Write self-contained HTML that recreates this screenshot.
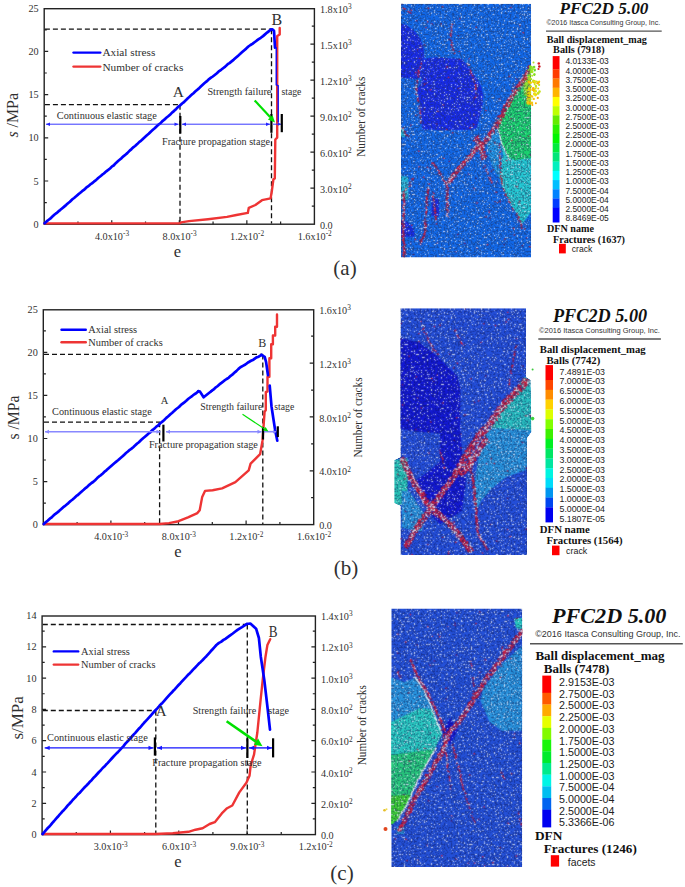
<!DOCTYPE html><html><head><meta charset="utf-8"><style>html,body{margin:0;padding:0;background:#fff;}svg{display:block;}</style></head><body>
<svg width="685" height="887" viewBox="0 0 685 887">
<defs><filter id="texA" x="0" y="0" width="1" height="1" color-interpolation-filters="sRGB">
<feTurbulence type="fractalNoise" baseFrequency="0.7" numOctaves="1" seed="5" result="n"/>
<feColorMatrix in="n" type="matrix" values="0 0 0 0 0.12  0 0 0 0 0.17  0 0 0 0 0.33  1 0 0 0 0" result="dn"/>
<feComponentTransfer in="dn" result="d"><feFuncA type="discrete" tableValues="0.62 0.62 0.62 0.62 0.62 0.62 0.62 0.62 0.4 0.15 0 0 0 0 0 0 0 0 0 0"/></feComponentTransfer>
<feColorMatrix in="n" type="matrix" values="0 0 0 0 0.86  0 0 0 0 0.89  0 0 0 0 0.96  1 0 0 0 0" result="wn"/>
<feComponentTransfer in="wn" result="w"><feFuncA type="discrete" tableValues="0 0 0 0 0 0 0 0 0 0 0 0 0 0.45 0.95 0.95 0.95 0.95 0.95 0.95"/></feComponentTransfer>
<feMerge result="m"><feMergeNode in="SourceGraphic"/><feMergeNode in="d"/><feMergeNode in="w"/></feMerge>
<feConvolveMatrix in="m" order="3" kernelMatrix="0.035 0.07 0.035 0.07 0.58 0.07 0.035 0.07 0.035" divisor="1" edgeMode="duplicate" preserveAlpha="true" result="mb"/>
<feComposite in="mb" in2="SourceGraphic" operator="in"/>
</filter><filter id="texB" x="0" y="0" width="1" height="1" color-interpolation-filters="sRGB">
<feTurbulence type="fractalNoise" baseFrequency="0.7" numOctaves="1" seed="8" result="n"/>
<feColorMatrix in="n" type="matrix" values="0 0 0 0 0.04  0 0 0 0 0.07  0 0 0 0 0.3  1 0 0 0 0" result="dn"/>
<feComponentTransfer in="dn" result="d"><feFuncA type="discrete" tableValues="0.55 0.55 0.55 0.55 0.55 0.55 0.55 0.55 0.32 0.12 0 0 0 0 0 0 0 0 0 0"/></feComponentTransfer>
<feColorMatrix in="n" type="matrix" values="0 0 0 0 0.86  0 0 0 0 0.89  0 0 0 0 0.96  1 0 0 0 0" result="wn"/>
<feComponentTransfer in="wn" result="w"><feFuncA type="discrete" tableValues="0 0 0 0 0 0 0 0 0 0 0 0 0 0.6 1.0 1.0 1.0 1.0 1.0 1.0"/></feComponentTransfer>
<feMerge result="m"><feMergeNode in="SourceGraphic"/><feMergeNode in="d"/><feMergeNode in="w"/></feMerge>
<feConvolveMatrix in="m" order="3" kernelMatrix="0.04 0.08 0.04 0.08 0.52 0.08 0.04 0.08 0.04" divisor="1" edgeMode="duplicate" preserveAlpha="true" result="mb"/>
<feComposite in="mb" in2="SourceGraphic" operator="in"/>
</filter></defs>
<rect width="685" height="887" fill="#fff"/>
<rect x="44.20" y="8.70" width="270.20" height="215.50" fill="none" stroke="#222" stroke-width="1.4"/>
<path d="M77.97 224.20v-2.6 M111.75 224.20v-4 M145.52 224.20v-2.6 M179.30 224.20v-4 M213.07 224.20v-2.6 M246.85 224.20v-4 M280.62 224.20v-2.6 M44.20 202.60h2.6 M44.20 181.00h4 M44.20 159.40h2.6 M44.20 137.80h4 M44.20 116.20h2.6 M44.20 94.60h4 M44.20 73.00h2.6 M44.20 51.40h4 M44.20 29.80h2.6 M314.40 206.20h-2.6 M314.40 188.20h-4 M314.40 170.20h-2.6 M314.40 152.20h-4 M314.40 134.20h-2.6 M314.40 116.20h-4 M314.40 98.20h-2.6 M314.40 80.20h-4 M314.40 62.20h-2.6 M314.40 44.20h-4 M314.40 26.20h-2.6" stroke="#222" stroke-width="1.2" fill="none"/>
<text x="38.6" y="227.7" font-family="'Liberation Serif', serif" font-size="10.2" text-anchor="end" font-weight="normal" font-style="normal" fill="#303030" >0</text>
<text x="38.6" y="184.5" font-family="'Liberation Serif', serif" font-size="10.2" text-anchor="end" font-weight="normal" font-style="normal" fill="#303030" >5</text>
<text x="38.6" y="141.3" font-family="'Liberation Serif', serif" font-size="10.2" text-anchor="end" font-weight="normal" font-style="normal" fill="#303030" >10</text>
<text x="38.6" y="98.1" font-family="'Liberation Serif', serif" font-size="10.2" text-anchor="end" font-weight="normal" font-style="normal" fill="#303030" >15</text>
<text x="38.6" y="54.9" font-family="'Liberation Serif', serif" font-size="10.2" text-anchor="end" font-weight="normal" font-style="normal" fill="#303030" >20</text>
<text x="38.6" y="11.7" font-family="'Liberation Serif', serif" font-size="10.2" text-anchor="end" font-weight="normal" font-style="normal" fill="#303030" >25</text>
<text x="319.9" y="228.8" font-family="'Liberation Serif', serif" font-size="10.2" text-anchor="start" font-weight="normal" font-style="normal" fill="#303030" >0.0</text>
<text x="319.9" y="192.8" font-family="'Liberation Serif', serif" font-size="10.2" text-anchor="start" fill="#303030">3.0x10<tspan font-size="7.3" dy="-3.7">2</tspan></text>
<text x="319.9" y="156.8" font-family="'Liberation Serif', serif" font-size="10.2" text-anchor="start" fill="#303030">6.0x10<tspan font-size="7.3" dy="-3.7">2</tspan></text>
<text x="319.9" y="120.8" font-family="'Liberation Serif', serif" font-size="10.2" text-anchor="start" fill="#303030">9.0x10<tspan font-size="7.3" dy="-3.7">2</tspan></text>
<text x="319.9" y="84.8" font-family="'Liberation Serif', serif" font-size="10.2" text-anchor="start" fill="#303030">1.2x10<tspan font-size="7.3" dy="-3.7">3</tspan></text>
<text x="319.9" y="48.8" font-family="'Liberation Serif', serif" font-size="10.2" text-anchor="start" fill="#303030">1.5x10<tspan font-size="7.3" dy="-3.7">3</tspan></text>
<text x="319.9" y="12.8" font-family="'Liberation Serif', serif" font-size="10.2" text-anchor="start" fill="#303030">1.8x10<tspan font-size="7.3" dy="-3.7">3</tspan></text>
<text x="112.0" y="239.9" font-family="'Liberation Serif', serif" font-size="10.2" text-anchor="middle" fill="#303030">4.0x10<tspan font-size="7.3" dy="-3.7">-3</tspan></text>
<text x="179.6" y="239.9" font-family="'Liberation Serif', serif" font-size="10.2" text-anchor="middle" fill="#303030">8.0x10<tspan font-size="7.3" dy="-3.7">-3</tspan></text>
<text x="247.1" y="239.9" font-family="'Liberation Serif', serif" font-size="10.2" text-anchor="middle" fill="#303030">1.2x10<tspan font-size="7.3" dy="-3.7">-2</tspan></text>
<text x="314.7" y="239.9" font-family="'Liberation Serif', serif" font-size="10.2" text-anchor="middle" fill="#303030">1.6x10<tspan font-size="7.3" dy="-3.7">-2</tspan></text>
<rect x="43.30" y="309.80" width="270.40" height="214.80" fill="none" stroke="#222" stroke-width="1.4"/>
<path d="M77.10 524.60v-2.6 M110.90 524.60v-4 M144.70 524.60v-2.6 M178.50 524.60v-4 M212.30 524.60v-2.6 M246.10 524.60v-4 M279.90 524.60v-2.6 M43.30 503.07h2.6 M43.30 481.54h4 M43.30 460.01h2.6 M43.30 438.48h4 M43.30 416.95h2.6 M43.30 395.42h4 M43.30 373.89h2.6 M43.30 352.36h4 M43.30 330.83h2.6 M313.70 497.69h-2.6 M313.70 470.78h-4 M313.70 443.86h-2.6 M313.70 416.95h-4 M313.70 390.04h-2.6 M313.70 363.12h-4 M313.70 336.21h-2.6" stroke="#222" stroke-width="1.2" fill="none"/>
<text x="37.8" y="528.1" font-family="'Liberation Serif', serif" font-size="10.2" text-anchor="end" font-weight="normal" font-style="normal" fill="#303030" >0</text>
<text x="37.8" y="485.0" font-family="'Liberation Serif', serif" font-size="10.2" text-anchor="end" font-weight="normal" font-style="normal" fill="#303030" >5</text>
<text x="37.8" y="442.0" font-family="'Liberation Serif', serif" font-size="10.2" text-anchor="end" font-weight="normal" font-style="normal" fill="#303030" >10</text>
<text x="37.8" y="398.9" font-family="'Liberation Serif', serif" font-size="10.2" text-anchor="end" font-weight="normal" font-style="normal" fill="#303030" >15</text>
<text x="37.8" y="355.9" font-family="'Liberation Serif', serif" font-size="10.2" text-anchor="end" font-weight="normal" font-style="normal" fill="#303030" >20</text>
<text x="37.8" y="312.8" font-family="'Liberation Serif', serif" font-size="10.2" text-anchor="end" font-weight="normal" font-style="normal" fill="#303030" >25</text>
<text x="319.2" y="529.2" font-family="'Liberation Serif', serif" font-size="10.2" text-anchor="start" font-weight="normal" font-style="normal" fill="#303030" >0.0</text>
<text x="319.2" y="475.4" font-family="'Liberation Serif', serif" font-size="10.2" text-anchor="start" fill="#303030">4.0x10<tspan font-size="7.3" dy="-3.7">2</tspan></text>
<text x="319.2" y="421.6" font-family="'Liberation Serif', serif" font-size="10.2" text-anchor="start" fill="#303030">8.0x10<tspan font-size="7.3" dy="-3.7">2</tspan></text>
<text x="319.2" y="367.7" font-family="'Liberation Serif', serif" font-size="10.2" text-anchor="start" fill="#303030">1.2x10<tspan font-size="7.3" dy="-3.7">3</tspan></text>
<text x="319.2" y="313.9" font-family="'Liberation Serif', serif" font-size="10.2" text-anchor="start" fill="#303030">1.6x10<tspan font-size="7.3" dy="-3.7">3</tspan></text>
<text x="111.2" y="540.3" font-family="'Liberation Serif', serif" font-size="10.2" text-anchor="middle" fill="#303030">4.0x10<tspan font-size="7.3" dy="-3.7">-3</tspan></text>
<text x="178.8" y="540.3" font-family="'Liberation Serif', serif" font-size="10.2" text-anchor="middle" fill="#303030">8.0x10<tspan font-size="7.3" dy="-3.7">-3</tspan></text>
<text x="246.4" y="540.3" font-family="'Liberation Serif', serif" font-size="10.2" text-anchor="middle" fill="#303030">1.2x10<tspan font-size="7.3" dy="-3.7">-2</tspan></text>
<text x="314.0" y="540.3" font-family="'Liberation Serif', serif" font-size="10.2" text-anchor="middle" fill="#303030">1.6x10<tspan font-size="7.3" dy="-3.7">-2</tspan></text>
<rect x="42.10" y="616.00" width="273.30" height="218.60" fill="none" stroke="#222" stroke-width="1.4"/>
<path d="M76.26 834.60v-2.6 M110.42 834.60v-4 M144.59 834.60v-2.6 M178.75 834.60v-4 M212.91 834.60v-2.6 M247.07 834.60v-4 M281.24 834.60v-2.6 M42.10 818.95h2.6 M42.10 803.30h4 M42.10 787.65h2.6 M42.10 772.00h4 M42.10 756.35h2.6 M42.10 740.70h4 M42.10 725.05h2.6 M42.10 709.40h4 M42.10 693.75h2.6 M42.10 678.10h4 M42.10 662.45h2.6 M42.10 646.80h4 M42.10 631.15h2.6 M315.40 818.95h-2.6 M315.40 803.30h-4 M315.40 787.65h-2.6 M315.40 772.00h-4 M315.40 756.35h-2.6 M315.40 740.70h-4 M315.40 725.05h-2.6 M315.40 709.40h-4 M315.40 693.75h-2.6 M315.40 678.10h-4 M315.40 662.45h-2.6 M315.40 646.80h-4 M315.40 631.15h-2.6" stroke="#222" stroke-width="1.2" fill="none"/>
<text x="36.5" y="838.1" font-family="'Liberation Serif', serif" font-size="10.2" text-anchor="end" font-weight="normal" font-style="normal" fill="#303030" >0</text>
<text x="36.5" y="806.8" font-family="'Liberation Serif', serif" font-size="10.2" text-anchor="end" font-weight="normal" font-style="normal" fill="#303030" >2</text>
<text x="36.5" y="775.5" font-family="'Liberation Serif', serif" font-size="10.2" text-anchor="end" font-weight="normal" font-style="normal" fill="#303030" >4</text>
<text x="36.5" y="744.2" font-family="'Liberation Serif', serif" font-size="10.2" text-anchor="end" font-weight="normal" font-style="normal" fill="#303030" >6</text>
<text x="36.5" y="712.9" font-family="'Liberation Serif', serif" font-size="10.2" text-anchor="end" font-weight="normal" font-style="normal" fill="#303030" >8</text>
<text x="36.5" y="681.6" font-family="'Liberation Serif', serif" font-size="10.2" text-anchor="end" font-weight="normal" font-style="normal" fill="#303030" >10</text>
<text x="36.5" y="650.3" font-family="'Liberation Serif', serif" font-size="10.2" text-anchor="end" font-weight="normal" font-style="normal" fill="#303030" >12</text>
<text x="36.5" y="619.0" font-family="'Liberation Serif', serif" font-size="10.2" text-anchor="end" font-weight="normal" font-style="normal" fill="#303030" >14</text>
<text x="320.9" y="839.2" font-family="'Liberation Serif', serif" font-size="10.2" text-anchor="start" font-weight="normal" font-style="normal" fill="#303030" >0.0</text>
<text x="320.9" y="807.9" font-family="'Liberation Serif', serif" font-size="10.2" text-anchor="start" fill="#303030">2.0x10<tspan font-size="7.3" dy="-3.7">2</tspan></text>
<text x="320.9" y="776.6" font-family="'Liberation Serif', serif" font-size="10.2" text-anchor="start" fill="#303030">4.0x10<tspan font-size="7.3" dy="-3.7">2</tspan></text>
<text x="320.9" y="745.3" font-family="'Liberation Serif', serif" font-size="10.2" text-anchor="start" fill="#303030">6.0x10<tspan font-size="7.3" dy="-3.7">2</tspan></text>
<text x="320.9" y="714.0" font-family="'Liberation Serif', serif" font-size="10.2" text-anchor="start" fill="#303030">8.0x10<tspan font-size="7.3" dy="-3.7">2</tspan></text>
<text x="320.9" y="682.7" font-family="'Liberation Serif', serif" font-size="10.2" text-anchor="start" fill="#303030">1.0x10<tspan font-size="7.3" dy="-3.7">3</tspan></text>
<text x="320.9" y="651.4" font-family="'Liberation Serif', serif" font-size="10.2" text-anchor="start" fill="#303030">1.2x10<tspan font-size="7.3" dy="-3.7">3</tspan></text>
<text x="320.9" y="620.1" font-family="'Liberation Serif', serif" font-size="10.2" text-anchor="start" fill="#303030">1.4x10<tspan font-size="7.3" dy="-3.7">3</tspan></text>
<text x="110.7" y="850.3" font-family="'Liberation Serif', serif" font-size="10.2" text-anchor="middle" fill="#303030">3.0x10<tspan font-size="7.3" dy="-3.7">-3</tspan></text>
<text x="179.0" y="850.3" font-family="'Liberation Serif', serif" font-size="10.2" text-anchor="middle" fill="#303030">6.0x10<tspan font-size="7.3" dy="-3.7">-3</tspan></text>
<text x="247.4" y="850.3" font-family="'Liberation Serif', serif" font-size="10.2" text-anchor="middle" fill="#303030">9.0x10<tspan font-size="7.3" dy="-3.7">-3</tspan></text>
<text x="315.7" y="850.3" font-family="'Liberation Serif', serif" font-size="10.2" text-anchor="middle" fill="#303030">1.2x10<tspan font-size="7.3" dy="-3.7">-2</tspan></text>
<line x1="44.9" y1="29.2" x2="271.5" y2="29.2" stroke="#111" stroke-width="1.3" stroke-dasharray="5 3"/>
<line x1="44.9" y1="104.7" x2="180.0" y2="104.7" stroke="#111" stroke-width="1.3" stroke-dasharray="5 3"/>
<line x1="180.0" y1="104.7" x2="180.0" y2="223.4" stroke="#111" stroke-width="1.3" stroke-dasharray="5 3"/>
<line x1="271.5" y1="29.2" x2="271.5" y2="223.4" stroke="#111" stroke-width="1.3" stroke-dasharray="5 3"/>
<polyline points="44.5,223.4 179.5,223.4 181.0,222.4 189.0,221.1 208.0,219.2 227.0,216.9 236.4,215.0 247.8,212.9 248.8,207.8 255.4,205.0 262.0,200.2 270.6,198.3 271.9,190.7 273.4,179.3 274.8,178.4 275.3,139.5 277.2,137.6 277.2,36.0 279.7,34.5 279.7,28.0" fill="none" stroke="#ee3434" stroke-width="2.4" stroke-linejoin="round" stroke-linecap="round" />
<polyline points="44.6,223.2 46.6,221.4 48.4,220.0 50.2,218.7 52.4,216.6 54.6,214.5 56.4,213.2 58.4,211.4 60.1,210.1 62.3,208.2 64.2,206.6 66.0,205.1 68.0,203.3 69.9,201.8 72.4,199.3 74.1,198.0 76.1,196.3 78.2,194.4 80.0,193.0 82.1,191.2 83.9,189.9 86.2,187.7 88.0,186.4 90.3,184.4 91.9,183.4 93.9,181.7 95.7,180.4 98.2,178.0 100.1,176.5 102.2,174.7 103.9,173.5 106.3,171.3 108.2,169.9 110.0,168.5 112.1,166.4 113.6,165.5 116.0,162.9 118.1,161.0 119.9,159.5 121.6,158.1 123.7,156.1 125.4,154.7 127.3,153.1 129.7,150.6 131.5,149.1 133.6,147.1 135.1,146.0 137.2,144.1 139.4,141.9 140.9,140.9 143.1,138.7 145.0,137.0 146.9,135.3 148.7,133.8 151.0,131.5 152.9,129.8 154.7,128.3 156.8,126.2 158.9,124.3 160.3,123.4 162.8,120.8 164.3,119.7 166.3,117.8 168.2,116.3 170.0,114.7 172.3,112.4 173.9,111.1 176.2,108.9 178.3,106.8 180.0,105.5 182.1,103.5 183.6,102.4 185.5,100.6 187.8,98.2 189.5,96.8 191.7,94.6 193.2,93.5 195.2,91.6 197.0,90.0 198.7,88.6 200.8,86.5 202.7,84.7 204.6,83.0 206.6,81.4 209.1,79.1 211.0,77.7 212.8,76.5 214.7,75.0 216.9,73.2 219.2,71.1 221.1,69.8 223.1,68.2 225.2,66.6 227.7,64.2 229.5,63.1 231.6,61.4 233.8,59.6 235.8,57.8 237.9,55.9 240.0,54.1 242.2,52.1 244.3,50.2 246.2,48.6 248.4,46.5 250.5,45.0 252.4,43.9 254.5,42.3 256.6,40.7 258.7,39.2 260.8,37.8 263.0,36.1 265.0,34.4 267.1,32.6 269.0,31.1 271.0,29.5" fill="none" stroke="#0000ff" stroke-width="2.7" stroke-linejoin="round" stroke-linecap="round" />
<polyline points="271.0,29.5 272.3,29.4 274.0,30.8 275.0,47.7" fill="none" stroke="#0000ff" stroke-width="2.7" stroke-linejoin="round" stroke-linecap="round" />
<polyline points="276.2,47.7 276.2,84.9 278.2,85.5 278.2,122.0" fill="none" stroke="#0000ff" stroke-width="1.3" stroke-linejoin="round" stroke-linecap="round" />
<line x1="46.0" y1="124.2" x2="178.5" y2="124.2" stroke="#2222ff" stroke-width="0.9"/>
<path d="M178.5 124.2l-4 -1.8v3.6z" fill="#2222ff"/>
<path d="M46.0 124.2l4 -1.8v3.6z" fill="#2222ff"/>
<line x1="182.0" y1="124.2" x2="270.0" y2="124.2" stroke="#2222ff" stroke-width="0.9"/>
<path d="M270.0 124.2l-4 -1.8v3.6z" fill="#2222ff"/>
<path d="M182.0 124.2l4 -1.8v3.6z" fill="#2222ff"/>
<line x1="273.0" y1="124.2" x2="281.0" y2="124.2" stroke="#2222ff" stroke-width="0.9"/>
<path d="M281.0 124.2l-3 -1.6v3.2z" fill="#2222ff"/>
<line x1="180.3" y1="116.0" x2="180.3" y2="133.6" stroke="#000" stroke-width="2.2"/>
<line x1="271.4" y1="114.0" x2="271.4" y2="132.8" stroke="#000" stroke-width="2.2"/>
<line x1="281.8" y1="114.0" x2="281.8" y2="132.2" stroke="#000" stroke-width="2.2"/>
<line x1="254.7" y1="100.4" x2="270.3" y2="117.3" stroke="#00e000" stroke-width="2.2"/>
<path d="M275.0 122.5L267.9 119.5L272.6 115.2z" fill="#00e000"/>
<text x="56.8" y="118.7" font-family="'Liberation Serif', serif" font-size="10.2" text-anchor="start" font-weight="normal" font-style="normal" fill="#303030" textLength="100" lengthAdjust="spacingAndGlyphs" >Continuous elastic stage</text>
<text x="162.0" y="144.6" font-family="'Liberation Serif', serif" font-size="10.2" text-anchor="start" font-weight="normal" font-style="normal" fill="#303030" textLength="108" lengthAdjust="spacingAndGlyphs" >Fracture propagation stage</text>
<text x="207.4" y="95.3" font-family="'Liberation Serif', serif" font-size="10.2" text-anchor="start" font-weight="normal" font-style="normal" fill="#303030" textLength="64" lengthAdjust="spacingAndGlyphs" >Strength failure</text>
<text x="281.4" y="95.3" font-family="'Liberation Serif', serif" font-size="10.2" text-anchor="start" font-weight="normal" font-style="normal" fill="#303030" textLength="20" lengthAdjust="spacingAndGlyphs" >stage</text>
<text x="172.8" y="97.3" font-family="'Liberation Serif', serif" font-size="15.5" text-anchor="start" font-weight="normal" font-style="normal" fill="#303030" >A</text>
<text x="271.6" y="24.9" font-family="'Liberation Serif', serif" font-size="16" text-anchor="start" font-weight="normal" font-style="normal" fill="#303030" >B</text>
<line x1="73.5" y1="52.6" x2="100.3" y2="52.6" stroke="#0000ff" stroke-width="2.4" stroke-linecap="round"/>
<line x1="73.5" y1="66.6" x2="100.3" y2="66.6" stroke="#ee3434" stroke-width="2.4" stroke-linecap="round"/>
<text x="102.4" y="55.9" font-family="'Liberation Serif', serif" font-size="11.3" text-anchor="start" font-weight="normal" font-style="normal" fill="#303030" >Axial stress</text>
<text x="102.4" y="70.7" font-family="'Liberation Serif', serif" font-size="11.3" text-anchor="start" font-weight="normal" font-style="normal" fill="#303030" >Number of cracks</text>
<text transform="translate(17.6,137.6) rotate(-90)" font-family="'Liberation Serif', serif" font-size="16" fill="#303030" textLength="44.6" lengthAdjust="spacingAndGlyphs"><tspan font-style="italic">s</tspan> /MPa</text>
<text transform="translate(364.5,116.7) rotate(-90)" font-family="'Liberation Serif', serif" font-size="11.8" text-anchor="middle" fill="#303030" textLength="80" lengthAdjust="spacingAndGlyphs">Number of cracks</text>
<text x="177.5" y="256.5" font-family="'Liberation Serif', serif" font-size="16.5" text-anchor="middle" font-weight="normal" font-style="normal" fill="#303030" >e</text>
<text x="345.0" y="275.0" font-family="'Liberation Serif', serif" font-size="21" text-anchor="middle" font-weight="normal" font-style="normal" fill="#303030" >(a)</text>
<line x1="44.0" y1="354.4" x2="262.8" y2="354.4" stroke="#111" stroke-width="1.3" stroke-dasharray="5 3"/>
<line x1="44.0" y1="422.2" x2="160.0" y2="422.2" stroke="#111" stroke-width="1.3" stroke-dasharray="5 3"/>
<line x1="159.6" y1="422.2" x2="159.6" y2="524.0" stroke="#111" stroke-width="1.3" stroke-dasharray="5 3"/>
<line x1="262.8" y1="354.4" x2="262.8" y2="524.0" stroke="#111" stroke-width="1.3" stroke-dasharray="5 3"/>
<polyline points="43.8,524.0 159.5,524.0 169.0,523.1 178.5,521.2 188.0,517.4 197.4,513.1 199.7,510.2 202.2,496.9 205.0,490.9 212.6,490.3 222.1,488.4 235.4,482.1 248.7,470.4 250.6,463.7 260.1,454.2 262.5,440.7 264.6,411.9 265.8,410.0 265.8,392.0 267.5,391.6 267.5,376.7 269.4,376.7 269.4,358.3 271.2,358.3 271.2,344.3 272.9,344.3 272.9,335.5 275.2,335.5 275.2,326.8 277.0,326.8 277.0,314.5" fill="none" stroke="#ee3434" stroke-width="2.4" stroke-linejoin="round" stroke-linecap="round" />
<polyline points="43.8,524.0 45.9,522.1 47.6,520.8 49.8,518.7 51.3,517.7 53.6,515.4 55.5,513.8 57.1,512.6 59.0,511.1 61.0,509.3 63.0,507.4 64.7,506.2 66.4,504.8 68.4,503.1 70.6,501.0 72.3,499.7 74.3,497.9 76.4,495.9 77.9,495.0 80.0,493.0 82.0,491.2 83.7,489.8 85.9,487.8 87.5,486.6 89.6,484.6 91.5,483.0 93.1,482.0 95.1,480.2 97.2,478.1 99.3,476.2 100.7,475.3 102.8,473.4 105.0,471.3 106.6,470.1 108.6,468.3 110.6,466.5 112.6,464.7 114.6,463.0 116.3,461.6 118.0,460.3 120.0,458.5 122.0,456.8 124.0,454.9 126.0,453.0 127.9,451.5 129.8,449.8 131.2,448.9 133.2,447.2 135.0,445.6 137.2,443.5 138.9,442.2 141.1,440.1 143.1,438.3 144.9,436.8 146.7,435.2 148.9,433.2 150.3,432.3 152.7,429.8 154.4,428.6 156.6,426.4 157.9,425.7 160.2,423.3 162.0,421.9 164.0,420.2 166.3,417.9 168.0,416.5 170.2,414.4 172.0,413.0 174.1,411.1 176.3,409.0 178.0,407.7 179.9,406.1 182.0,404.1 184.0,402.6 186.0,401.0 188.4,398.8 190.5,397.2 192.4,395.8 194.4,394.2 196.1,393.3 198.4,391.2" fill="none" stroke="#0000ff" stroke-width="2.7" stroke-linejoin="round" stroke-linecap="round" />
<polyline points="198.4,391.2 200.0,391.6 203.6,397.3 211.5,391.0" fill="none" stroke="#0000ff" stroke-width="2.7" stroke-linejoin="round" stroke-linecap="round" />
<polyline points="211.5,391.0 213.3,389.7 215.4,387.7 217.1,386.5 219.4,384.4 221.8,382.6 224.2,380.7 226.6,379.0 228.6,377.8 230.7,375.8 232.3,374.7 234.3,372.8 236.3,371.1 238.5,368.9 240.4,367.3 242.9,365.9 245.4,364.5 248.5,362.2 251.0,360.8 253.4,359.7 256.5,357.4 258.7,356.7 261.5,354.9" fill="none" stroke="#0000ff" stroke-width="2.7" stroke-linejoin="round" stroke-linecap="round" />
<polyline points="261.5,354.9 264.7,356.8 266.1,362.1 267.4,371.3 268.0,375.2" fill="none" stroke="#0000ff" stroke-width="2.7" stroke-linejoin="round" stroke-linecap="round" />
<polyline points="269.7,385.7 271.5,406.4 273.3,418.2 275.1,429.9 277.3,440.7" fill="none" stroke="#0000ff" stroke-width="2.7" stroke-linejoin="round" stroke-linecap="round" />
<line x1="45.0" y1="431.7" x2="160.5" y2="431.7" stroke="#8888ff" stroke-width="1.6"/>
<path d="M160.5 431.7l-4 -2v4z" fill="#8888ff"/>
<path d="M45.0 431.7l4 -2v4z" fill="#8888ff"/>
<line x1="166.0" y1="431.7" x2="261.5" y2="431.7" stroke="#8888ff" stroke-width="1.6"/>
<path d="M261.5 431.7l-4 -2v4z" fill="#8888ff"/>
<path d="M166.0 431.7l4 -2v4z" fill="#8888ff"/>
<line x1="264.0" y1="431.7" x2="276.0" y2="431.7" stroke="#8888ff" stroke-width="1.6"/>
<path d="M276.0 431.7l-3 -1.8v3.6z" fill="#8888ff"/>
<line x1="163.4" y1="424.7" x2="163.4" y2="441.5" stroke="#000" stroke-width="2.2"/>
<line x1="263.0" y1="427.0" x2="263.0" y2="439.5" stroke="#000" stroke-width="2.2"/>
<line x1="277.8" y1="426.3" x2="277.8" y2="437.1" stroke="#000" stroke-width="2.2"/>
<line x1="242.5" y1="414.2" x2="264.3" y2="428.7" stroke="#00e000" stroke-width="1.2"/>
<path d="M268.5 431.5L263.1 430.6L265.6 426.9z" fill="#00e000"/>
<text x="52.1" y="415.2" font-family="'Liberation Serif', serif" font-size="10.2" text-anchor="start" font-weight="normal" font-style="normal" fill="#303030" textLength="99.6" lengthAdjust="spacingAndGlyphs" >Continuous elastic stage</text>
<text x="148.9" y="447.6" font-family="'Liberation Serif', serif" font-size="10.2" text-anchor="start" font-weight="normal" font-style="normal" fill="#303030" textLength="109" lengthAdjust="spacingAndGlyphs" >Fracture propagation stage</text>
<text x="200.3" y="410.2" font-family="'Liberation Serif', serif" font-size="10.2" text-anchor="start" font-weight="normal" font-style="normal" fill="#303030" textLength="62" lengthAdjust="spacingAndGlyphs" >Strength failure</text>
<text x="274.3" y="410.2" font-family="'Liberation Serif', serif" font-size="10.2" text-anchor="start" font-weight="normal" font-style="normal" fill="#303030" textLength="20" lengthAdjust="spacingAndGlyphs" >stage</text>
<text x="160.8" y="404.3" font-family="'Liberation Serif', serif" font-size="10.5" text-anchor="start" font-weight="normal" font-style="normal" fill="#303030" >A</text>
<text x="258.3" y="346.9" font-family="'Liberation Serif', serif" font-size="12" text-anchor="start" font-weight="normal" font-style="normal" fill="#303030" >B</text>
<line x1="61.5" y1="329.8" x2="85.8" y2="329.8" stroke="#0000ff" stroke-width="2.4" stroke-linecap="round"/>
<line x1="61.5" y1="342.2" x2="85.8" y2="342.2" stroke="#ee3434" stroke-width="2.4" stroke-linecap="round"/>
<text x="88.3" y="333.3" font-family="'Liberation Serif', serif" font-size="10.4" text-anchor="start" font-weight="normal" font-style="normal" fill="#303030" >Axial stress</text>
<text x="88.3" y="345.7" font-family="'Liberation Serif', serif" font-size="10.4" text-anchor="start" font-weight="normal" font-style="normal" fill="#303030" >Number of cracks</text>
<text transform="translate(19.3,439.6) rotate(-90)" font-family="'Liberation Serif', serif" font-size="16" fill="#303030" textLength="44.1" lengthAdjust="spacingAndGlyphs">s /MPa</text>
<text transform="translate(362.2,417.5) rotate(-90)" font-family="'Liberation Serif', serif" font-size="11.8" text-anchor="middle" fill="#303030" textLength="80" lengthAdjust="spacingAndGlyphs">Number of cracks</text>
<text x="178.0" y="557.0" font-family="'Liberation Serif', serif" font-size="16.5" text-anchor="middle" font-weight="normal" font-style="normal" fill="#303030" >e</text>
<text x="346.0" y="575.0" font-family="'Liberation Serif', serif" font-size="21" text-anchor="middle" font-weight="normal" font-style="normal" fill="#303030" >(b)</text>
<line x1="42.8" y1="624.5" x2="247.3" y2="624.5" stroke="#111" stroke-width="1.3" stroke-dasharray="5 3"/>
<line x1="42.8" y1="710.5" x2="155.8" y2="710.5" stroke="#111" stroke-width="1.3" stroke-dasharray="5 3"/>
<line x1="155.8" y1="710.5" x2="155.8" y2="834.0" stroke="#111" stroke-width="1.3" stroke-dasharray="5 3"/>
<line x1="247.3" y1="624.5" x2="247.3" y2="834.0" stroke="#111" stroke-width="1.3" stroke-dasharray="5 3"/>
<polyline points="42.6,834.0 155.3,834.0 172.8,833.2 188.5,831.8 195.5,829.7 202.6,828.3 209.6,824.0 214.8,822.2 221.8,813.4 227.1,808.2 232.3,805.5 239.3,792.4 246.4,782.8 249.5,775.8 250.7,765.3 254.0,754.7 257.3,732.8 260.6,700.0 262.7,680.1 265.5,656.7 267.4,645.0 270.2,639.2" fill="none" stroke="#ee3434" stroke-width="2.4" stroke-linejoin="round" stroke-linecap="round" />
<polyline points="42.6,834.0 44.2,832.2 46.2,829.8 47.8,828.0 49.1,826.8 50.8,824.9 52.6,822.6 54.1,821.0 56.1,818.6 57.8,816.8 59.6,814.7 61.0,813.2 62.9,810.9 64.2,809.7 65.8,807.9 67.8,805.4 69.2,804.0 70.8,802.3 72.7,800.0 74.3,798.4 76.1,796.5 78.1,794.1 79.5,793.0 81.4,790.9 83.4,788.6 84.9,787.0 86.5,785.5 88.4,783.5 90.2,781.4 91.8,779.9 93.9,777.4 95.4,776.0 97.2,774.0 99.0,772.0 100.6,770.5 102.7,768.0 104.1,766.8 105.9,764.8 107.6,763.1 109.4,761.1 111.3,759.0 113.1,757.0 115.1,754.9 116.6,753.3 118.1,751.9 120.0,749.9 121.8,747.9 123.3,746.3 125.4,743.7 127.1,741.8 128.3,740.7 130.2,738.5 132.0,736.5 133.8,734.4 135.3,732.9 137.2,730.6 138.9,728.6 140.2,727.5 142.3,724.9 144.1,722.8 145.7,721.1 147.3,719.4 148.9,717.6 150.6,715.8 152.0,714.2 153.9,712.0 155.7,710.0 157.3,708.4 159.3,706.0 161.0,704.1 162.4,702.9 164.2,700.9 166.1,698.7 168.1,696.4 169.9,694.4 171.5,692.8 173.5,690.5 174.7,689.4 176.7,687.1 178.6,685.0 180.4,683.2 182.2,681.2 184.1,679.1 186.0,677.1 187.8,675.1 189.3,673.7 191.1,671.9 193.1,669.6 195.0,667.7 197.0,665.6 199.2,663.3 200.8,661.9 202.7,660.0 204.7,657.9 206.4,656.2 208.5,653.8 210.7,651.3 212.4,649.5 214.3,647.4 216.4,645.0 219.0,642.9 221.0,641.9 223.5,639.9 225.7,638.7 228.1,636.9 230.5,635.1 232.8,633.5 235.0,631.8 237.5,629.9 239.9,628.3 242.0,627.1 244.3,625.7 246.8,624.0" fill="none" stroke="#0000ff" stroke-width="2.7" stroke-linejoin="round" stroke-linecap="round" />
<polyline points="246.8,624.0 250.3,623.5 256.1,628.7 258.9,638.0 260.8,656.7 264.3,680.1 267.8,710.0 270.0,729.6" fill="none" stroke="#0000ff" stroke-width="2.7" stroke-linejoin="round" stroke-linecap="round" />
<line x1="44.7" y1="747.9" x2="153.5" y2="747.9" stroke="#1515ff" stroke-width="1.4"/>
<path d="M153.5 747.9l-5 -2.2v4.4z" fill="#1515ff"/>
<path d="M44.7 747.9l5 -2.2v4.4z" fill="#1515ff"/>
<line x1="157.0" y1="747.9" x2="246.0" y2="747.9" stroke="#1515ff" stroke-width="1.4"/>
<path d="M246.0 747.9l-5 -2.2v4.4z" fill="#1515ff"/>
<path d="M157.0 747.9l5 -2.2v4.4z" fill="#1515ff"/>
<line x1="249.0" y1="747.9" x2="272.0" y2="747.9" stroke="#1515ff" stroke-width="1.4"/>
<path d="M272.0 747.9l-5 -2.2v4.4z" fill="#1515ff"/>
<path d="M249.0 747.9l5 -2.2v4.4z" fill="#1515ff"/>
<line x1="154.9" y1="737.4" x2="154.9" y2="755.6" stroke="#000" stroke-width="2.2"/>
<line x1="247.4" y1="738.3" x2="247.4" y2="758.0" stroke="#000" stroke-width="2.2"/>
<line x1="273.1" y1="738.3" x2="273.1" y2="757.4" stroke="#000" stroke-width="2.2"/>
<line x1="226.6" y1="721.2" x2="255.9" y2="741.6" stroke="#00e000" stroke-width="2.6"/>
<path d="M262.5 746.2L253.8 744.7L258.1 738.5z" fill="#00e000"/>
<text x="47.0" y="741.3" font-family="'Liberation Serif', serif" font-size="10.2" text-anchor="start" font-weight="normal" font-style="normal" fill="#303030" textLength="100.9" lengthAdjust="spacingAndGlyphs" >Continuous elastic stage</text>
<text x="152.2" y="765.7" font-family="'Liberation Serif', serif" font-size="10.2" text-anchor="start" font-weight="normal" font-style="normal" fill="#303030" textLength="109.5" lengthAdjust="spacingAndGlyphs" >Fracture propagation stage</text>
<text x="192.7" y="714.2" font-family="'Liberation Serif', serif" font-size="10.2" text-anchor="start" font-weight="normal" font-style="normal" fill="#303030" textLength="63.5" lengthAdjust="spacingAndGlyphs" >Strength failure</text>
<text x="268.2" y="714.2" font-family="'Liberation Serif', serif" font-size="10.2" text-anchor="start" font-weight="normal" font-style="normal" fill="#303030" textLength="20.8" lengthAdjust="spacingAndGlyphs" >stage</text>
<text x="155.8" y="715.9" font-family="'Liberation Serif', serif" font-size="15" text-anchor="start" font-weight="normal" font-style="normal" fill="#303030" >A</text>
<text x="268.8" y="636.6" font-family="'Liberation Serif', serif" font-size="17" text-anchor="start" font-weight="normal" font-style="normal" fill="#303030" textLength="8.8" lengthAdjust="spacingAndGlyphs" >B</text>
<line x1="53.8" y1="651.4" x2="78.2" y2="651.4" stroke="#0000ff" stroke-width="2.4" stroke-linecap="round"/>
<line x1="53.8" y1="664.6" x2="78.2" y2="664.6" stroke="#ee3434" stroke-width="2.4" stroke-linecap="round"/>
<text x="81.1" y="655.0" font-family="'Liberation Serif', serif" font-size="10.4" text-anchor="start" font-weight="normal" font-style="normal" fill="#303030" >Axial stress</text>
<text x="81.1" y="668.2" font-family="'Liberation Serif', serif" font-size="10.4" text-anchor="start" font-weight="normal" font-style="normal" fill="#303030" >Number of cracks</text>
<text transform="translate(23.3,739.6) rotate(-90)" font-family="'Liberation Serif', serif" font-size="17" fill="#303030" textLength="43.4" lengthAdjust="spacingAndGlyphs">s/MPa</text>
<text transform="translate(366,725.2) rotate(-90)" font-family="'Liberation Serif', serif" font-size="11.8" text-anchor="middle" fill="#303030" textLength="80" lengthAdjust="spacingAndGlyphs">Number of cracks</text>
<text x="178.0" y="867.0" font-family="'Liberation Serif', serif" font-size="16.5" text-anchor="middle" font-weight="normal" font-style="normal" fill="#303030" >e</text>
<text x="342.0" y="880.0" font-family="'Liberation Serif', serif" font-size="21" text-anchor="middle" font-weight="normal" font-style="normal" fill="#303030" >(c)</text>
<clipPath id="clipa"><path d="M401 3.7H531.2V257.6H401Z"/></clipPath>
<g filter="url(#texA)"><g clip-path="url(#clipa)">
<path d="M401 3.7H531.2V257.6H401Z" fill="rgb(16,106,238)"/>
<polygon points="401.0,23.5 406.8,24.9 414.1,30.8 420.0,38.1 423.7,48.4 424.4,58.7 422.9,66.0 421.5,78.0 415.0,79.0 401.0,77.7" fill="rgb(22,42,238)"/>
<polygon points="424.4,58.7 434.7,57.2 446.4,57.9 456.7,58.7 462.5,59.5 470.9,70.4 476.7,77.7 481.1,86.5 483.3,95.3 482.6,105.6 479.7,117.3 476.7,128.0 470.0,130.0 440.0,130.0 422.2,129.5 421.5,117.3 420.0,102.6 417.1,89.4 421.5,82.1 422.9,66.0" fill="rgb(22,42,238)"/>
<polygon points="497.7,128.0 531.2,128.0 531.2,212.0 522.0,224.0 517.0,214.2 509.6,202.3 502.2,187.5 499.2,177.0 500.0,165.0 503.0,155.0 500.0,140.0" fill="rgb(35,205,215)"/>
<polygon points="486.0,140.0 497.0,128.0 501.0,145.0 502.0,165.0 499.0,177.0 495.0,172.0 490.0,160.0" fill="rgb(30,150,235)"/>
<polygon points="530.2,66.0 531.2,66.0 531.2,158.0 515.0,160.0 508.0,157.0 502.2,144.4 497.7,128.0 498.7,120.2 506.0,107.0 513.4,93.8 523.7,79.2" fill="rgb(25,215,110)"/>
<polygon points="523.0,79.0 531.2,68.0 531.2,92.0 524.0,96.0" fill="rgb(150,230,45)"/>
<polygon points="527.0,90.0 531.2,88.0 531.2,104.0 526.0,104.0" fill="rgb(245,215,0)"/>
<polygon points="400.0,175.7 408.4,177.0 408.4,199.5 400.0,199.5" fill="rgb(35,185,220)"/>
<polygon points="400.0,128.0 404.0,128.0 405.0,137.0 400.0,137.0" fill="rgb(35,185,220)"/>
<polygon points="431.5,198.0 439.0,199.0 439.0,216.0 431.5,215.9" fill="rgb(22,42,238)"/>
<polygon points="401.0,220.3 408.0,222.0 414.4,230.0 414.4,236.7 401.0,236.7" fill="rgb(22,42,238)"/>
<polyline points="497.6,128.0 498.5,130.0 498.8,132.1 499.6,134.1 500.1,136.2 500.4,138.3 500.7,140.4 501.3,142.4 502.2,144.4 503.1,146.4 504.2,148.2 504.9,150.3 505.7,152.3 506.6,154.3 508.2,155.9 508.4,158.2 509.6,160.0" fill="none" stroke="#fff" stroke-width="1.2" stroke-linejoin="round" stroke-linecap="round"/>
<polyline points="526.5,69.8 526.3,72.0 525.5,74.0 524.8,76.1 523.8,78.0 522.6,79.7 521.4,82.0 519.5,83.9 518.0,86.0" fill="none" stroke="#fff" stroke-width="1.3" stroke-linejoin="round" stroke-linecap="round"/>
<path d="M530.8 66.1h.5M528.9 65.5h.5M531.7 68.1h.5M528.0 67.2h.5M528.8 67.5h.5M528.8 68.6h.5M529.2 68.9h.5M529.8 70.6h.5M527.2 70.8h.5M527.9 71.6h.5M527.6 71.9h.5M526.0 70.7h.5M525.9 72.5h.5M528.7 73.1h.5M525.5 72.7h.5M527.6 75.9h.5M524.2 74.9h.5M523.7 75.3h.5M526.2 79.3h.5M522.2 78.2h.5M522.7 78.4h.5M524.7 81.3h.5M520.9 79.8h.5M520.9 82.4h.5M521.1 82.2h.5M522.3 84.5h.5M521.6 84.3h.5M521.5 86.1h.5M519.5 84.3h.5M520.3 88.5h.5M518.0 86.1h.5M517.8 86.6h.5M516.4 86.9h.5M515.6 86.9h.5M515.3 87.9h.5M516.6 90.3h.5M515.3 89.5h.5M516.4 90.4h.5M514.8 91.5h.5M513.8 90.9h.5M515.6 93.6h.5M513.7 92.9h.5M513.7 94.4h.5M512.2 93.5h.5M513.2 95.7h.5M510.7 95.6h.5M513.1 96.7h.5M508.9 98.0h.5M511.6 100.7h.5M510.9 99.8h.5M509.3 100.4h.5M509.2 100.1h.5M507.6 99.5h.5M508.5 100.6h.5M509.9 102.7h.5M509.6 103.7h.5M507.8 103.9h.5M505.3 106.0h.5M504.0 105.9h.5M505.9 109.5h.5M505.9 109.5h.5M503.4 109.1h.5M503.2 109.7h.5M502.8 110.0h.5M505.3 111.5h.5M503.7 111.4h.5M501.5 111.3h.5M502.4 112.8h.5M503.2 112.6h.5M503.3 113.0h.5M503.6 115.3h.5M502.4 114.5h.5M498.1 116.7h.5M501.3 119.8h.5M500.5 118.9h.5M498.0 123.3h.5M498.4 124.1h.5M498.4 126.2h.5M496.3 128.0h.5M495.1 128.2h.5M492.4 127.3h.5M493.4 130.3h.5M491.3 130.4h.5M490.5 133.1h.5M489.4 131.9h.5M490.2 132.9h.5M491.7 134.6h.5M489.6 134.3h.5M489.5 135.3h.5M490.4 137.0h.5M489.4 138.8h.5M487.3 138.5h.5M486.0 137.8h.5M487.8 139.6h.5M486.4 140.1h.5M484.9 138.6h.5M485.0 138.9h.5M486.8 141.2h.5M486.5 142.4h.5M485.3 141.3h.5M483.6 145.7h.5M483.4 144.8h.5M482.8 143.9h.5M481.1 142.7h.5M480.2 144.0h.5M479.8 146.0h.5M480.2 146.4h.5M477.6 147.8h.5M477.0 146.5h.5M477.2 147.5h.5M475.7 146.5h.5M475.3 148.2h.5M476.0 148.3h.5M473.8 148.7h.5M474.1 148.4h.5M473.0 149.2h.5M473.4 152.0h.5M472.8 152.0h.5M470.6 151.4h.5M472.6 153.0h.5M472.4 155.7h.5M470.4 155.3h.5M470.2 155.9h.5M471.2 157.1h.5M470.5 159.0h.5M466.6 156.1h.5M467.3 160.4h.5M466.7 161.1h.5M465.5 161.4h.5M464.1 160.9h.5M464.9 161.2h.5M463.5 161.7h.5M462.1 163.3h.5M465.1 165.4h.5M463.0 164.7h.5M463.3 165.4h.5M461.5 164.0h.5M460.6 163.7h.5M462.5 166.9h.5M460.8 165.4h.5M458.4 166.6h.5M458.6 168.8h.5M457.8 168.5h.5M456.7 168.5h.5M457.4 169.7h.5M456.3 171.1h.5M458.0 172.2h.5M455.4 172.9h.5M454.0 173.0h.5M454.6 173.4h.5M453.2 172.5h.5M453.1 172.9h.5M454.9 174.1h.5M451.4 174.3h.5M453.5 178.8h.5M451.0 178.1h.5M450.9 179.7h.5M449.1 179.3h.5M451.9 182.0h.5M451.5 181.9h.5M447.9 180.6h.5M447.7 180.7h.5M447.6 181.8h.5M449.9 184.3h.5M446.9 182.4h.5M447.2 183.1h.5M447.2 185.7h.5M447.0 186.8h.5M446.1 188.0h.5M447.9 189.5h.5M446.2 190.4h.5M446.9 192.7h.5M447.4 192.4h.5M446.5 193.4h.5M447.1 193.8h.5M447.4 195.5h.5M446.4 196.2h.5M446.9 196.9h.5M447.3 201.4h.5M447.7 202.4h.5M445.8 206.1h.5M447.0 207.3h.5M447.6 207.3h.5M446.9 209.9h.5M446.7 210.9h.5M448.3 212.2h.5M447.3 212.4h.5M446.4 215.7h.5M476.4 136.7h.5M477.5 136.0h.5M477.7 138.5h.5M475.5 138.8h.5M475.0 139.3h.5M475.7 140.7h.5M478.8 138.7h.5M476.1 140.4h.5M476.7 141.1h.5M477.0 140.2h.5M475.7 142.7h.5M476.0 142.0h.5M479.1 142.3h.5M479.8 142.9h.5M477.7 144.6h.5M479.7 143.5h.5M480.3 143.5h.5M478.7 144.7h.5M480.9 145.0h.5M481.9 145.7h.5M479.1 146.9h.5M482.7 146.6h.5M480.8 147.8h.5M483.2 147.3h.5M479.7 150.1h.5M482.8 148.7h.5M482.7 149.8h.5M480.0 151.2h.5M481.6 151.2h.5M484.5 151.6h.5M480.3 152.2h.5M481.8 155.0h.5M485.1 154.4h.5M483.0 155.1h.5M485.0 155.1h.5M481.2 156.4h.5M482.1 157.2h.5M486.3 156.5h.5M482.3 158.2h.5M482.7 159.1h.5M484.8 158.9h.5M433.0 162.6h.5M434.5 165.2h.5M434.6 166.0h.5M436.0 167.8h.5M436.4 167.9h.5M437.4 170.3h.5M439.2 172.6h.5M439.8 173.1h.5M440.5 175.4h.5M442.6 179.1h.5M444.5 181.8h.5M446.3 183.1h.5M428.0 188.2h.5M428.1 191.3h.5M427.8 192.5h.5M427.9 193.5h.5M426.5 196.7h.5M426.6 200.9h.5M427.4 202.6h.5M426.7 202.3h.5M425.9 216.4h.5M424.5 218.1h.5M425.0 219.5h.5M426.0 221.5h.5M425.5 223.3h.5M425.5 226.0h.5M424.4 226.4h.5M424.4 228.4h.5M424.2 229.3h.5M425.0 230.2h.5M424.3 234.4h.5M424.0 234.6h.5M424.3 236.0h.5M422.7 236.7h.5M422.7 237.4h.5M423.0 238.4h.5M420.6 240.9h.5M420.9 241.5h.5M420.5 243.0h.5M432.5 192.1h.5M434.1 202.1h.5M434.5 204.5h.5M435.1 210.9h.5M435.2 212.5h.5M434.8 213.8h.5M435.8 218.6h.5M436.1 219.9h.5M404.7 195.1h.5M402.8 200.3h.5M403.4 200.6h.5M404.0 200.8h.5M404.3 205.4h.5M403.6 206.3h.5M403.9 208.9h.5M404.2 210.9h.5M403.0 213.7h.5M403.0 215.9h.5M403.0 216.7h.5M404.0 218.7h.5M402.9 219.2h.5M402.2 220.5h.5M402.7 221.1h.5M402.6 221.0h.5M403.5 223.2h.5M403.3 224.4h.5M402.8 225.1h.5M402.3 226.1h.5M403.3 226.6h.5M402.8 233.3h.5M403.7 234.3h.5M403.3 233.8h.5M402.9 235.4h.5M404.0 234.9h.5M402.8 235.6h.5M402.5 236.9h.5M403.1 237.4h.5M403.8 238.4h.5M403.0 240.3h.5M403.5 241.1h.5M403.8 242.1h.5M404.0 242.8h.5M403.0 243.0h.5M403.8 244.0h.5M403.6 244.0h.5M403.6 247.8h.5M404.4 248.8h.5M404.6 250.7h.5M403.2 255.6h.5M404.2 256.7h.5M412.2 180.0h.5M409.5 182.7h.5M402.6 127.6h.5M405.3 131.7h.5M406.6 135.4h.5M499.4 143.7h.5M499.5 147.7h.5M499.9 161.6h.5M501.0 168.4h.5M503.0 188.5h.5M505.9 195.7h.5M516.8 215.0h.5M518.1 220.0h.5M520.2 221.9h.5M521.6 226.1h.5M487.7 172.6h.5M488.6 177.4h.5M421.2 61.7h.5M419.2 72.1h.5M417.7 75.6h.5M417.1 81.9h.5M417.2 82.8h.5M417.0 84.8h.5M415.8 85.0h.5M415.6 89.1h.5M417.3 97.6h.5M418.5 102.1h.5M419.3 106.0h.5M420.3 117.9h.5M420.9 121.2h.5M420.4 123.2h.5M467.1 63.4h.5M472.9 78.7h.5M473.9 80.5h.5M474.0 82.2h.5M475.6 93.9h.5M474.0 98.7h.5M449.4 39.4h.5M451.0 40.5h.5M410.7 13.2h.5M424.4 44.7h.4M496.7 181.7h.4M436.5 123.9h.4M513.7 86.2h.4M431.9 23.8h.4M426.5 83.1h.4M430.3 168.5h.4M474.1 115.1h.4M458.4 88.4h.4M530.6 155.2h.4M410.5 243.1h.4M420.5 46.3h.4M522.1 245.8h.4M424.2 109.0h.4M448.2 198.2h.4M475.9 178.5h.4M500.1 201.9h.4M468.9 58.7h.4M504.0 244.5h.4M447.6 206.4h.4M464.7 243.5h.4M477.4 95.9h.4M526.6 237.7h.4M468.1 174.1h.4M526.1 70.8h.4M413.2 254.5h.4M516.4 79.3h.4M455.9 251.8h.4M458.1 35.6h.4M490.5 132.7h.4M488.9 211.0h.4M476.8 248.4h.4M425.1 79.2h.4M449.1 161.4h.4M483.2 167.8h.4M446.4 67.3h.4M459.2 59.4h.4M489.7 217.9h.4M457.4 234.5h.4M490.6 151.1h.4M416.1 20.7h.4" stroke="rgb(120,20,95)" stroke-width="1.4" stroke-linecap="round" fill="none"/>
<path d="M530.4 66.4h.5M529.8 66.5h.5M530.9 67.4h.5M528.2 66.8h.5M528.9 69.7h.5M528.9 69.5h.5M528.7 70.1h.5M527.3 70.0h.5M528.4 70.9h.5M527.6 71.1h.5M528.2 71.1h.5M526.9 72.9h.5M525.5 73.3h.5M526.2 73.3h.5M527.0 75.0h.5M525.8 74.3h.5M525.5 74.5h.5M527.4 75.7h.5M525.5 75.9h.5M526.3 77.6h.5M523.3 75.7h.5M524.4 76.2h.5M523.9 77.4h.5M525.4 77.6h.5M525.6 79.3h.5M524.4 78.6h.5M523.0 78.6h.5M523.1 79.3h.5M522.6 79.4h.5M523.0 80.7h.5M523.2 81.0h.5M521.7 81.4h.5M522.9 82.3h.5M523.1 82.6h.5M521.5 80.7h.5M520.2 81.9h.5M519.5 82.1h.5M519.3 81.9h.5M520.6 84.2h.5M518.8 83.0h.5M521.3 86.0h.5M519.6 84.5h.5M518.2 84.7h.5M518.8 85.4h.5M519.4 85.7h.5M517.0 84.9h.5M518.5 85.9h.5M518.7 86.4h.5M517.7 84.8h.5M517.8 86.2h.5M516.4 86.5h.5M517.2 87.5h.5M518.8 90.0h.5M516.7 90.6h.5M515.3 91.0h.5M514.1 89.5h.5M515.5 92.2h.5M516.3 93.6h.5M514.4 92.0h.5M514.4 92.8h.5M512.4 91.6h.5M513.6 94.1h.5M512.3 94.6h.5M513.7 95.3h.5M514.4 95.3h.5M511.9 94.9h.5M510.8 95.7h.5M510.2 96.3h.5M511.2 96.7h.5M510.4 96.2h.5M510.3 97.1h.5M510.7 97.7h.5M512.7 98.7h.5M508.8 98.2h.5M511.8 99.4h.5M508.7 98.9h.5M507.7 99.5h.5M511.1 102.3h.5M509.8 102.6h.5M506.8 101.0h.5M508.3 102.0h.5M509.6 104.0h.5M509.6 103.7h.5M507.1 103.4h.5M506.4 102.9h.5M507.6 103.5h.5M506.5 103.6h.5M509.1 105.6h.5M507.0 104.6h.5M505.8 104.6h.5M509.2 106.2h.5M506.9 105.7h.5M507.0 105.5h.5M508.4 106.8h.5M504.5 105.6h.5M507.0 106.3h.5M503.9 105.8h.5M504.0 106.5h.5M507.0 108.8h.5M503.5 106.9h.5M503.9 108.4h.5M505.5 110.5h.5M504.3 109.4h.5M504.9 109.7h.5M502.7 109.3h.5M503.9 111.0h.5M504.9 111.5h.5M501.7 111.5h.5M501.3 111.4h.5M502.1 113.2h.5M504.0 114.6h.5M504.4 114.7h.5M501.6 113.1h.5M501.6 114.3h.5M501.4 114.9h.5M503.3 116.3h.5M501.7 115.6h.5M502.3 116.9h.5M499.8 115.5h.5M503.3 117.5h.5M501.4 117.0h.5M500.2 116.7h.5M499.0 115.6h.5M498.0 116.5h.5M499.5 117.7h.5M500.9 119.5h.5M500.9 120.3h.5M500.8 120.1h.5M500.8 120.5h.5M498.4 120.6h.5M499.9 120.9h.5M500.0 121.7h.5M496.4 119.9h.5M500.0 123.1h.5M499.0 122.9h.5M497.5 121.6h.5M496.8 122.5h.5M497.1 123.2h.5M499.0 123.5h.5M495.1 122.5h.5M495.9 122.9h.5M495.8 123.5h.5M495.3 124.4h.5M494.9 124.0h.5M497.9 125.2h.5M494.0 124.8h.5M497.5 127.5h.5M495.2 125.9h.5M496.0 126.4h.5M494.5 126.6h.5M493.9 126.4h.5M496.6 127.6h.5M493.2 128.0h.5M492.9 128.8h.5M492.4 128.1h.5M493.3 128.8h.5M493.7 130.8h.5M491.7 128.9h.5M492.6 130.7h.5M494.0 131.6h.5M494.0 132.3h.5M490.9 131.0h.5M490.3 130.4h.5M493.6 133.4h.5M490.8 131.7h.5M490.2 133.0h.5M489.3 132.7h.5M490.1 133.5h.5M488.5 133.0h.5M490.0 135.3h.5M487.9 134.3h.5M489.0 134.9h.5M488.7 136.2h.5M489.1 136.4h.5M490.3 138.0h.5M485.7 137.0h.5M488.6 139.2h.5M488.6 139.9h.5M488.3 140.5h.5M484.4 138.4h.5M485.1 140.4h.5M486.1 140.8h.5M484.3 140.6h.5M484.1 141.1h.5M485.5 143.2h.5M485.2 143.0h.5M486.2 143.1h.5M484.6 143.5h.5M484.4 142.8h.5M484.4 142.8h.5M482.3 142.3h.5M484.0 143.7h.5M483.0 143.8h.5M481.9 144.2h.5M480.5 143.0h.5M481.2 143.3h.5M480.4 144.7h.5M481.6 146.6h.5M481.2 146.4h.5M480.8 147.5h.5M478.2 144.8h.5M477.9 144.8h.5M477.1 145.1h.5M479.0 148.3h.5M479.2 149.7h.5M476.1 147.2h.5M477.4 148.6h.5M477.8 149.0h.5M475.8 147.9h.5M474.7 148.5h.5M475.8 149.4h.5M477.0 151.3h.5M475.4 150.8h.5M474.2 150.6h.5M474.3 151.9h.5M471.1 149.8h.5M473.3 150.8h.5M474.7 153.1h.5M473.3 152.9h.5M473.0 154.5h.5M471.7 152.7h.5M472.3 153.4h.5M472.6 155.1h.5M471.4 154.4h.5M470.6 153.6h.5M472.1 156.3h.5M470.3 154.5h.5M470.0 155.5h.5M469.6 155.3h.5M471.0 157.5h.5M471.3 157.3h.5M467.8 155.7h.5M471.1 158.1h.5M468.5 156.3h.5M468.5 157.9h.5M468.4 158.8h.5M467.5 158.7h.5M466.0 158.5h.5M467.6 158.9h.5M468.1 160.9h.5M467.6 160.9h.5M466.0 160.6h.5M465.4 159.6h.5M465.3 160.4h.5M465.0 161.9h.5M464.3 161.0h.5M463.6 161.9h.5M464.8 162.8h.5M463.2 161.8h.5M462.6 161.6h.5M464.8 164.3h.5M463.0 162.8h.5M464.3 163.8h.5M464.2 164.5h.5M463.7 165.9h.5M461.6 164.6h.5M461.6 167.4h.5M462.5 167.9h.5M459.4 165.8h.5M460.6 167.8h.5M460.1 166.7h.5M458.7 166.9h.5M459.1 167.4h.5M459.5 167.6h.5M457.5 167.2h.5M460.1 169.3h.5M458.8 169.5h.5M457.4 168.4h.5M458.9 170.6h.5M459.2 171.2h.5M455.4 169.6h.5M457.0 172.3h.5M455.2 171.2h.5M457.4 173.0h.5M457.3 172.8h.5M456.4 172.7h.5M456.7 174.0h.5M456.5 173.4h.5M454.9 173.5h.5M453.2 173.7h.5M452.9 173.5h.5M455.7 176.5h.5M454.9 176.5h.5M452.9 174.8h.5M451.2 175.2h.5M453.6 177.3h.5M451.3 176.2h.5M453.1 177.9h.5M451.4 177.5h.5M452.1 178.0h.5M452.2 179.7h.5M451.8 179.1h.5M452.5 179.9h.5M448.9 178.4h.5M451.0 180.8h.5M449.1 179.0h.5M449.1 178.7h.5M449.6 181.7h.5M449.5 182.4h.5M448.4 182.0h.5M446.5 185.0h.5M446.8 185.7h.5M447.3 187.4h.5M447.3 187.4h.5M448.3 188.1h.5M447.1 190.3h.5M447.3 190.7h.5M446.0 190.9h.5M447.5 191.7h.5M447.8 194.4h.5M446.9 194.3h.5M447.1 195.3h.5M446.1 196.9h.5M447.5 198.4h.5M446.6 198.8h.5M446.4 198.9h.5M446.5 199.8h.5M446.3 200.0h.5M446.3 201.1h.5M447.5 201.7h.5M446.7 203.5h.5M447.4 203.6h.5M447.0 204.3h.5M447.2 204.8h.5M447.0 205.2h.5M448.0 205.6h.5M446.0 208.1h.5M446.7 209.4h.5M448.1 210.1h.5M446.6 214.7h.5M447.9 216.6h.5M478.2 135.9h.5M475.0 137.8h.5M477.1 137.8h.5M477.4 137.0h.5M477.2 137.2h.5M478.1 136.7h.5M474.6 139.7h.5M475.3 139.7h.5M478.2 138.7h.5M476.0 141.1h.5M479.1 140.7h.5M478.5 140.7h.5M476.3 142.1h.5M477.6 142.9h.5M480.3 141.2h.5M480.4 142.0h.5M480.1 142.3h.5M479.0 143.1h.5M478.4 143.4h.5M479.5 143.5h.5M477.0 144.5h.5M481.1 144.4h.5M480.8 143.9h.5M478.2 145.8h.5M481.1 145.2h.5M478.3 146.5h.5M482.4 144.9h.5M478.8 146.7h.5M479.6 147.0h.5M480.2 146.5h.5M480.9 147.3h.5M482.0 146.7h.5M482.8 147.7h.5M483.8 147.1h.5M481.1 148.7h.5M481.3 149.4h.5M481.8 148.9h.5M483.4 148.5h.5M480.4 150.0h.5M482.5 149.6h.5M481.8 150.7h.5M483.9 151.6h.5M484.7 151.8h.5M481.9 151.5h.5M480.2 153.5h.5M482.4 152.6h.5M480.6 153.2h.5M480.5 152.8h.5M484.2 153.0h.5M481.7 154.7h.5M483.7 154.7h.5M482.2 154.8h.5M482.5 155.8h.5M482.0 156.0h.5M480.8 156.9h.5M485.5 156.1h.5M484.4 157.1h.5M483.5 157.4h.5M485.1 157.0h.5M483.1 158.4h.5M481.7 158.6h.5M485.6 157.8h.5M483.1 159.0h.5M481.8 159.6h.5M431.6 163.1h.5M432.3 163.3h.5M433.3 164.1h.5M434.2 164.1h.5M434.6 165.9h.5M436.3 167.0h.5M437.2 170.1h.5M438.8 170.7h.5M439.1 172.2h.5M438.9 173.8h.5M440.8 174.0h.5M442.1 177.0h.5M442.8 179.9h.5M444.5 181.1h.5M444.0 181.0h.5M445.2 182.9h.5M445.7 183.8h.5M428.2 187.7h.5M427.7 189.8h.5M428.4 189.6h.5M427.7 191.3h.5M426.8 192.0h.5M427.8 193.1h.5M427.8 195.1h.5M426.1 197.1h.5M427.0 198.0h.5M426.1 198.4h.5M426.5 199.4h.5M427.0 199.4h.5M425.6 201.8h.5M426.3 203.7h.5M426.5 204.5h.5M427.4 205.4h.5M425.9 207.0h.5M426.1 208.8h.5M426.7 210.8h.5M426.1 212.0h.5M425.6 212.0h.5M425.9 212.8h.5M426.0 214.3h.5M424.9 219.8h.5M424.4 222.3h.5M424.3 223.0h.5M425.9 224.6h.5M426.1 226.2h.5M425.1 226.9h.5M425.3 227.8h.5M425.5 230.2h.5M424.8 231.3h.5M424.6 232.1h.5M424.8 232.9h.5M423.7 234.0h.5M424.2 234.9h.5M423.5 237.0h.5M422.6 238.2h.5M422.1 239.1h.5M421.5 240.0h.5M421.1 239.1h.5M420.0 240.5h.5M421.6 241.8h.5M420.8 242.5h.5M420.2 244.6h.5M433.7 193.4h.5M432.5 196.1h.5M432.7 197.2h.5M433.2 198.9h.5M433.8 200.3h.5M434.2 204.0h.5M433.6 205.7h.5M434.8 207.8h.5M434.3 208.8h.5M435.1 209.5h.5M434.3 210.4h.5M435.2 212.7h.5M434.6 216.1h.5M436.2 216.4h.5M435.3 217.7h.5M435.7 219.2h.5M436.2 223.9h.5M403.2 191.9h.5M403.8 192.3h.5M403.2 193.9h.5M403.6 194.0h.5M403.6 194.5h.5M403.5 196.0h.5M402.9 195.4h.5M404.1 196.7h.5M402.7 197.1h.5M403.6 198.5h.5M403.8 198.2h.5M403.4 199.4h.5M404.0 199.6h.5M404.0 201.7h.5M403.4 202.1h.5M404.6 203.3h.5M404.3 204.2h.5M403.2 204.6h.5M402.9 206.1h.5M402.7 207.3h.5M403.0 207.9h.5M403.3 208.3h.5M404.0 210.0h.5M403.8 212.2h.5M404.1 213.4h.5M403.4 214.4h.5M402.9 215.1h.5M402.8 215.6h.5M403.6 216.4h.5M403.5 217.3h.5M403.9 218.9h.5M402.6 220.8h.5M401.8 223.2h.5M401.9 224.0h.5M404.0 225.3h.5M404.1 226.1h.5M403.3 226.8h.5M403.3 227.5h.5M402.6 228.3h.5M403.3 228.4h.5M402.7 229.9h.5M403.0 230.5h.5M402.9 231.4h.5M403.2 231.6h.5M403.5 232.1h.5M402.3 233.1h.5M403.5 235.8h.5M402.1 236.8h.5M402.4 237.5h.5M403.9 238.2h.5M402.8 239.9h.5M404.0 239.1h.5M402.4 240.3h.5M403.2 241.0h.5M403.9 242.2h.5M404.6 244.5h.5M403.6 245.9h.5M404.0 246.3h.5M403.1 246.4h.5M403.1 247.6h.5M404.7 249.7h.5M403.4 249.3h.5M403.6 250.6h.5M404.3 251.2h.5M404.9 252.4h.5M403.1 252.5h.5M403.4 253.5h.5M404.0 252.9h.5M404.0 253.8h.5M404.8 254.2h.5M402.8 255.2h.5M403.8 256.6h.5M412.8 178.5h.5M411.6 179.1h.5M410.1 184.7h.5M408.9 186.4h.5M405.9 188.8h.5M404.8 190.4h.5M403.1 128.6h.5M404.1 131.3h.5M404.8 133.1h.5M404.9 133.9h.5M406.4 135.0h.5M408.3 136.2h.5M499.1 145.6h.5M500.3 151.1h.5M499.5 152.4h.5M499.7 155.8h.5M499.4 157.7h.5M500.2 158.9h.5M500.2 159.1h.5M500.5 162.9h.5M500.7 163.8h.5M500.1 165.1h.5M499.2 165.7h.5M499.8 167.7h.5M500.3 172.3h.5M500.4 175.6h.5M500.3 177.8h.5M501.4 178.1h.5M501.6 179.5h.5M501.5 181.1h.5M501.6 181.9h.5M501.8 183.7h.5M503.5 189.8h.5M503.9 190.7h.5M505.5 193.9h.5M505.0 195.2h.5M507.4 197.6h.5M508.7 199.6h.5M508.7 201.8h.5M510.0 202.5h.5M512.3 208.4h.5M513.1 209.9h.5M516.6 213.5h.5M518.3 216.5h.5M518.8 217.5h.5M517.7 218.9h.5M519.8 221.0h.5M520.7 223.8h.5M521.5 224.6h.5M520.8 225.9h.5M521.5 228.3h.5M484.9 165.9h.5M486.0 169.7h.5M486.2 171.6h.5M487.7 173.9h.5M490.1 177.9h.5M489.7 179.0h.5M490.5 180.3h.5M491.2 181.5h.5M491.7 182.3h.5M491.4 183.0h.5M421.1 63.8h.5M420.2 66.6h.5M420.1 67.9h.5M418.2 70.2h.5M418.2 71.4h.5M418.9 72.9h.5M417.6 74.0h.5M418.2 77.0h.5M417.0 80.8h.5M415.8 87.2h.5M416.5 88.4h.5M416.0 89.9h.5M416.8 90.9h.5M416.1 94.4h.5M417.8 98.3h.5M417.3 99.5h.5M418.1 100.6h.5M417.8 101.0h.5M418.8 108.1h.5M419.9 110.1h.5M420.0 112.1h.5M419.5 113.1h.5M420.4 114.1h.5M420.1 116.9h.5M420.5 121.9h.5M468.3 64.5h.5M469.0 65.4h.5M470.2 70.0h.5M470.6 71.6h.5M471.0 72.6h.5M470.8 73.5h.5M472.1 75.3h.5M472.4 75.9h.5M475.4 84.8h.5M475.3 85.9h.5M475.6 87.4h.5M475.7 88.2h.5M475.4 89.5h.5M475.1 97.3h.5M452.3 24.5h.5M451.2 26.4h.5M451.1 28.0h.5M451.4 30.2h.5M451.2 32.9h.5M450.2 34.0h.5M450.2 34.5h.5M450.8 35.6h.5M450.5 36.6h.5M451.6 42.4h.5M451.0 44.4h.5M451.6 45.3h.5M452.1 47.2h.5M452.8 49.2h.5M453.2 50.0h.5M454.5 53.2h.5M403.2 8.3h.5M403.7 8.5h.5M404.8 9.3h.5M407.9 11.6h.5M409.7 12.5h.5M442.3 6.6h.4M441.0 23.7h.4M429.0 184.0h.4M528.4 136.4h.4M417.3 49.6h.4M519.8 25.6h.4M443.7 158.4h.4M437.6 111.4h.4M510.7 7.5h.4M516.6 186.8h.4M427.2 167.3h.4M411.6 225.2h.4M415.3 239.5h.4M509.3 76.5h.4M423.5 177.2h.4M419.4 58.4h.4M434.8 212.4h.4M523.0 32.8h.4M473.4 140.8h.4M497.4 202.6h.4M495.9 192.3h.4M476.9 203.0h.4M514.2 235.0h.4M504.4 239.1h.4M442.9 104.9h.4M411.2 10.3h.4M476.0 27.2h.4M512.1 90.4h.4M489.0 212.5h.4M418.7 166.7h.4M499.4 98.9h.4M459.7 18.9h.4M474.1 188.6h.4M491.1 171.1h.4M410.7 125.1h.4M524.6 229.0h.4M510.6 118.6h.4M447.2 66.8h.4M452.4 132.8h.4M511.5 140.5h.4M425.7 27.6h.4M459.2 51.4h.4M424.7 224.3h.4M469.9 127.7h.4M418.6 151.3h.4M494.9 201.6h.4M427.4 21.9h.4M473.6 124.5h.4M447.8 206.4h.4M446.5 129.5h.4M487.2 244.8h.4M493.0 169.6h.4M529.7 246.8h.4M430.3 89.7h.4M448.3 77.4h.4M485.7 110.4h.4M415.6 115.2h.4M437.2 243.2h.4M428.2 8.2h.4M415.7 72.6h.4M519.2 201.9h.4M424.5 84.3h.4M401.8 3.7h.4M485.9 217.0h.4M494.5 142.8h.4M513.4 228.3h.4M529.3 84.1h.4M506.5 160.6h.4M499.8 201.1h.4" stroke="rgb(210,30,60)" stroke-width="1.4" stroke-linecap="round" fill="none"/>
<path d="M526.5 74.3h.5M527.3 76.8h.5M522.6 77.5h.5M521.1 79.1h.5M521.3 81.9h.5M521.3 86.7h.5M516.9 91.7h.5M514.9 90.3h.5M513.6 91.5h.5M512.7 93.6h.5M512.3 93.8h.5M511.3 94.8h.5M512.3 97.2h.5M508.7 98.3h.5M508.6 103.4h.5M507.4 107.6h.5M507.4 108.9h.5M504.4 112.9h.5M498.1 119.7h.5M500.0 121.8h.5M494.4 124.7h.5M492.8 128.0h.5M493.0 133.5h.5M488.0 136.8h.5M487.3 136.1h.5M486.8 137.0h.5M489.3 139.0h.5M483.7 139.2h.5M485.9 142.9h.5M480.4 143.6h.5M478.4 144.9h.5M477.8 144.9h.5M477.4 145.8h.5M474.8 147.0h.5M472.9 149.4h.5M475.0 151.5h.5M472.0 152.3h.5M471.6 153.0h.5M471.8 154.8h.5M470.8 157.1h.5M468.8 157.2h.5M467.2 158.0h.5M467.9 161.8h.5M465.4 160.5h.5M463.3 164.1h.5M460.7 164.9h.5M460.7 167.0h.5M459.0 170.6h.5M456.2 169.8h.5M455.3 170.0h.5M453.7 174.8h.5M452.2 177.2h.5M450.0 176.5h.5M450.0 178.9h.5M449.4 180.4h.5M449.9 182.9h.5M446.7 181.6h.5M448.1 183.1h.5M446.5 184.4h.5M446.4 191.6h.5M447.9 196.4h.5M447.0 201.1h.5M447.9 202.7h.5M446.7 208.6h.5M448.4 211.4h.5M446.7 213.9h.5M446.4 215.8h.5M447.2 216.5h.5M477.3 142.6h.5M482.9 145.9h.5M479.8 148.0h.5M479.5 149.4h.5M481.1 151.6h.5M480.4 151.0h.5M481.8 153.9h.5M481.4 153.9h.5M482.6 156.9h.5M484.0 158.4h.5M483.7 158.8h.5M442.6 178.4h.5M442.4 178.8h.5M427.8 187.5h.5M426.5 209.7h.5M426.1 216.2h.5M425.3 220.1h.5M424.4 227.6h.5M433.3 195.4h.5M433.1 201.6h.5M404.2 192.6h.5M402.6 197.6h.5M404.1 203.9h.5M403.6 206.5h.5M403.4 211.7h.5M402.9 212.3h.5M402.7 217.7h.5M402.6 219.8h.5M404.2 222.3h.5M403.7 229.2h.5M410.5 182.4h.5M405.6 189.9h.5M403.0 130.1h.5M499.4 160.0h.5M501.8 173.7h.5M502.6 185.0h.5M510.8 205.2h.5M520.5 223.1h.5M487.5 171.9h.5M415.8 86.4h.5M416.0 92.2h.5M417.3 95.2h.5M420.3 120.8h.5M467.4 63.5h.5M472.8 79.7h.5M475.4 92.2h.5M451.3 23.6h.5M451.5 27.3h.5M451.1 31.6h.5" stroke="rgb(235,235,245)" stroke-width="1.4" stroke-linecap="round" fill="none"/>
</g></g>
<circle cx="534.7" cy="84.1" r="1.1" fill="rgb(200,225,30)"/>
<circle cx="529.7" cy="100.2" r="1.1" fill="rgb(160,220,40)"/>
<circle cx="530.2" cy="90.6" r="1.1" fill="rgb(200,225,30)"/>
<circle cx="534.8" cy="69.6" r="1.2" fill="rgb(150,230,40)"/>
<circle cx="533.3" cy="81.8" r="1.2" fill="rgb(250,180,0)"/>
<circle cx="528.6" cy="99.3" r="1.0" fill="rgb(250,170,0)"/>
<circle cx="528.3" cy="75.7" r="1.1" fill="rgb(90,210,60)"/>
<circle cx="530.3" cy="89.6" r="1.2" fill="rgb(250,180,0)"/>
<circle cx="535.9" cy="86.0" r="1.2" fill="rgb(200,225,30)"/>
<circle cx="534.5" cy="82.3" r="1.3" fill="rgb(240,210,0)"/>
<circle cx="530.6" cy="78.6" r="0.9" fill="rgb(190,235,30)"/>
<circle cx="529.3" cy="88.5" r="1.3" fill="rgb(240,210,0)"/>
<circle cx="539.2" cy="81.5" r="1.0" fill="rgb(240,210,0)"/>
<circle cx="528.4" cy="103.1" r="1.4" fill="rgb(240,200,20)"/>
<circle cx="528.9" cy="81.9" r="1.3" fill="rgb(250,180,0)"/>
<circle cx="528.9" cy="76.8" r="0.9" fill="rgb(190,235,30)"/>
<circle cx="538.9" cy="82.4" r="1.0" fill="rgb(250,180,0)"/>
<circle cx="528.5" cy="70.0" r="1.0" fill="rgb(90,210,60)"/>
<circle cx="533.3" cy="88.4" r="1.4" fill="rgb(250,180,0)"/>
<circle cx="532.3" cy="96.8" r="1.0" fill="rgb(240,200,20)"/>
<circle cx="530.5" cy="82.8" r="1.3" fill="rgb(230,230,20)"/>
<circle cx="532.4" cy="105.0" r="1.0" fill="rgb(250,170,0)"/>
<circle cx="538.0" cy="81.8" r="0.9" fill="rgb(240,210,0)"/>
<circle cx="532.1" cy="71.9" r="1.3" fill="rgb(150,230,40)"/>
<circle cx="531.3" cy="79.2" r="0.9" fill="rgb(150,230,40)"/>
<circle cx="534.4" cy="74.3" r="1.2" fill="rgb(150,230,40)"/>
<circle cx="533.3" cy="80.9" r="1.3" fill="rgb(200,225,30)"/>
<circle cx="531.5" cy="71.4" r="1.1" fill="rgb(120,220,40)"/>
<circle cx="534.3" cy="75.1" r="1.0" fill="rgb(120,220,40)"/>
<circle cx="534.4" cy="91.2" r="1.3" fill="rgb(200,225,30)"/>
<circle cx="532.9" cy="90.1" r="1.0" fill="rgb(240,210,0)"/>
<circle cx="531.1" cy="86.5" r="1.0" fill="rgb(200,225,30)"/>
<circle cx="533.7" cy="98.9" r="1.2" fill="rgb(240,200,20)"/>
<circle cx="535.9" cy="103.2" r="1.0" fill="rgb(250,170,0)"/>
<circle cx="538.2" cy="88.4" r="1.0" fill="rgb(240,210,0)"/>
<circle cx="529.7" cy="102.7" r="0.9" fill="rgb(250,170,0)"/>
<circle cx="530.9" cy="82.5" r="1.0" fill="rgb(240,210,0)"/>
<circle cx="534.6" cy="80.8" r="0.9" fill="rgb(250,180,0)"/>
<circle cx="532.1" cy="71.5" r="1.2" fill="rgb(190,235,30)"/>
<circle cx="534.5" cy="93.6" r="1.2" fill="rgb(250,180,0)"/>
<circle cx="531.9" cy="102.9" r="1.3" fill="rgb(240,200,20)"/>
<circle cx="528.2" cy="104.5" r="0.9" fill="rgb(160,220,40)"/>
<circle cx="530.5" cy="68.7" r="1.4" fill="rgb(120,220,40)"/>
<circle cx="532.5" cy="69.0" r="1.4" fill="rgb(150,230,40)"/>
<circle cx="535.5" cy="95.5" r="1.1" fill="rgb(230,230,20)"/>
<circle cx="538.1" cy="93.4" r="1.4" fill="rgb(200,225,30)"/>
<circle cx="531.7" cy="67.2" r="1.2" fill="rgb(150,230,40)"/>
<circle cx="534.8" cy="81.3" r="0.9" fill="rgb(240,210,0)"/>
<circle cx="539.5" cy="91.6" r="1.3" fill="rgb(200,225,30)"/>
<circle cx="536.6" cy="81.5" r="1.1" fill="rgb(200,225,30)"/>
<circle cx="528.8" cy="99.5" r="0.9" fill="rgb(160,220,40)"/>
<circle cx="533.7" cy="90.1" r="1.4" fill="rgb(250,180,0)"/>
<circle cx="534.8" cy="70.5" r="1.0" fill="rgb(90,210,60)"/>
<circle cx="530.2" cy="66.5" r="1.2" fill="rgb(120,220,40)"/>
<circle cx="531.6" cy="96.2" r="1.1" fill="rgb(240,200,20)"/>
<circle cx="532.2" cy="75.7" r="1.0" fill="rgb(190,235,30)"/>
<circle cx="537.6" cy="83.2" r="1.3" fill="rgb(250,180,0)"/>
<circle cx="534.8" cy="81.4" r="1.0" fill="rgb(230,230,20)"/>
<circle cx="531.2" cy="71.4" r="1.3" fill="rgb(150,230,40)"/>
<circle cx="530.2" cy="104.0" r="1.0" fill="rgb(250,170,0)"/>
<circle cx="539.1" cy="84.9" r="1.1" fill="rgb(200,225,30)"/>
<circle cx="536.1" cy="86.8" r="1.1" fill="rgb(200,225,30)"/>
<circle cx="530.7" cy="99.1" r="0.9" fill="rgb(160,220,40)"/>
<circle cx="534.3" cy="94.3" r="1.2" fill="rgb(230,230,20)"/>
<circle cx="535.6" cy="88.6" r="1.1" fill="rgb(200,225,30)"/>
<circle cx="534.1" cy="67.0" r="1.3" fill="rgb(120,220,40)"/>
<circle cx="537.8" cy="97.9" r="1.1" fill="rgb(250,170,0)"/>
<circle cx="535.6" cy="91.2" r="1.4" fill="rgb(230,230,20)"/>
<circle cx="530.2" cy="93.4" r="1.0" fill="rgb(200,225,30)"/>
<circle cx="536.2" cy="94.6" r="1.0" fill="rgb(240,210,0)"/>
<circle cx="538.8" cy="63.5" r="1.3" fill="rgb(220,30,30)"/>
<circle cx="539.3" cy="66.5" r="1.3" fill="rgb(200,20,30)"/>
<circle cx="538.5" cy="69" r="1.1" fill="rgb(230,40,30)"/>
<circle cx="533.5" cy="62.5" r="1.0" fill="rgb(180,220,40)"/>
<clipPath id="clipb"><path d="M400.3 308.2H526.2V377L530.6 380L531.5 432L527 438V555H400.3V506L394.4 503V460L400.3 457Z"/></clipPath>
<g filter="url(#texB)"><g clip-path="url(#clipb)">
<path d="M400.3 308.2H526.2V377L530.6 380L531.5 432L527 438V555H400.3V506L394.4 503V460L400.3 457Z" fill="rgb(36,80,222)"/>
<polygon points="400.3,338.0 419.3,342.5 436.9,355.7 457.4,376.2 460.3,387.9 460.3,428.9 442.7,433.3 419.3,431.8 400.3,428.9" fill="rgb(18,24,215)"/>
<polygon points="440.0,432.0 460.3,429.0 462.0,450.0 462.0,464.0 466.2,478.0 462.0,511.0 440.0,524.0 428.0,512.0 416.4,480.0 428.0,472.0 440.0,462.0" fill="rgb(18,24,215)"/>
<polygon points="524.5,376.8 531.0,380.0 531.0,432.0 489.3,429.0 501.0,407.6" fill="rgb(40,195,195)"/>
<polygon points="489.3,428.0 531.0,430.0 526.2,470.0 506.3,476.9 491.7,488.7 481.4,500.4 475.5,512.1 474.0,485.7 478.0,460.0 484.3,434.4" fill="rgb(40,150,225)"/>
<polygon points="394.4,460.0 407.6,458.0 407.6,505.0 394.4,505.0" fill="rgb(40,200,185)"/>
<polygon points="401.7,490.4 410.0,492.0 425.2,515.0 422.0,531.5 401.7,528.0" fill="rgb(40,150,225)"/>
<polyline points="491.2,422.1 489.4,423.5 488.0,425.3 486.8,427.2 485.2,428.7 484.0,430.6 482.5,432.3 481.5,434.4 480.0,436.0 479.2,437.9 478.6,439.9 478.0,441.9 478.1,444.0 477.3,445.9 477.2,448.1 476.7,450.1 476.0,452.0" fill="none" stroke="#fff" stroke-width="1.0" stroke-linejoin="round" stroke-linecap="round"/>
<polyline points="409.8,478.1 410.8,479.8 412.3,481.3 413.1,483.2 414.0,485.0 414.7,486.9 415.9,488.6 416.6,490.5 418.3,491.9 418.9,493.9 419.7,495.7 420.8,497.5 421.7,499.3 422.5,501.2 423.1,503.2 424.0,505.0" fill="none" stroke="#fff" stroke-width="0.9" stroke-linejoin="round" stroke-linecap="round"/>
<path d="M527.8 379.3h.5M525.7 379.9h.5M526.7 380.2h.5M527.5 382.6h.5M525.5 381.6h.5M525.9 381.9h.5M525.5 385.3h.5M522.2 384.4h.5M525.3 386.2h.5M521.9 383.4h.5M524.1 387.0h.5M523.5 386.0h.5M521.0 385.6h.5M523.4 388.9h.5M520.8 386.5h.5M522.5 388.5h.5M519.3 384.2h.5M519.8 387.0h.5M521.2 388.5h.5M518.8 385.7h.5M518.6 385.5h.5M520.2 388.6h.5M518.7 387.0h.5M519.9 388.1h.5M517.5 385.8h.5M521.2 390.0h.5M517.5 387.0h.5M518.9 388.7h.5M518.4 389.3h.5M516.6 387.7h.5M517.1 388.9h.5M515.0 388.3h.5M515.9 389.9h.5M515.1 389.5h.5M518.3 393.2h.5M518.0 393.7h.5M516.2 392.8h.5M517.9 394.0h.5M514.8 392.0h.5M512.9 391.2h.5M514.7 393.0h.5M514.9 393.7h.5M516.0 395.9h.5M514.2 395.2h.5M514.8 396.6h.5M512.9 394.3h.5M513.6 394.6h.5M514.7 396.6h.5M512.0 395.8h.5M512.1 395.9h.5M511.3 395.2h.5M511.4 397.9h.5M508.3 395.3h.5M511.6 399.0h.5M509.3 397.2h.5M508.5 396.6h.5M512.0 400.9h.5M511.2 401.0h.5M506.8 396.2h.5M508.8 397.8h.5M505.7 399.8h.5M507.2 402.2h.5M508.8 403.3h.5M503.2 400.0h.5M503.1 400.9h.5M506.8 404.2h.5M505.3 403.9h.5M504.8 403.3h.5M504.2 402.4h.5M502.9 402.7h.5M502.1 403.6h.5M502.1 403.3h.5M504.3 407.1h.5M501.6 404.4h.5M502.7 405.0h.5M503.9 408.0h.5M502.3 406.5h.5M500.3 405.5h.5M497.7 406.8h.5M497.6 406.8h.5M499.7 407.7h.5M497.6 407.2h.5M501.9 410.6h.5M497.8 409.2h.5M496.6 408.3h.5M498.4 410.7h.5M496.4 410.3h.5M499.8 412.4h.5M496.6 410.1h.5M499.3 411.9h.5M495.0 410.7h.5M498.3 413.3h.5M498.0 413.8h.5M498.2 414.4h.5M495.4 414.0h.5M494.7 412.9h.5M494.8 414.7h.5M495.3 415.8h.5M497.4 417.1h.5M495.4 417.2h.5M494.1 415.9h.5M496.0 417.3h.5M493.9 418.0h.5M494.0 418.6h.5M496.9 419.9h.5M493.5 419.1h.5M493.6 420.4h.5M493.7 420.4h.5M490.1 417.8h.5M489.3 418.9h.5M493.5 421.4h.5M492.8 422.1h.5M493.8 422.6h.5M494.3 423.1h.5M493.6 423.4h.5M489.5 422.1h.5M492.6 424.0h.5M488.3 422.4h.5M489.1 423.9h.5M488.8 424.0h.5M487.5 422.4h.5M490.1 424.6h.5M489.1 425.2h.5M487.1 422.8h.5M487.9 424.6h.5M487.0 424.1h.5M489.9 427.3h.5M489.9 428.9h.5M486.2 425.7h.5M486.0 425.7h.5M486.1 427.6h.5M485.3 426.9h.5M485.6 426.9h.5M484.6 427.2h.5M487.5 429.9h.5M486.3 430.8h.5M483.6 429.9h.5M484.2 430.9h.5M485.9 433.0h.5M484.6 432.8h.5M481.5 429.7h.5M479.8 429.9h.5M481.5 431.0h.5M484.2 434.3h.5M480.2 431.3h.5M482.4 435.5h.5M478.5 432.5h.5M479.3 435.2h.5M476.7 435.3h.5M479.1 436.9h.5M480.9 437.9h.5M477.5 436.8h.5M479.4 437.6h.5M477.3 438.2h.5M476.3 437.4h.5M475.0 437.4h.5M479.3 440.6h.5M475.7 439.0h.5M477.8 440.1h.5M475.6 438.6h.5M473.7 438.1h.5M475.8 439.9h.5M475.6 440.2h.5M474.0 438.9h.5M473.2 438.6h.5M473.4 441.2h.5M475.6 442.5h.5M474.2 442.8h.5M475.8 443.6h.5M474.1 443.0h.5M472.3 441.8h.5M474.0 443.8h.5M475.5 445.0h.5M473.7 442.9h.5M474.5 444.0h.5M471.4 442.9h.5M474.7 444.9h.5M472.3 444.9h.5M474.5 447.3h.5M472.5 445.7h.5M474.4 447.2h.5M473.4 446.2h.5M469.9 446.8h.5M473.2 448.5h.5M468.8 446.5h.5M473.1 451.1h.5M467.8 447.1h.5M472.9 450.9h.5M467.4 448.4h.5M468.0 449.1h.5M470.2 451.6h.5M466.9 450.3h.5M468.8 452.3h.5M469.7 453.8h.5M469.6 455.8h.5M467.0 453.5h.5M468.4 455.3h.5M467.6 456.8h.5M463.3 454.8h.5M467.4 457.3h.5M463.4 456.5h.5M462.0 456.7h.5M464.1 458.1h.5M467.9 459.8h.5M463.0 458.1h.5M463.1 458.3h.5M462.8 460.4h.5M463.8 462.4h.5M462.6 462.1h.5M459.8 460.0h.5M461.2 462.2h.5M464.6 464.9h.5M465.0 465.0h.5M460.0 463.2h.5M461.3 467.1h.5M460.7 466.8h.5M457.1 465.9h.5M459.3 466.9h.5M461.3 467.9h.5M460.5 468.6h.5M459.3 467.4h.5M461.1 470.4h.5M457.2 467.5h.5M457.8 468.9h.5M459.0 469.8h.5M459.6 471.1h.5M456.2 469.0h.5M459.2 473.9h.5M458.6 474.1h.5M453.8 472.0h.5M456.3 473.8h.5M454.9 472.6h.5M455.3 474.2h.5M456.6 476.5h.5M452.4 473.7h.5M456.7 476.2h.5M454.9 475.0h.5M455.2 477.0h.5M453.1 476.0h.5M452.6 475.7h.5M452.3 475.6h.5M451.7 476.8h.5M453.3 478.5h.5M454.8 479.6h.5M452.9 479.3h.5M452.5 481.6h.5M452.2 482.4h.5M450.7 484.0h.5M447.8 482.6h.5M447.5 484.8h.5M448.0 485.9h.5M447.0 489.1h.5M446.0 489.7h.5M442.2 487.7h.5M443.8 488.5h.5M442.4 488.8h.5M444.5 492.0h.5M445.2 492.1h.5M442.0 490.0h.5M441.4 490.3h.5M442.9 492.5h.5M443.2 493.0h.5M442.2 492.7h.5M441.0 493.6h.5M438.4 492.5h.5M441.4 496.1h.5M438.5 494.6h.5M441.2 498.2h.5M437.1 494.8h.5M436.2 497.1h.5M437.6 498.1h.5M436.3 498.0h.5M436.6 498.9h.5M437.1 499.9h.5M438.0 501.3h.5M436.2 501.8h.5M436.1 502.4h.5M433.0 501.5h.5M435.7 504.1h.5M432.9 503.2h.5M434.1 504.3h.5M433.7 504.9h.5M433.9 506.6h.5M429.2 506.4h.5M432.8 508.9h.5M432.4 509.8h.5M428.2 507.7h.5M428.0 509.1h.5M428.8 509.5h.5M427.7 511.0h.5M426.8 509.9h.5M429.5 512.9h.5M428.4 512.6h.5M427.4 512.3h.5M428.6 513.1h.5M425.8 511.2h.5M425.9 512.5h.5M426.9 514.3h.5M427.2 515.1h.5M425.8 515.2h.5M424.8 515.3h.5M424.1 515.2h.5M426.1 517.6h.5M424.0 516.1h.5M423.0 516.5h.5M425.2 517.7h.5M425.0 518.5h.5M424.4 521.3h.5M422.7 519.6h.5M420.5 521.4h.5M420.9 523.2h.5M419.3 522.7h.5M418.9 522.3h.5M421.6 525.5h.5M418.7 524.4h.5M416.4 524.1h.5M417.4 526.2h.5M415.6 525.9h.5M416.1 527.6h.5M415.4 526.9h.5M416.6 528.8h.5M413.8 526.9h.5M417.6 529.8h.5M416.8 531.1h.5M415.4 531.0h.5M414.8 531.1h.5M413.4 531.2h.5M415.7 532.3h.5M412.7 531.8h.5M414.3 534.5h.5M412.2 533.7h.5M410.2 533.7h.5M411.4 534.7h.5M410.2 533.9h.5M411.4 535.3h.5M412.4 536.7h.5M410.5 537.7h.5M410.7 538.1h.5M408.5 538.1h.5M410.8 540.5h.5M409.3 539.8h.5M406.9 539.7h.5M410.7 541.0h.5M411.0 542.9h.5M408.1 542.9h.5M405.9 542.4h.5M405.4 543.0h.5M407.4 544.1h.5M408.0 545.2h.5M404.6 543.5h.5M409.1 546.3h.5M405.0 547.3h.5M406.6 547.8h.5M405.0 547.4h.5M400.2 458.8h.5M403.5 457.4h.5M402.0 459.1h.5M401.7 459.3h.5M402.2 459.1h.5M405.1 459.8h.5M401.1 462.3h.5M405.5 461.7h.5M405.0 462.1h.5M406.0 462.2h.5M404.4 464.3h.5M404.5 464.4h.5M405.8 464.6h.5M405.9 465.2h.5M407.0 464.9h.5M405.5 465.9h.5M404.0 467.5h.5M406.5 467.4h.5M403.9 469.1h.5M404.5 469.0h.5M405.3 468.9h.5M408.2 468.2h.5M405.8 469.5h.5M406.7 470.6h.5M405.4 470.5h.5M409.2 470.1h.5M408.9 470.6h.5M409.0 471.3h.5M406.8 472.7h.5M409.0 473.6h.5M407.8 475.6h.5M410.5 475.5h.5M410.4 476.3h.5M412.1 476.3h.5M412.9 477.6h.5M412.1 480.3h.5M411.2 482.9h.5M412.4 482.3h.5M415.6 481.1h.5M415.7 481.2h.5M414.1 485.6h.5M416.9 482.9h.5M413.1 486.6h.5M414.0 486.2h.5M415.2 486.5h.5M416.2 485.3h.5M415.1 486.6h.5M415.3 487.0h.5M414.9 488.5h.5M417.2 488.9h.5M419.3 487.2h.5M418.9 488.7h.5M420.5 488.4h.5M420.4 488.8h.5M420.1 489.6h.5M417.8 492.2h.5M419.8 492.1h.5M418.1 493.1h.5M421.5 493.0h.5M423.6 493.0h.5M421.6 496.4h.5M425.2 495.7h.5M425.5 494.9h.5M425.0 495.0h.5M420.6 497.9h.5M422.4 498.1h.5M423.8 498.2h.5M422.6 498.7h.5M424.8 500.0h.5M423.8 500.5h.5M424.4 502.6h.5M428.4 500.0h.5M426.0 503.9h.5M427.1 503.2h.5M425.0 505.3h.5M430.1 504.7h.5M427.5 507.6h.5M430.4 507.7h.5M429.4 510.7h.5M431.3 509.3h.5M431.0 510.2h.5M432.0 510.3h.5M434.1 508.2h.5M432.8 512.5h.5M433.7 512.4h.5M433.1 514.4h.5M437.1 510.6h.5M436.5 511.4h.5M435.9 513.9h.5M437.9 511.2h.5M438.0 512.5h.5M436.3 516.0h.5M437.9 514.2h.5M438.0 516.1h.5M437.6 516.4h.5M437.8 517.2h.5M439.4 516.5h.5M441.4 515.2h.5M440.2 518.5h.5M440.7 518.0h.5M443.4 515.7h.5M441.2 518.7h.5M442.7 519.1h.5M443.5 519.3h.5M443.1 520.7h.5M445.4 519.6h.5M446.0 519.6h.5M444.9 522.0h.5M446.3 521.7h.5M446.8 519.9h.5M445.9 521.9h.5M446.0 522.8h.5M448.6 520.4h.5M448.5 521.3h.5M448.5 522.0h.5M448.4 523.3h.5M447.2 524.6h.5M449.9 522.6h.5M451.2 522.8h.5M450.1 524.0h.5M450.2 525.3h.5M451.3 525.8h.5M451.0 525.9h.5M450.1 526.3h.5M449.6 528.3h.5M450.3 528.3h.5M452.7 526.2h.5M451.0 528.8h.5M453.2 527.1h.5M452.0 528.8h.5M451.5 529.6h.5M454.3 527.3h.5M454.8 528.5h.5M454.0 528.9h.5M453.3 530.2h.5M457.1 528.9h.5M457.0 530.2h.5M455.4 531.4h.5M453.6 532.8h.5M458.3 531.0h.5M458.1 531.7h.5M458.8 533.8h.5M457.5 535.5h.5M457.9 534.8h.5M458.9 533.9h.5M458.6 535.9h.5M456.5 537.5h.5M457.7 536.3h.5M458.8 536.6h.5M459.0 537.6h.5M460.4 537.9h.5M461.9 536.6h.5M463.7 538.6h.5M460.3 541.2h.5M461.9 540.7h.5M463.9 539.1h.5M461.6 542.1h.5M465.5 542.5h.5M465.8 544.9h.5M466.1 546.6h.5M465.6 546.4h.5M465.5 547.2h.5M466.2 548.9h.5M468.4 546.7h.5M466.6 549.1h.5M467.6 549.7h.5M471.7 547.6h.5M467.3 550.6h.5M469.4 550.7h.5M470.5 551.1h.5M469.0 551.8h.5M470.4 552.4h.5M472.1 550.6h.5M472.5 550.3h.5M469.5 455.4h.5M471.2 458.4h.5M470.6 460.3h.5M469.8 465.5h.5M471.4 466.2h.5M471.1 468.5h.5M471.5 468.2h.5M470.5 468.8h.5M470.6 468.8h.5M470.7 470.2h.5M470.7 471.7h.5M470.8 473.0h.5M471.0 472.8h.5M471.7 473.3h.5M472.6 474.8h.5M471.2 476.0h.5M472.1 475.8h.5M471.2 477.0h.5M471.4 477.9h.5M473.5 478.9h.5M473.5 480.9h.5M474.0 484.3h.5M473.6 485.4h.5M473.4 485.7h.5M472.7 486.6h.5M474.5 490.1h.5M473.8 491.5h.5M474.9 492.7h.5M475.4 493.7h.5M474.5 495.1h.5M474.4 495.3h.5M474.0 496.4h.5M474.6 497.4h.5M474.9 499.4h.5M475.8 504.2h.5M476.0 507.2h.5M475.9 508.2h.5M475.9 508.4h.5M475.5 509.2h.5M475.6 509.9h.5M476.8 511.7h.5M476.7 511.9h.5M475.7 513.3h.5M476.3 514.8h.5M476.7 514.2h.5M476.7 516.9h.5M476.2 521.0h.5M475.8 523.4h.5M477.1 523.5h.5M477.5 525.1h.5M476.5 525.3h.5M478.2 526.3h.5M477.9 528.7h.5M477.7 529.8h.5M477.5 530.1h.5M478.5 534.6h.5M478.9 534.5h.5M479.7 535.3h.5M480.0 538.5h.5M480.9 541.2h.5M482.7 542.9h.5M483.7 544.4h.5M483.7 545.1h.5M484.9 545.1h.5M485.9 546.9h.5M487.9 549.3h.5M486.8 549.7h.5M484.8 437.1h.5M486.9 438.8h.5M485.2 437.2h.5M485.2 438.7h.5M486.0 439.4h.5M483.9 438.8h.5M482.9 439.7h.5M483.6 440.8h.5M483.3 441.0h.5M484.6 441.6h.5M481.9 442.7h.5M481.4 442.4h.5M484.5 444.7h.5M484.0 444.8h.5M481.0 443.8h.5M483.0 445.0h.5M480.2 443.7h.5M483.3 445.3h.5M480.6 443.9h.5M480.1 444.7h.5M479.9 444.1h.5M483.6 446.8h.5M482.5 447.3h.5M480.4 445.6h.5M479.1 445.6h.5M480.9 447.2h.5M482.4 448.6h.5M481.3 448.6h.5M481.0 448.9h.5M479.4 448.1h.5M479.4 450.4h.5M480.9 451.6h.5M476.8 449.8h.5M479.7 451.9h.5M477.8 452.0h.5M476.5 452.2h.5M476.0 452.8h.5M477.5 453.6h.5M474.3 455.1h.5M476.1 456.4h.5M475.2 456.4h.5M475.7 459.1h.5M473.4 457.7h.5M474.3 460.3h.5M473.2 459.6h.5M473.9 461.5h.5M473.7 461.4h.5M470.7 460.0h.5M473.1 463.1h.5M471.9 461.6h.5M472.0 462.9h.5M469.8 461.3h.5M468.7 461.6h.5M470.2 464.2h.5M471.7 465.1h.5M469.3 463.5h.5M469.5 466.9h.5M469.8 467.7h.5M468.7 467.7h.5M466.5 465.8h.5M466.0 466.9h.5M466.2 468.0h.5M467.4 469.2h.5M465.5 467.4h.5M464.5 469.0h.5M466.2 472.2h.5M465.0 471.0h.5M466.1 471.6h.5M465.8 471.8h.5M463.8 470.9h.5M462.4 469.8h.5M464.0 470.4h.5M463.5 470.7h.5M463.0 471.0h.5M461.6 470.7h.5M462.8 474.2h.5M461.7 472.5h.5M463.2 473.8h.5M463.9 474.3h.5M462.3 474.3h.5M461.6 473.9h.5M460.0 472.8h.5M461.3 476.1h.5M460.1 475.0h.5M515.0 351.4h.5M512.9 361.8h.5M512.0 367.5h.5M510.8 369.9h.5M510.6 370.4h.5M432.3 345.7h.5M432.7 346.7h.5M435.7 351.4h.5M436.9 353.7h.5M458.2 337.5h.5M459.6 338.4h.5M460.6 341.3h.5M439.6 450.2h.5M440.8 454.3h.5M441.1 456.6h.5M442.6 458.4h.5M442.4 461.2h.5M442.9 462.7h.5M468.4 482.7h.4M415.8 429.5h.4M454.1 440.5h.4M449.2 354.3h.4M530.0 492.2h.4M522.9 366.0h.4M428.5 431.7h.4M474.5 402.4h.4M400.5 339.1h.4M526.0 529.3h.4M474.5 494.4h.4M407.6 420.2h.4M399.2 398.6h.4M507.4 498.3h.4M527.7 318.1h.4M411.3 514.8h.4M516.5 338.8h.4M401.1 323.4h.4M526.2 468.3h.4M465.1 309.1h.4M522.3 442.5h.4M449.4 487.5h.4M402.3 384.8h.4M528.1 479.3h.4M417.3 397.9h.4M530.2 415.7h.4M395.7 382.2h.4M486.2 463.5h.4M413.6 522.1h.4M405.4 511.4h.4M511.5 429.3h.4M463.5 345.2h.4M461.0 434.3h.4M522.7 378.7h.4M485.6 375.8h.4M518.7 381.6h.4M433.7 381.6h.4" stroke="rgb(120,20,95)" stroke-width="1.4" stroke-linecap="round" fill="none"/>
<path d="M528.7 380.8h.5M526.9 379.6h.5M525.0 378.7h.5M527.3 380.6h.5M524.9 378.7h.5M524.7 379.2h.5M526.1 380.9h.5M526.5 382.5h.5M524.7 382.2h.5M522.7 380.3h.5M523.0 380.1h.5M525.3 382.8h.5M526.7 384.0h.5M524.4 381.8h.5M526.4 385.2h.5M524.4 382.9h.5M522.3 381.6h.5M525.2 384.1h.5M524.8 383.9h.5M523.7 382.3h.5M522.2 382.3h.5M521.3 382.0h.5M522.0 382.5h.5M521.6 381.9h.5M521.8 383.6h.5M525.1 386.6h.5M523.8 384.9h.5M523.9 386.5h.5M523.8 387.9h.5M524.2 388.2h.5M524.3 388.6h.5M519.5 385.4h.5M520.3 386.5h.5M518.3 385.3h.5M521.6 391.1h.5M520.9 390.2h.5M519.9 389.1h.5M519.6 390.3h.5M518.1 388.3h.5M520.9 391.5h.5M515.9 387.7h.5M517.0 388.9h.5M517.3 389.5h.5M517.8 391.2h.5M515.0 388.9h.5M514.9 389.6h.5M513.8 389.1h.5M517.3 391.9h.5M514.4 390.9h.5M518.2 394.2h.5M517.8 393.7h.5M516.8 394.1h.5M514.8 391.5h.5M513.5 391.6h.5M513.9 391.4h.5M514.8 392.1h.5M515.5 394.5h.5M513.6 392.4h.5M514.7 394.5h.5M512.7 393.3h.5M513.4 394.3h.5M510.6 393.5h.5M511.9 394.3h.5M512.0 394.8h.5M511.7 396.0h.5M513.7 397.6h.5M513.6 397.5h.5M510.9 396.5h.5M512.0 396.9h.5M510.8 396.6h.5M512.6 397.6h.5M512.1 397.2h.5M510.7 397.1h.5M509.3 396.4h.5M508.7 395.5h.5M509.7 396.3h.5M512.4 400.6h.5M510.4 398.3h.5M507.9 397.3h.5M509.8 400.5h.5M506.7 396.7h.5M508.1 398.6h.5M507.7 398.6h.5M506.6 398.6h.5M507.9 399.6h.5M509.5 401.6h.5M508.0 399.5h.5M509.2 401.1h.5M507.0 399.7h.5M504.9 398.6h.5M507.6 400.8h.5M509.5 402.9h.5M509.2 402.0h.5M508.5 403.4h.5M508.5 402.9h.5M507.5 401.9h.5M503.9 400.0h.5M506.5 402.7h.5M506.7 404.0h.5M503.0 400.9h.5M505.3 402.6h.5M505.3 404.1h.5M503.9 403.1h.5M505.0 403.0h.5M502.9 403.4h.5M506.0 406.2h.5M504.5 404.5h.5M502.1 402.0h.5M506.5 406.8h.5M502.3 403.4h.5M505.7 408.0h.5M503.5 405.7h.5M501.8 404.2h.5M502.0 405.3h.5M502.9 406.3h.5M503.0 408.1h.5M503.8 408.9h.5M500.2 407.5h.5M501.5 407.4h.5M502.1 407.9h.5M499.6 406.7h.5M503.1 408.8h.5M498.7 407.2h.5M502.9 410.5h.5M500.4 409.4h.5M498.7 409.2h.5M498.3 409.1h.5M501.7 411.2h.5M497.8 410.2h.5M500.9 411.8h.5M498.9 410.8h.5M498.8 410.4h.5M496.6 410.1h.5M498.9 412.9h.5M499.8 413.3h.5M496.0 411.3h.5M498.5 413.6h.5M499.1 414.0h.5M494.9 411.3h.5M497.3 413.1h.5M497.7 412.9h.5M498.0 414.6h.5M496.2 413.3h.5M494.2 413.0h.5M499.1 416.3h.5M496.8 414.6h.5M496.4 415.5h.5M494.8 415.5h.5M493.6 414.9h.5M495.9 417.4h.5M492.7 415.4h.5M493.1 416.8h.5M496.9 419.2h.5M491.9 416.1h.5M496.2 419.2h.5M496.9 420.2h.5M496.1 419.4h.5M490.8 416.1h.5M491.2 417.4h.5M492.9 418.9h.5M491.9 418.1h.5M494.4 420.2h.5M494.1 421.0h.5M490.7 420.1h.5M492.2 420.8h.5M491.3 421.3h.5M490.6 420.6h.5M491.9 422.6h.5M488.9 420.5h.5M490.4 421.8h.5M489.1 420.3h.5M492.3 422.7h.5M491.8 423.2h.5M489.9 422.2h.5M488.9 422.9h.5M491.3 424.2h.5M492.1 425.9h.5M489.3 424.7h.5M488.9 424.6h.5M487.6 423.4h.5M489.7 425.2h.5M487.3 426.0h.5M487.0 425.9h.5M487.4 425.8h.5M490.2 428.9h.5M485.1 424.8h.5M487.8 427.3h.5M486.1 425.8h.5M486.9 428.2h.5M485.9 427.8h.5M485.6 427.5h.5M484.4 427.4h.5M484.5 428.5h.5M487.6 431.5h.5M483.4 427.1h.5M486.4 430.4h.5M482.7 427.2h.5M485.4 430.5h.5M481.3 427.8h.5M481.9 427.8h.5M486.1 432.1h.5M485.4 432.8h.5M483.1 431.8h.5M480.3 429.2h.5M480.3 429.2h.5M482.6 431.3h.5M483.2 432.0h.5M483.7 433.7h.5M484.2 434.1h.5M482.7 433.1h.5M481.7 432.5h.5M483.3 435.1h.5M480.6 432.2h.5M481.1 433.8h.5M482.4 435.5h.5M482.3 434.4h.5M480.6 433.5h.5M478.9 431.7h.5M482.5 435.8h.5M478.9 433.0h.5M481.1 435.0h.5M477.9 434.3h.5M481.2 435.7h.5M477.9 433.9h.5M475.7 433.6h.5M476.3 433.5h.5M479.3 435.7h.5M479.9 436.1h.5M476.2 435.4h.5M475.8 435.4h.5M481.0 438.9h.5M475.9 436.3h.5M476.0 437.3h.5M477.9 438.4h.5M476.0 437.9h.5M478.6 440.0h.5M478.3 439.9h.5M475.7 439.4h.5M474.6 439.6h.5M475.1 439.8h.5M477.4 442.8h.5M478.2 442.6h.5M474.1 440.1h.5M473.9 439.8h.5M475.1 440.4h.5M475.5 442.7h.5M473.2 440.8h.5M475.1 443.4h.5M473.5 442.6h.5M471.6 441.7h.5M474.6 444.9h.5M471.2 444.1h.5M471.8 444.2h.5M470.5 443.5h.5M473.0 444.8h.5M473.2 446.5h.5M471.0 445.5h.5M471.9 446.3h.5M472.4 447.1h.5M470.2 446.0h.5M474.1 448.4h.5M469.2 444.9h.5M472.1 448.3h.5M469.4 446.0h.5M473.9 448.8h.5M469.8 446.6h.5M473.3 449.9h.5M471.9 448.7h.5M473.8 450.2h.5M469.6 447.8h.5M469.9 449.0h.5M473.4 450.8h.5M469.5 448.3h.5M470.0 450.3h.5M467.1 448.1h.5M468.3 449.5h.5M467.6 449.4h.5M469.0 450.6h.5M471.1 453.1h.5M471.8 453.3h.5M467.9 451.3h.5M470.7 452.9h.5M470.5 453.6h.5M465.7 450.5h.5M466.3 451.3h.5M466.8 452.7h.5M469.1 454.3h.5M465.0 451.3h.5M466.7 453.7h.5M469.9 455.7h.5M465.8 454.4h.5M465.4 453.9h.5M468.5 455.7h.5M464.9 454.7h.5M464.0 454.5h.5M466.8 456.3h.5M467.3 456.4h.5M466.7 456.2h.5M467.0 457.4h.5M464.9 455.8h.5M466.2 457.6h.5M464.1 455.9h.5M465.7 457.7h.5M465.2 456.8h.5M466.9 458.5h.5M468.3 460.1h.5M462.1 456.5h.5M462.3 456.2h.5M463.6 458.4h.5M462.2 457.1h.5M462.6 459.3h.5M462.8 459.5h.5M463.7 459.2h.5M463.7 459.0h.5M466.7 461.1h.5M465.7 461.9h.5M460.6 458.9h.5M464.7 462.8h.5M461.2 460.3h.5M463.3 461.3h.5M465.5 463.7h.5M460.3 461.2h.5M459.9 460.6h.5M459.7 460.7h.5M460.0 461.5h.5M461.8 462.5h.5M460.5 462.7h.5M461.8 464.1h.5M463.6 466.4h.5M460.5 464.1h.5M458.7 463.6h.5M463.0 467.3h.5M459.4 464.3h.5M459.8 465.2h.5M459.3 464.5h.5M462.8 466.6h.5M459.9 466.3h.5M461.6 466.6h.5M457.3 464.3h.5M457.5 465.9h.5M457.2 465.4h.5M460.3 468.1h.5M459.5 469.4h.5M458.8 469.1h.5M457.6 467.9h.5M458.5 469.9h.5M457.3 469.2h.5M457.1 469.0h.5M458.7 470.9h.5M459.0 470.9h.5M456.8 469.0h.5M459.3 472.1h.5M455.3 470.2h.5M456.4 470.9h.5M454.7 469.4h.5M458.2 471.3h.5M454.3 470.1h.5M453.8 470.2h.5M457.6 472.3h.5M456.1 471.3h.5M458.6 472.6h.5M459.0 472.8h.5M455.5 472.1h.5M457.4 473.5h.5M455.3 471.8h.5M453.6 472.0h.5M457.3 473.9h.5M453.6 472.7h.5M456.7 475.0h.5M454.5 473.6h.5M455.4 474.3h.5M456.0 477.2h.5M453.2 474.5h.5M455.6 476.6h.5M454.5 476.6h.5M453.1 475.8h.5M454.2 477.7h.5M451.3 477.3h.5M453.9 480.3h.5M450.0 477.4h.5M453.8 480.3h.5M449.5 478.3h.5M451.0 479.3h.5M453.2 481.3h.5M451.9 480.7h.5M451.8 481.9h.5M448.2 479.9h.5M451.7 483.3h.5M451.6 483.4h.5M449.9 482.4h.5M452.1 482.8h.5M447.6 481.3h.5M448.1 482.0h.5M450.7 483.5h.5M447.8 482.9h.5M447.3 482.5h.5M449.6 484.4h.5M449.1 485.0h.5M450.0 485.4h.5M446.5 483.5h.5M449.8 485.7h.5M448.3 485.3h.5M446.5 483.8h.5M447.8 485.6h.5M446.6 485.1h.5M445.5 484.8h.5M445.8 484.6h.5M448.3 487.3h.5M445.3 485.1h.5M446.2 486.6h.5M445.5 486.8h.5M445.6 486.8h.5M446.3 486.8h.5M445.4 486.2h.5M446.5 488.4h.5M445.9 487.6h.5M443.2 486.4h.5M446.5 489.7h.5M445.0 488.6h.5M446.3 489.4h.5M446.2 488.9h.5M444.6 489.5h.5M443.0 488.0h.5M444.8 489.0h.5M443.3 489.6h.5M441.4 488.3h.5M443.3 491.0h.5M443.8 490.8h.5M441.2 490.5h.5M443.7 492.3h.5M443.5 492.2h.5M442.4 492.2h.5M444.2 493.8h.5M443.2 493.7h.5M440.6 492.4h.5M441.7 493.0h.5M441.5 492.7h.5M440.8 493.6h.5M440.0 492.6h.5M442.9 494.8h.5M439.0 493.0h.5M439.6 495.1h.5M442.2 496.7h.5M441.4 496.0h.5M437.1 494.7h.5M439.5 495.9h.5M437.6 495.7h.5M437.3 495.2h.5M438.4 496.3h.5M439.2 497.9h.5M440.3 498.4h.5M438.0 496.9h.5M436.8 496.1h.5M437.5 497.9h.5M437.2 497.7h.5M436.2 497.0h.5M438.9 499.2h.5M437.0 498.7h.5M436.8 499.2h.5M436.3 498.9h.5M438.4 501.7h.5M434.5 499.5h.5M437.8 502.0h.5M434.1 500.0h.5M436.8 501.6h.5M436.7 502.7h.5M434.7 502.2h.5M435.3 502.6h.5M432.4 501.0h.5M433.1 502.0h.5M431.9 501.6h.5M434.0 503.1h.5M434.1 502.9h.5M433.7 504.1h.5M431.8 502.4h.5M435.8 505.0h.5M431.2 502.8h.5M431.8 503.2h.5M431.0 504.4h.5M433.1 505.5h.5M434.3 506.5h.5M432.5 506.5h.5M432.1 506.4h.5M429.9 505.5h.5M432.4 507.6h.5M430.7 506.4h.5M429.4 505.4h.5M429.4 506.4h.5M429.0 506.4h.5M429.0 506.9h.5M432.1 509.6h.5M431.0 508.1h.5M432.4 510.3h.5M431.0 509.8h.5M431.0 510.6h.5M428.9 509.0h.5M429.2 510.2h.5M429.3 510.3h.5M430.0 510.9h.5M430.8 512.9h.5M429.9 512.2h.5M429.9 513.1h.5M428.7 512.9h.5M429.1 514.3h.5M426.2 513.0h.5M426.2 512.9h.5M426.7 513.0h.5M428.6 516.1h.5M424.6 512.6h.5M425.2 514.3h.5M424.7 514.5h.5M422.8 514.5h.5M423.4 515.2h.5M423.5 516.4h.5M426.6 518.8h.5M422.0 515.9h.5M423.4 517.5h.5M422.7 517.4h.5M422.9 517.8h.5M423.7 519.4h.5M425.3 520.1h.5M421.8 519.4h.5M422.2 518.7h.5M424.3 521.3h.5M420.1 519.3h.5M420.3 519.0h.5M420.3 519.3h.5M420.8 519.7h.5M420.6 519.7h.5M422.8 522.1h.5M418.5 520.3h.5M422.5 523.0h.5M419.0 520.6h.5M420.0 521.3h.5M420.0 521.8h.5M420.3 522.7h.5M419.4 522.1h.5M419.1 522.8h.5M418.4 522.1h.5M420.5 524.7h.5M417.6 522.2h.5M420.2 525.9h.5M418.1 523.7h.5M417.4 524.1h.5M420.3 525.9h.5M416.8 524.0h.5M418.8 526.0h.5M418.4 525.8h.5M415.4 524.8h.5M418.2 526.8h.5M419.3 527.8h.5M417.2 526.6h.5M415.2 525.9h.5M416.7 526.7h.5M417.9 528.8h.5M415.1 527.0h.5M416.3 529.1h.5M415.5 528.7h.5M415.8 529.6h.5M416.5 529.8h.5M416.5 531.1h.5M417.1 532.2h.5M413.8 530.1h.5M413.7 531.2h.5M411.5 530.4h.5M416.1 532.3h.5M413.3 532.7h.5M413.6 532.3h.5M414.4 533.8h.5M412.1 532.3h.5M412.6 532.6h.5M413.8 533.9h.5M413.0 534.5h.5M413.4 535.0h.5M414.5 534.9h.5M411.0 534.0h.5M411.3 534.1h.5M413.8 536.9h.5M413.0 536.7h.5M411.1 536.6h.5M410.1 536.0h.5M410.2 536.3h.5M410.2 535.9h.5M409.1 536.2h.5M409.8 536.8h.5M412.2 538.1h.5M412.1 538.8h.5M412.9 539.1h.5M408.8 538.9h.5M409.0 538.4h.5M412.0 540.0h.5M411.4 540.4h.5M411.1 540.4h.5M410.8 541.8h.5M410.6 541.9h.5M409.6 541.3h.5M408.4 541.4h.5M408.8 542.0h.5M407.4 540.8h.5M407.6 541.1h.5M405.8 541.2h.5M408.7 542.7h.5M410.2 543.6h.5M409.1 542.6h.5M409.2 544.1h.5M407.8 543.1h.5M408.5 543.7h.5M406.7 543.9h.5M405.5 543.0h.5M404.7 543.5h.5M405.4 543.8h.5M408.2 546.4h.5M404.9 544.8h.5M408.2 546.3h.5M406.0 544.9h.5M404.2 545.3h.5M405.5 546.2h.5M405.9 546.4h.5M407.2 548.4h.5M402.7 457.9h.5M401.2 458.3h.5M403.9 458.6h.5M402.5 459.8h.5M401.4 460.5h.5M400.4 461.4h.5M401.7 460.9h.5M403.5 461.6h.5M405.0 461.0h.5M403.6 461.4h.5M402.0 463.4h.5M404.9 462.0h.5M402.6 463.6h.5M405.5 462.1h.5M406.6 462.2h.5M406.0 463.7h.5M402.7 464.6h.5M405.9 464.1h.5M405.1 464.3h.5M406.3 463.7h.5M403.1 465.4h.5M406.7 465.1h.5M402.7 467.1h.5M404.3 467.1h.5M407.5 466.0h.5M407.5 465.6h.5M405.1 467.6h.5M405.0 467.9h.5M406.6 467.9h.5M405.0 468.5h.5M408.9 468.7h.5M405.0 470.8h.5M406.5 471.1h.5M409.5 470.0h.5M408.0 471.7h.5M408.5 471.9h.5M407.0 473.4h.5M409.7 472.0h.5M408.2 472.2h.5M407.1 473.9h.5M410.3 472.4h.5M410.9 472.3h.5M407.1 473.8h.5M410.1 473.3h.5M409.7 473.6h.5M411.5 473.5h.5M408.1 475.1h.5M409.3 474.0h.5M411.9 474.2h.5M408.0 475.5h.5M407.2 476.1h.5M408.3 476.3h.5M409.4 476.5h.5M409.9 477.1h.5M412.0 476.0h.5M410.7 476.9h.5M411.3 476.8h.5M409.1 477.9h.5M408.4 478.7h.5M409.0 479.2h.5M410.1 478.8h.5M411.7 478.5h.5M409.1 479.2h.5M413.7 478.4h.5M410.8 480.9h.5M412.9 479.0h.5M413.7 478.7h.5M413.2 480.3h.5M413.0 480.9h.5M413.3 479.6h.5M413.7 481.4h.5M411.6 482.5h.5M414.5 480.5h.5M414.9 481.6h.5M415.4 481.2h.5M414.3 482.6h.5M413.3 483.8h.5M412.1 484.7h.5M415.8 482.1h.5M412.6 484.9h.5M414.2 483.9h.5M416.3 482.7h.5M412.5 486.3h.5M412.6 485.6h.5M416.0 484.8h.5M417.2 484.2h.5M416.0 486.3h.5M416.0 486.8h.5M417.5 487.2h.5M416.9 487.7h.5M417.6 488.4h.5M415.8 489.4h.5M417.8 489.4h.5M417.7 489.3h.5M417.0 489.7h.5M416.9 490.0h.5M416.7 491.3h.5M418.8 490.0h.5M417.6 490.3h.5M418.5 490.9h.5M420.6 490.7h.5M417.9 491.8h.5M420.4 490.5h.5M419.7 492.6h.5M419.3 492.7h.5M418.6 493.0h.5M419.0 493.7h.5M419.5 493.2h.5M419.6 493.1h.5M421.5 492.7h.5M423.4 492.3h.5M421.0 493.3h.5M421.5 493.6h.5M422.2 493.5h.5M422.5 493.6h.5M421.6 494.6h.5M419.8 495.5h.5M421.4 495.8h.5M424.2 493.4h.5M422.9 494.5h.5M421.6 496.2h.5M424.7 495.0h.5M423.1 495.7h.5M421.1 498.0h.5M422.8 497.9h.5M422.3 498.2h.5M423.5 497.6h.5M423.0 497.8h.5M422.0 499.1h.5M425.2 497.6h.5M422.3 499.6h.5M426.2 498.5h.5M424.9 498.5h.5M424.5 500.1h.5M423.7 501.0h.5M423.4 501.2h.5M423.8 502.1h.5M424.6 501.0h.5M423.9 501.8h.5M425.6 501.2h.5M427.1 500.5h.5M427.2 501.1h.5M427.5 500.4h.5M426.9 501.5h.5M428.3 501.1h.5M425.6 502.5h.5M427.2 501.9h.5M424.9 503.4h.5M427.2 502.8h.5M427.0 503.2h.5M426.3 504.8h.5M426.6 504.6h.5M429.5 503.6h.5M428.0 504.9h.5M430.2 503.6h.5M430.1 503.3h.5M430.4 504.2h.5M427.5 505.9h.5M430.4 505.9h.5M427.2 507.0h.5M428.1 506.9h.5M430.5 507.0h.5M428.8 509.4h.5M429.8 508.7h.5M429.0 510.7h.5M429.4 510.4h.5M430.6 509.2h.5M432.0 506.8h.5M431.6 508.4h.5M432.3 507.4h.5M433.7 507.5h.5M433.3 508.8h.5M431.9 510.2h.5M433.5 510.1h.5M432.4 510.2h.5M432.7 510.6h.5M434.8 508.6h.5M433.7 510.5h.5M433.9 510.7h.5M435.2 509.4h.5M435.4 510.6h.5M435.5 510.6h.5M433.0 512.8h.5M436.0 509.3h.5M435.2 512.1h.5M433.4 514.2h.5M435.4 512.0h.5M435.4 513.1h.5M437.0 511.4h.5M435.7 514.0h.5M435.5 513.9h.5M437.7 511.2h.5M435.2 515.6h.5M437.0 513.4h.5M437.6 512.6h.5M438.2 514.3h.5M439.1 512.0h.5M439.0 512.3h.5M439.7 513.1h.5M440.1 512.9h.5M438.4 516.3h.5M441.1 513.4h.5M439.1 515.4h.5M438.9 517.3h.5M440.8 514.6h.5M440.9 515.4h.5M440.7 516.9h.5M442.5 514.9h.5M440.9 518.3h.5M440.5 519.3h.5M442.7 516.7h.5M441.2 520.0h.5M443.4 517.6h.5M444.9 516.9h.5M443.2 519.6h.5M445.5 518.1h.5M443.6 519.6h.5M444.4 518.9h.5M446.1 518.8h.5M443.7 521.2h.5M444.6 522.1h.5M446.4 521.1h.5M446.1 522.8h.5M448.0 520.9h.5M448.0 521.9h.5M448.0 522.2h.5M446.9 523.6h.5M449.0 522.0h.5M448.4 523.1h.5M447.9 524.2h.5M449.0 523.6h.5M451.5 523.2h.5M448.2 525.8h.5M450.6 523.5h.5M448.4 526.4h.5M450.9 524.3h.5M452.2 523.6h.5M452.4 524.5h.5M449.3 527.3h.5M452.0 526.1h.5M451.0 526.9h.5M450.9 527.6h.5M452.5 527.7h.5M454.6 525.9h.5M454.5 527.5h.5M453.5 529.4h.5M453.6 530.6h.5M456.6 529.4h.5M453.6 531.4h.5M455.3 531.3h.5M456.6 530.9h.5M457.5 530.2h.5M458.4 531.3h.5M457.2 532.4h.5M458.8 532.6h.5M458.7 532.1h.5M457.2 533.1h.5M456.3 534.1h.5M455.8 535.1h.5M457.5 534.3h.5M459.7 532.5h.5M460.6 533.3h.5M458.0 536.3h.5M460.4 535.4h.5M462.3 535.5h.5M460.8 536.2h.5M462.5 536.9h.5M462.9 537.1h.5M460.3 538.8h.5M461.6 537.9h.5M463.3 538.2h.5M459.9 540.1h.5M461.3 539.5h.5M463.6 538.3h.5M461.0 540.7h.5M462.4 541.5h.5M463.3 540.3h.5M463.9 539.5h.5M462.8 542.1h.5M464.0 541.0h.5M464.5 540.6h.5M465.1 540.9h.5M462.8 542.9h.5M463.7 542.3h.5M464.5 541.2h.5M464.6 542.5h.5M462.7 544.4h.5M464.4 542.4h.5M465.4 543.5h.5M464.3 543.6h.5M466.7 542.7h.5M467.2 541.7h.5M464.9 544.4h.5M466.0 544.0h.5M466.8 542.8h.5M463.8 545.4h.5M466.8 542.6h.5M465.0 546.0h.5M467.5 543.5h.5M467.0 544.0h.5M465.7 545.3h.5M465.8 546.0h.5M466.9 546.5h.5M466.0 548.8h.5M467.0 547.7h.5M469.9 545.8h.5M467.7 548.0h.5M468.7 548.1h.5M467.7 548.4h.5M470.1 547.2h.5M467.4 550.6h.5M468.6 549.7h.5M470.9 548.0h.5M471.3 548.5h.5M468.0 551.8h.5M468.4 551.4h.5M471.9 548.6h.5M470.6 550.9h.5M470.7 550.8h.5M473.0 550.2h.5M468.7 452.2h.5M469.5 451.8h.5M470.3 453.0h.5M469.6 454.1h.5M469.5 454.1h.5M469.5 455.0h.5M469.5 454.5h.5M470.1 455.5h.5M469.7 457.3h.5M470.7 459.6h.5M471.4 458.8h.5M470.5 460.3h.5M470.9 460.8h.5M469.4 461.8h.5M470.1 461.6h.5M469.9 462.5h.5M471.3 463.8h.5M470.0 464.0h.5M470.8 464.9h.5M471.8 465.4h.5M471.3 467.5h.5M470.4 470.2h.5M470.3 470.8h.5M470.1 471.7h.5M471.4 473.4h.5M472.5 474.3h.5M472.0 476.7h.5M472.4 477.2h.5M472.6 478.4h.5M472.8 478.9h.5M472.1 480.4h.5M472.2 480.2h.5M472.9 480.7h.5M472.7 481.8h.5M473.9 481.4h.5M473.2 482.9h.5M472.4 483.9h.5M474.0 486.4h.5M473.0 487.1h.5M473.7 487.0h.5M472.8 487.9h.5M474.8 487.8h.5M474.7 488.9h.5M474.6 490.3h.5M473.7 491.0h.5M474.9 491.4h.5M473.2 493.0h.5M474.9 493.4h.5M474.2 494.4h.5M474.4 494.5h.5M473.9 496.7h.5M474.0 497.0h.5M473.7 498.6h.5M474.7 498.5h.5M475.6 498.9h.5M475.4 499.8h.5M473.8 500.0h.5M474.5 502.4h.5M475.8 503.4h.5M474.4 503.8h.5M476.1 504.3h.5M475.3 505.2h.5M476.6 507.5h.5M475.3 508.8h.5M476.6 510.0h.5M476.3 510.7h.5M476.4 512.3h.5M476.1 513.3h.5M475.4 515.4h.5M475.6 516.1h.5M475.3 516.7h.5M476.4 517.4h.5M476.9 518.4h.5M475.9 518.2h.5M475.5 519.2h.5M477.4 519.3h.5M477.2 519.8h.5M477.0 519.8h.5M476.5 520.6h.5M475.7 521.5h.5M476.8 521.7h.5M476.8 522.9h.5M477.1 524.2h.5M477.5 524.7h.5M476.7 527.1h.5M476.7 527.0h.5M478.1 527.8h.5M477.1 531.2h.5M477.0 530.8h.5M477.8 532.1h.5M478.0 532.5h.5M477.4 533.0h.5M478.4 535.6h.5M479.1 537.4h.5M480.5 538.2h.5M480.4 539.4h.5M481.0 539.8h.5M482.9 541.6h.5M483.2 541.6h.5M483.8 542.7h.5M483.6 544.4h.5M485.3 544.5h.5M484.8 546.4h.5M485.1 546.1h.5M486.3 548.0h.5M486.3 548.8h.5M484.7 437.0h.5M487.2 439.8h.5M485.8 439.8h.5M484.7 439.6h.5M484.5 440.3h.5M483.2 439.8h.5M486.6 441.5h.5M481.7 441.0h.5M482.5 441.4h.5M485.7 443.5h.5M482.1 441.4h.5M483.3 443.3h.5M484.0 443.7h.5M481.3 442.6h.5M482.4 443.8h.5M484.7 445.2h.5M480.0 444.5h.5M482.0 446.6h.5M481.8 446.0h.5M481.9 447.8h.5M480.2 447.1h.5M478.4 446.5h.5M479.9 448.7h.5M478.0 447.5h.5M480.1 450.4h.5M478.4 449.3h.5M478.2 449.7h.5M479.2 450.1h.5M476.2 450.3h.5M478.9 453.0h.5M475.5 451.7h.5M479.5 453.9h.5M478.6 454.9h.5M477.9 455.6h.5M477.6 454.8h.5M478.1 455.8h.5M475.7 453.4h.5M477.9 455.3h.5M474.4 453.6h.5M477.3 455.4h.5M473.8 454.3h.5M475.0 455.3h.5M473.0 456.4h.5M472.7 456.0h.5M475.5 457.6h.5M474.4 458.3h.5M473.4 457.8h.5M474.2 459.5h.5M475.5 460.3h.5M471.0 458.7h.5M471.9 459.7h.5M472.1 459.6h.5M471.7 460.8h.5M472.9 462.8h.5M471.5 461.4h.5M469.9 460.7h.5M470.3 462.1h.5M470.5 462.9h.5M469.9 463.1h.5M471.9 464.0h.5M468.6 463.0h.5M468.1 463.8h.5M467.7 463.7h.5M469.4 464.6h.5M468.5 463.8h.5M467.9 465.4h.5M468.2 464.7h.5M468.9 466.2h.5M467.0 465.0h.5M469.2 467.5h.5M468.9 467.6h.5M468.7 468.6h.5M467.5 468.2h.5M466.1 466.5h.5M468.3 469.7h.5M465.6 467.1h.5M465.8 468.8h.5M467.8 470.4h.5M467.4 470.4h.5M464.7 468.0h.5M465.7 469.9h.5M466.1 470.0h.5M466.5 470.9h.5M464.0 469.7h.5M465.0 471.9h.5M465.2 473.1h.5M463.1 471.1h.5M464.7 473.5h.5M461.5 471.5h.5M461.1 473.4h.5M461.4 474.5h.5M462.0 474.9h.5M459.7 474.2h.5M459.8 474.3h.5M516.1 346.1h.5M515.7 347.0h.5M514.8 348.1h.5M514.1 351.9h.5M514.5 353.7h.5M514.3 354.2h.5M513.9 354.7h.5M514.4 355.9h.5M513.0 358.6h.5M513.1 360.2h.5M512.8 365.1h.5M511.8 365.8h.5M511.5 366.7h.5M510.4 371.7h.5M511.1 373.4h.5M509.5 379.6h.5M509.2 381.3h.5M509.3 383.3h.5M509.1 384.8h.5M420.7 321.5h.5M423.6 328.1h.5M422.7 329.2h.5M424.0 332.4h.5M426.0 334.0h.5M427.2 337.1h.5M427.9 338.6h.5M427.8 340.2h.5M428.7 341.9h.5M430.4 343.6h.5M431.0 345.8h.5M432.7 348.9h.5M434.0 350.2h.5M435.3 350.6h.5M437.9 354.3h.5M455.4 330.1h.5M454.6 331.0h.5M457.2 335.2h.5M457.7 336.1h.5M460.9 342.4h.5M461.2 343.2h.5M461.8 343.8h.5M440.1 452.8h.5M441.1 455.6h.5M441.9 457.6h.5M442.6 459.3h.5M444.2 467.3h.5M444.1 468.2h.5M437.1 375.3h.4M420.7 527.0h.4M428.8 453.1h.4M525.4 415.9h.4M397.6 474.1h.4M496.5 541.2h.4M510.1 536.6h.4M457.2 363.3h.4M460.6 447.8h.4M430.7 422.0h.4M442.8 403.0h.4M400.9 538.7h.4M411.9 554.6h.4M494.1 463.5h.4M431.6 378.5h.4M470.9 378.7h.4M483.8 323.8h.4M482.3 552.9h.4M436.6 509.7h.4M419.0 341.6h.4M476.0 529.0h.4M440.0 325.2h.4M416.2 376.9h.4M456.5 417.8h.4M507.2 470.9h.4M409.0 356.1h.4M508.4 319.4h.4M453.9 522.0h.4M405.0 478.9h.4M418.7 333.6h.4M507.5 312.4h.4M507.5 529.6h.4M491.1 458.8h.4M432.3 351.6h.4M480.7 342.4h.4M427.5 544.5h.4M455.6 542.2h.4M478.5 400.9h.4M434.2 326.6h.4M448.7 551.7h.4M402.4 405.0h.4M530.2 322.8h.4M448.4 553.7h.4M490.6 524.4h.4M421.1 407.7h.4M495.3 325.5h.4M505.9 321.9h.4M464.8 415.0h.4M453.6 367.9h.4M463.3 463.2h.4M489.0 442.2h.4M442.4 537.4h.4M477.9 439.2h.4" stroke="rgb(210,30,60)" stroke-width="1.4" stroke-linecap="round" fill="none"/>
<path d="M528.1 380.7h.5M529.8 382.0h.5M527.6 382.7h.5M524.1 379.8h.5M522.6 385.1h.5M523.8 387.3h.5M516.1 387.7h.5M516.6 388.9h.5M517.5 390.7h.5M515.8 390.4h.5M511.5 392.2h.5M514.1 396.8h.5M511.9 394.2h.5M514.8 397.2h.5M510.6 401.6h.5M508.6 404.0h.5M505.3 401.1h.5M504.9 406.5h.5M499.9 404.7h.5M501.6 408.2h.5M499.5 407.9h.5M497.8 408.1h.5M497.8 408.3h.5M499.1 410.9h.5M500.0 413.7h.5M499.3 412.9h.5M494.5 411.7h.5M497.0 417.3h.5M494.6 417.7h.5M492.8 416.2h.5M491.7 417.9h.5M494.8 420.5h.5M494.5 421.7h.5M490.1 419.6h.5M488.2 421.2h.5M488.9 423.1h.5M488.2 425.8h.5M490.9 427.7h.5M484.8 424.6h.5M488.6 429.7h.5M485.7 426.9h.5M485.2 428.2h.5M486.7 429.9h.5M480.8 432.0h.5M478.7 430.1h.5M480.3 433.2h.5M478.1 435.1h.5M479.8 437.6h.5M480.7 439.9h.5M475.6 439.6h.5M473.9 443.3h.5M473.9 444.7h.5M472.6 451.6h.5M468.9 450.1h.5M468.5 452.5h.5M467.3 453.0h.5M466.0 454.1h.5M464.0 464.2h.5M464.0 465.6h.5M461.4 465.0h.5M459.4 463.5h.5M460.2 464.7h.5M459.8 466.6h.5M459.3 467.5h.5M457.3 469.1h.5M456.5 469.3h.5M454.9 468.9h.5M456.4 472.9h.5M455.3 475.4h.5M454.4 479.4h.5M453.8 479.3h.5M449.0 478.9h.5M449.3 483.1h.5M446.6 483.1h.5M447.6 485.1h.5M448.3 487.4h.5M445.6 487.9h.5M444.2 490.6h.5M443.2 489.4h.5M441.7 493.7h.5M439.1 492.9h.5M440.3 498.1h.5M436.5 497.8h.5M438.5 500.6h.5M436.9 500.9h.5M438.2 502.1h.5M430.7 504.0h.5M434.3 507.3h.5M433.0 506.8h.5M431.0 509.7h.5M430.8 510.7h.5M427.1 509.4h.5M425.9 514.0h.5M426.2 515.5h.5M415.5 524.6h.5M417.8 527.4h.5M417.4 530.2h.5M415.1 530.4h.5M414.5 529.7h.5M413.8 530.6h.5M412.6 531.8h.5M412.0 534.1h.5M412.6 536.0h.5M411.4 535.5h.5M408.5 542.7h.5M400.7 459.0h.5M402.4 459.4h.5M404.7 458.8h.5M402.6 459.9h.5M404.9 464.0h.5M404.9 466.7h.5M407.8 466.6h.5M406.8 467.2h.5M408.0 468.6h.5M406.7 469.0h.5M407.2 472.2h.5M406.7 472.5h.5M407.5 475.4h.5M412.2 474.9h.5M412.9 476.6h.5M413.2 478.4h.5M410.7 480.0h.5M415.7 482.2h.5M416.6 484.5h.5M417.4 485.5h.5M417.9 485.8h.5M415.0 489.4h.5M419.1 487.3h.5M420.3 489.5h.5M421.5 492.3h.5M420.3 492.5h.5M423.0 499.6h.5M423.9 499.4h.5M427.4 503.9h.5M429.1 503.0h.5M427.2 507.2h.5M430.5 506.8h.5M430.0 506.8h.5M430.9 506.0h.5M431.3 509.3h.5M430.8 510.9h.5M433.2 510.2h.5M434.6 513.8h.5M441.3 516.1h.5M441.9 518.4h.5M442.6 519.0h.5M444.0 519.4h.5M445.7 518.3h.5M445.2 522.5h.5M446.4 522.4h.5M451.0 521.8h.5M450.8 528.0h.5M454.6 527.3h.5M455.2 528.5h.5M452.0 530.6h.5M453.8 531.3h.5M452.5 532.6h.5M456.1 532.3h.5M455.9 531.9h.5M456.5 534.1h.5M456.4 536.9h.5M458.7 535.7h.5M460.9 535.1h.5M458.1 538.6h.5M458.7 539.0h.5M469.4 544.7h.5M471.4 546.7h.5M471.1 550.6h.5M469.5 552.5h.5M471.0 456.8h.5M469.3 457.6h.5M470.0 458.7h.5M470.9 461.3h.5M470.6 464.5h.5M471.0 467.2h.5M474.1 489.3h.5M473.8 490.9h.5M473.9 502.0h.5M476.2 502.3h.5M474.3 505.4h.5M475.4 510.8h.5M475.6 515.6h.5M477.0 526.5h.5M478.6 528.0h.5M477.1 533.9h.5M477.3 534.8h.5M480.2 536.2h.5M480.2 537.3h.5M481.2 538.8h.5M485.2 544.9h.5M485.2 440.2h.5M485.6 442.0h.5M482.7 442.7h.5M480.0 447.9h.5M480.5 448.5h.5M478.0 448.9h.5M481.3 450.5h.5M479.0 449.2h.5M479.5 453.3h.5M474.1 453.3h.5M475.9 454.8h.5M476.1 456.3h.5M473.0 456.1h.5M472.6 459.8h.5M470.3 459.4h.5M472.8 463.7h.5M470.3 465.6h.5M467.4 466.1h.5M468.4 468.4h.5M465.3 470.0h.5M462.9 476.0h.5M422.0 325.2h.5M423.2 325.6h.5M431.4 344.7h.5M456.3 332.0h.5M443.8 463.6h.5" stroke="rgb(235,235,245)" stroke-width="1.4" stroke-linecap="round" fill="none"/>
</g></g>
<circle cx="532.6" cy="369.5" r="1.0" fill="rgb(60,200,60)"/>
<circle cx="532.6" cy="418.6" r="1.8" fill="rgb(60,210,60)"/>
<clipPath id="clipc"><path d="M391.3 608.5H522.4V867.1H391.3Z"/></clipPath>
<g filter="url(#texB)"><g clip-path="url(#clipc)">
<path d="M391.3 608.5H522.4V867.1H391.3Z" fill="rgb(36,82,220)"/>
<polygon points="391.3,677.6 404.3,682.1 416.5,677.6 425.6,691.3 433.2,709.5 442.4,733.9 425.6,740.0 391.3,761.2" fill="rgb(40,150,225)"/>
<polygon points="391.3,722.0 420.0,708.0 433.2,709.5 442.4,733.9 434.8,749.1 391.3,761.2" fill="rgb(40,205,195)"/>
<polygon points="391.3,755.0 434.8,749.1 425.7,765.4 416.5,782.5 407.4,805.0 398.3,819.0 391.3,825.1" fill="rgb(40,205,125)"/>
<polygon points="391.3,796.0 410.4,794.7 403.0,810.0 398.3,819.0 391.3,825.1" fill="rgb(60,210,50)"/>
<polygon points="522.4,645.6 501.7,663.9 483.4,688.2 480.4,700.4 489.5,721.7 501.7,730.8 522.4,730.8" fill="rgb(40,150,225)"/>
<polygon points="514.0,618.0 522.4,618.0 522.4,630.0 516.0,628.0" fill="rgb(40,205,195)"/>
<polygon points="396.7,826.3 404.3,826.3 404.3,833.9 396.7,833.9" fill="rgb(40,150,225)"/>
<polygon points="450.0,718.0 458.0,730.0 450.0,745.0 442.0,731.0" fill="rgb(18,24,215)"/>
<polyline points="436.0,748.0 434.8,749.8 434.0,751.9 432.9,753.8 431.1,755.3 430.7,757.6 429.0,759.2 428.4,761.3 427.4,763.3 425.9,764.9 425.4,767.1 423.9,768.7 423.0,770.7 421.7,772.4 421.3,774.6 420.2,776.5 419.3,778.4 417.6,779.9 416.8,781.9 416.5,784.1 415.7,786.0 414.2,787.6 413.8,789.7 412.5,791.5 411.8,793.4 411.3,795.5 410.6,797.4 409.1,799.1 408.6,801.1 407.6,803.0 406.8,804.9 405.8,806.8 404.5,808.6 403.6,810.6 402.1,812.3 401.0,814.1 399.9,816.0 399.3,818.2 398.0,820.0" fill="none" stroke="#fff" stroke-width="1.5" stroke-linejoin="round" stroke-linecap="round"/>
<polyline points="414.8,677.1 416.1,678.7 417.6,680.1 418.3,682.0 419.6,683.6 420.9,685.1 421.6,687.1 423.1,688.4 424.3,690.1 425.4,691.8 425.5,694.1 426.2,696.2 427.1,698.2 428.8,699.8 429.2,702.0 430.3,703.9 430.9,706.0 431.4,708.1 432.3,710.1 432.9,712.2 434.2,713.9 434.6,716.1 435.2,718.2 436.6,719.9 436.8,722.1 437.5,724.2 438.8,725.9 439.8,727.9 440.3,730.0 441.0,732.0" fill="none" stroke="#fff" stroke-width="1.4" stroke-linejoin="round" stroke-linecap="round"/>
<path d="M520.8 629.5h.5M522.4 630.3h.5M522.8 632.1h.5M522.6 632.0h.5M520.7 631.6h.5M521.3 632.9h.5M521.9 634.6h.5M519.4 634.0h.5M519.2 637.4h.5M518.3 636.4h.5M518.0 636.8h.5M516.5 636.0h.5M517.3 639.3h.5M514.7 638.2h.5M514.9 638.2h.5M514.2 638.8h.5M514.2 639.4h.5M515.8 642.4h.5M515.4 641.7h.5M513.5 641.6h.5M512.2 643.7h.5M513.4 646.1h.5M511.2 644.5h.5M513.0 647.2h.5M510.8 646.3h.5M512.1 647.2h.5M511.5 648.4h.5M508.9 645.6h.5M509.2 647.6h.5M509.3 647.0h.5M508.7 650.0h.5M506.6 650.6h.5M506.8 650.6h.5M507.2 651.4h.5M506.8 651.4h.5M507.6 653.6h.5M505.4 652.4h.5M504.8 651.8h.5M506.8 654.7h.5M505.7 654.3h.5M504.6 653.1h.5M504.8 654.5h.5M503.8 654.7h.5M504.4 655.0h.5M501.0 655.2h.5M502.8 657.3h.5M503.0 657.5h.5M500.5 658.2h.5M502.6 660.4h.5M498.3 658.6h.5M500.2 661.8h.5M498.1 662.4h.5M498.1 662.4h.5M498.5 664.7h.5M495.7 663.0h.5M497.4 665.4h.5M495.6 665.6h.5M494.3 664.7h.5M494.8 667.7h.5M495.5 669.2h.5M493.7 669.1h.5M491.8 668.3h.5M493.8 670.1h.5M492.9 670.8h.5M492.3 671.0h.5M489.6 670.9h.5M492.6 673.7h.5M491.5 674.1h.5M491.5 674.6h.5M490.2 673.9h.5M490.1 675.3h.5M489.2 675.4h.5M486.2 674.9h.5M486.0 676.5h.5M487.0 677.7h.5M485.3 677.0h.5M485.8 678.6h.5M484.2 677.7h.5M484.7 678.9h.5M483.3 679.6h.5M483.5 680.4h.5M482.6 681.2h.5M484.5 683.9h.5M483.6 682.8h.5M484.6 684.4h.5M484.5 684.2h.5M481.8 685.1h.5M481.7 685.3h.5M481.0 687.7h.5M479.3 687.6h.5M482.4 689.2h.5M480.1 689.0h.5M479.3 689.8h.5M479.3 689.1h.5M477.6 689.8h.5M477.5 690.4h.5M478.8 692.8h.5M479.3 693.9h.5M477.2 694.9h.5M474.8 694.4h.5M478.0 695.7h.5M474.3 695.1h.5M476.7 698.1h.5M475.3 697.9h.5M471.2 698.1h.5M470.9 701.3h.5M471.5 701.7h.5M473.1 703.3h.5M468.7 702.4h.5M472.5 704.6h.5M471.2 707.4h.5M470.0 707.4h.5M469.6 708.2h.5M469.5 709.0h.5M469.8 708.6h.5M465.5 708.2h.5M464.8 709.7h.5M466.4 712.6h.5M465.2 713.0h.5M464.9 714.6h.5M463.1 716.2h.5M463.8 716.5h.5M460.9 715.3h.5M463.2 718.5h.5M463.5 719.0h.5M460.4 717.6h.5M461.4 720.4h.5M460.8 720.4h.5M461.3 722.1h.5M459.9 721.1h.5M458.3 724.0h.5M458.2 724.3h.5M457.9 724.4h.5M456.3 724.9h.5M454.4 724.3h.5M457.3 727.1h.5M455.4 726.0h.5M456.6 727.3h.5M454.0 724.9h.5M453.7 726.0h.5M454.1 726.5h.5M454.8 728.6h.5M454.9 728.7h.5M451.6 727.0h.5M452.2 729.0h.5M450.2 729.5h.5M449.9 729.0h.5M451.3 731.6h.5M448.4 731.3h.5M447.6 731.6h.5M448.0 733.0h.5M448.2 734.0h.5M447.7 734.4h.5M446.2 734.7h.5M449.3 735.2h.5M449.5 736.6h.5M446.7 735.2h.5M448.1 737.0h.5M443.5 743.0h.5M445.6 743.8h.5M444.9 746.0h.5M441.9 746.8h.5M443.0 747.1h.5M442.1 747.5h.5M443.8 749.1h.5M441.8 748.5h.5M444.2 752.1h.5M440.9 749.4h.5M443.7 753.0h.5M442.4 753.5h.5M441.0 754.9h.5M437.6 754.5h.5M437.4 756.4h.5M440.8 758.6h.5M437.5 757.4h.5M438.1 758.1h.5M437.9 759.5h.5M437.2 761.7h.5M435.0 760.4h.5M435.7 766.3h.5M432.5 765.0h.5M432.9 767.8h.5M431.5 768.7h.5M432.8 770.1h.5M431.4 769.4h.5M432.3 770.6h.5M432.0 771.4h.5M431.0 772.0h.5M427.9 771.3h.5M429.5 774.9h.5M427.9 775.0h.5M427.2 774.8h.5M430.1 777.3h.5M426.0 776.0h.5M425.8 777.2h.5M426.4 779.2h.5M426.7 779.3h.5M427.6 779.8h.5M426.6 781.0h.5M423.7 780.7h.5M423.0 781.8h.5M424.0 783.9h.5M424.1 784.5h.5M423.7 785.6h.5M422.6 785.9h.5M420.8 786.1h.5M421.7 785.9h.5M420.2 787.4h.5M420.8 790.3h.5M419.0 790.3h.5M419.8 791.7h.5M417.5 790.4h.5M419.6 792.2h.5M419.0 792.5h.5M416.2 793.2h.5M416.7 793.4h.5M416.0 794.2h.5M415.7 796.1h.5M415.5 796.8h.5M414.9 797.8h.5M415.0 797.5h.5M416.2 800.3h.5M414.1 800.4h.5M413.6 801.0h.5M413.1 805.0h.5M410.1 803.4h.5M413.1 805.8h.5M409.4 805.9h.5M410.0 807.9h.5M409.9 808.5h.5M410.7 810.7h.5M410.1 812.0h.5M410.6 812.5h.5M409.1 813.9h.5M408.3 815.4h.5M408.4 814.7h.5M405.1 814.0h.5M407.6 816.3h.5M406.4 817.1h.5M404.3 817.2h.5M407.4 819.3h.5M405.6 818.9h.5M403.6 817.7h.5M403.5 818.6h.5M403.3 819.1h.5M405.9 820.0h.5M406.4 821.3h.5M405.2 822.7h.5M405.3 822.4h.5M404.6 822.6h.5M402.4 822.5h.5M401.6 823.5h.5M404.6 825.1h.5M402.1 824.5h.5M402.0 824.9h.5M401.3 826.2h.5M401.5 827.0h.5M400.2 827.7h.5M402.3 829.4h.5M398.9 828.9h.5M400.6 831.0h.5M400.3 830.1h.5M398.5 830.8h.5M411.7 661.4h.5M411.7 664.1h.5M411.5 664.2h.5M413.5 665.8h.5M414.8 672.0h.5M416.3 672.2h.5M416.5 676.0h.5M418.2 676.5h.5M419.1 678.2h.5M419.2 679.1h.5M420.7 682.9h.5M422.1 683.9h.5M422.7 683.9h.5M421.7 684.8h.5M422.9 684.9h.5M423.6 688.1h.5M424.6 687.2h.5M425.6 688.6h.5M427.2 692.7h.5M427.0 693.2h.5M428.2 694.2h.5M429.5 694.4h.5M427.8 695.3h.5M430.3 697.0h.5M431.4 699.5h.5M430.7 702.3h.5M431.6 703.0h.5M432.3 703.3h.5M432.6 703.2h.5M433.2 704.1h.5M434.3 706.4h.5M433.5 706.9h.5M435.3 708.4h.5M434.5 709.6h.5M436.7 709.7h.5M437.1 711.3h.5M436.9 712.3h.5M438.4 714.1h.5M437.8 715.0h.5M437.9 716.9h.5M439.6 717.7h.5M440.1 720.2h.5M440.0 720.9h.5M441.1 723.2h.5M441.6 723.7h.5M442.3 723.5h.5M443.3 726.3h.5M444.6 728.6h.5M443.1 729.5h.5M443.3 736.0h.5M444.4 742.9h.5M444.0 744.1h.5M445.2 750.3h.5M445.6 752.5h.5M446.6 758.7h.5M447.1 760.6h.5M449.1 772.0h.5M448.5 776.1h.5M449.9 780.8h.5M450.3 781.4h.5M450.7 785.5h.5M450.1 786.6h.5M453.0 744.5h.5M453.1 749.0h.5M454.5 754.3h.5M456.3 758.6h.5M458.9 765.9h.5M457.8 769.7h.5M459.8 773.1h.5M461.4 778.5h.5M460.2 781.6h.5M461.5 783.5h.5M463.1 789.0h.5M463.3 790.1h.5M464.7 792.1h.5M465.1 793.2h.5M465.2 796.8h.5M468.9 804.4h.5M468.8 806.9h.5M472.0 812.1h.5M474.4 821.1h.5M500.9 772.1h.5M502.3 773.1h.5M504.6 779.0h.5M518.4 811.9h.5M519.4 821.6h.5M471.8 668.3h.5M472.8 680.3h.5M473.5 682.8h.5M472.7 683.3h.5M473.4 684.7h.5M473.4 691.1h.5M473.0 691.4h.5M400.5 675.9h.5M502.8 652.5h.5M504.6 658.2h.5M484.5 865.4h.4M419.3 696.7h.4M429.9 665.2h.4M427.6 781.2h.4M513.9 737.4h.4M451.3 820.9h.4M446.1 699.0h.4M467.9 863.2h.4M427.0 845.2h.4M397.8 710.1h.4M430.2 732.9h.4M428.4 696.1h.4M452.0 745.3h.4M438.0 634.5h.4M433.9 738.1h.4M428.2 800.8h.4M454.9 623.3h.4M479.7 672.5h.4M410.0 737.7h.4M403.2 794.6h.4M478.4 819.3h.4M434.0 660.9h.4M507.2 866.1h.4M447.7 626.6h.4M456.1 655.0h.4M456.6 612.9h.4M454.8 625.3h.4M417.0 644.8h.4M477.5 677.2h.4M397.4 653.2h.4M419.5 792.7h.4M415.5 660.1h.4" stroke="rgb(120,20,95)" stroke-width="1.4" stroke-linecap="round" fill="none"/>
<path d="M522.3 630.3h.5M521.5 629.7h.5M522.1 631.1h.5M522.0 632.3h.5M520.6 633.0h.5M519.2 632.7h.5M518.7 633.5h.5M519.3 633.8h.5M520.7 634.6h.5M520.4 636.0h.5M519.2 635.2h.5M518.9 634.7h.5M519.6 635.8h.5M518.8 636.4h.5M517.9 637.7h.5M516.3 635.4h.5M516.9 637.1h.5M518.4 638.3h.5M516.2 636.4h.5M515.4 636.5h.5M518.0 639.2h.5M515.5 637.8h.5M516.8 640.1h.5M517.2 641.1h.5M514.3 638.8h.5M513.0 639.0h.5M516.1 641.0h.5M516.9 641.9h.5M515.5 640.8h.5M513.4 641.0h.5M514.0 641.5h.5M514.0 642.1h.5M511.8 641.5h.5M514.5 643.4h.5M513.0 642.9h.5M511.3 642.4h.5M514.0 644.9h.5M512.5 645.6h.5M511.4 645.5h.5M511.2 645.3h.5M509.7 644.9h.5M510.8 646.2h.5M508.3 645.9h.5M511.4 648.2h.5M510.7 649.7h.5M509.1 648.9h.5M509.0 649.9h.5M510.1 650.7h.5M507.2 649.4h.5M506.7 650.1h.5M505.7 649.8h.5M508.0 652.3h.5M505.1 651.0h.5M505.2 651.3h.5M504.5 650.7h.5M505.7 652.6h.5M504.4 652.1h.5M505.2 653.8h.5M504.4 654.0h.5M503.5 654.7h.5M504.0 654.7h.5M503.1 655.2h.5M505.1 656.8h.5M503.6 656.1h.5M502.8 655.9h.5M504.6 658.1h.5M502.4 655.6h.5M500.2 656.5h.5M503.6 659.1h.5M502.7 658.8h.5M502.8 659.8h.5M500.2 657.8h.5M502.2 660.0h.5M501.9 660.9h.5M500.7 660.5h.5M499.4 660.1h.5M497.8 659.6h.5M499.9 662.2h.5M499.2 663.1h.5M499.3 662.5h.5M499.4 664.3h.5M500.0 663.9h.5M497.0 662.7h.5M497.3 664.0h.5M499.0 664.7h.5M496.7 663.9h.5M496.9 665.1h.5M495.3 664.4h.5M494.3 665.3h.5M494.3 664.7h.5M494.7 666.8h.5M495.4 666.6h.5M495.7 668.3h.5M493.1 665.8h.5M493.0 667.4h.5M492.9 667.4h.5M495.3 670.3h.5M495.4 670.2h.5M493.3 669.3h.5M493.2 669.4h.5M493.9 671.2h.5M490.8 669.9h.5M491.0 670.4h.5M491.7 671.1h.5M490.3 670.9h.5M493.1 672.7h.5M490.7 670.8h.5M492.5 673.7h.5M489.4 671.2h.5M491.4 674.0h.5M491.3 674.0h.5M491.3 675.1h.5M491.8 674.7h.5M487.8 673.5h.5M490.5 675.2h.5M489.1 674.4h.5M486.2 674.5h.5M486.6 675.7h.5M487.2 676.2h.5M487.9 676.9h.5M489.2 678.2h.5M487.0 677.3h.5M487.4 678.9h.5M488.6 679.6h.5M488.2 679.0h.5M485.0 678.2h.5M483.4 679.6h.5M486.2 681.1h.5M484.9 682.0h.5M483.3 679.7h.5M485.1 682.5h.5M485.3 683.9h.5M481.5 682.6h.5M484.2 684.1h.5M481.6 683.6h.5M481.0 683.4h.5M483.5 684.5h.5M482.7 685.5h.5M481.1 684.9h.5M483.3 686.9h.5M480.2 685.0h.5M481.6 686.5h.5M481.2 686.3h.5M482.7 687.1h.5M480.8 687.3h.5M481.3 687.8h.5M480.1 687.6h.5M478.7 688.0h.5M480.9 689.3h.5M478.0 687.6h.5M481.1 690.7h.5M477.8 689.9h.5M479.8 691.9h.5M477.5 690.8h.5M477.7 691.8h.5M477.7 691.4h.5M477.1 691.5h.5M476.9 692.2h.5M476.4 692.3h.5M476.2 692.3h.5M475.9 693.0h.5M476.9 693.7h.5M479.1 694.5h.5M474.5 692.8h.5M477.7 695.4h.5M475.4 693.6h.5M476.7 695.7h.5M474.4 694.7h.5M476.2 695.6h.5M476.0 696.3h.5M474.1 696.0h.5M477.1 697.3h.5M475.7 697.6h.5M474.5 697.5h.5M472.3 697.0h.5M472.6 697.4h.5M474.4 698.4h.5M474.3 698.5h.5M472.9 698.3h.5M473.8 698.8h.5M472.9 698.3h.5M472.6 699.3h.5M475.1 700.6h.5M474.0 701.0h.5M474.0 700.7h.5M474.3 701.3h.5M471.1 700.8h.5M473.8 702.6h.5M473.7 702.5h.5M470.5 701.3h.5M471.8 703.1h.5M472.9 703.3h.5M472.8 704.2h.5M469.4 702.5h.5M471.9 705.5h.5M472.1 705.0h.5M471.2 704.7h.5M469.8 703.8h.5M471.6 705.6h.5M468.3 703.6h.5M470.7 705.0h.5M468.2 704.5h.5M469.9 705.6h.5M468.8 706.6h.5M467.6 705.2h.5M468.4 707.6h.5M466.9 706.8h.5M468.7 708.4h.5M468.6 708.6h.5M468.6 709.4h.5M466.0 708.9h.5M465.3 709.3h.5M467.5 711.0h.5M467.5 712.0h.5M464.6 710.5h.5M466.9 711.6h.5M463.6 711.3h.5M463.4 711.9h.5M464.5 712.8h.5M465.7 714.0h.5M465.3 713.9h.5M464.9 715.4h.5M463.1 714.9h.5M461.7 714.1h.5M464.7 715.9h.5M462.0 715.1h.5M462.5 715.4h.5M461.4 715.9h.5M462.3 716.5h.5M462.5 717.3h.5M460.8 716.8h.5M461.6 717.3h.5M459.4 716.9h.5M461.7 718.9h.5M460.1 718.0h.5M459.1 718.8h.5M459.8 719.6h.5M461.1 720.3h.5M459.4 720.6h.5M458.1 720.6h.5M457.8 720.7h.5M459.6 722.3h.5M458.2 721.5h.5M457.4 721.4h.5M459.9 723.9h.5M459.4 723.5h.5M456.0 721.9h.5M457.4 724.6h.5M455.6 722.5h.5M456.4 723.9h.5M457.0 724.9h.5M456.6 725.0h.5M455.1 723.2h.5M455.6 725.7h.5M453.5 725.3h.5M453.2 726.7h.5M455.0 728.8h.5M453.8 729.5h.5M451.8 727.2h.5M451.1 727.9h.5M452.5 730.2h.5M451.2 728.9h.5M450.7 730.5h.5M450.0 729.2h.5M449.1 730.9h.5M450.9 732.3h.5M451.1 732.4h.5M451.0 731.9h.5M448.5 732.0h.5M448.7 731.9h.5M450.6 733.2h.5M447.2 732.4h.5M448.8 734.2h.5M449.4 734.6h.5M449.1 735.8h.5M446.9 734.5h.5M447.4 735.4h.5M447.0 736.6h.5M447.5 737.0h.5M446.4 737.0h.5M446.8 738.0h.5M449.2 739.7h.5M448.5 738.8h.5M446.1 739.5h.5M447.1 739.7h.5M447.3 740.3h.5M445.5 740.1h.5M447.5 740.7h.5M444.9 740.7h.5M444.9 741.1h.5M446.4 741.3h.5M445.3 741.1h.5M446.3 742.2h.5M444.3 742.0h.5M445.8 741.8h.5M445.9 742.2h.5M446.8 743.3h.5M445.8 743.1h.5M445.0 742.8h.5M445.0 742.9h.5M444.7 743.9h.5M444.8 744.8h.5M444.9 745.1h.5M446.4 746.5h.5M443.0 746.4h.5M443.4 745.8h.5M442.0 748.0h.5M444.1 748.3h.5M443.3 749.0h.5M442.1 749.0h.5M443.9 750.7h.5M442.2 749.8h.5M441.3 750.3h.5M441.3 751.4h.5M442.1 751.2h.5M443.0 752.5h.5M442.2 752.3h.5M441.7 752.9h.5M441.5 752.2h.5M442.0 752.8h.5M440.5 753.1h.5M440.0 753.8h.5M439.3 753.3h.5M442.7 755.5h.5M439.9 755.1h.5M441.7 756.1h.5M441.8 755.6h.5M439.0 755.0h.5M437.9 754.3h.5M438.2 756.2h.5M440.1 756.7h.5M440.5 757.1h.5M438.0 758.1h.5M439.5 758.4h.5M437.1 758.6h.5M439.2 759.9h.5M439.7 759.9h.5M437.7 759.6h.5M436.9 759.2h.5M436.6 759.1h.5M436.2 759.3h.5M437.1 760.8h.5M435.8 760.3h.5M437.9 761.0h.5M434.1 760.2h.5M437.7 762.1h.5M434.9 761.5h.5M435.0 761.7h.5M436.4 762.5h.5M435.6 762.7h.5M436.3 763.2h.5M433.3 762.5h.5M434.1 763.7h.5M433.5 763.7h.5M435.1 766.6h.5M432.5 765.1h.5M432.8 766.1h.5M432.4 766.7h.5M434.3 768.0h.5M434.5 767.6h.5M433.2 768.3h.5M433.0 768.2h.5M431.5 768.2h.5M434.0 769.5h.5M432.6 769.3h.5M430.9 769.1h.5M429.4 769.4h.5M429.0 769.0h.5M429.7 770.5h.5M431.0 771.1h.5M431.9 772.8h.5M428.9 771.4h.5M429.9 773.2h.5M430.6 773.4h.5M430.5 774.4h.5M429.1 774.3h.5M430.5 775.5h.5M425.5 774.5h.5M427.0 775.3h.5M427.8 776.0h.5M427.0 776.3h.5M427.9 777.0h.5M425.5 775.4h.5M427.7 777.9h.5M428.8 778.4h.5M426.1 777.7h.5M427.6 780.9h.5M424.5 779.6h.5M426.4 781.3h.5M426.4 782.0h.5M425.1 781.0h.5M424.9 781.6h.5M423.1 780.3h.5M425.6 782.2h.5M425.4 783.4h.5M424.8 782.5h.5M424.7 783.9h.5M421.4 782.3h.5M425.2 784.4h.5M424.7 785.1h.5M423.4 783.8h.5M422.8 785.4h.5M422.8 784.6h.5M422.5 784.7h.5M421.6 785.5h.5M422.7 786.4h.5M422.5 786.5h.5M419.7 786.4h.5M423.1 788.0h.5M421.8 788.0h.5M422.7 788.1h.5M421.3 788.8h.5M423.0 789.5h.5M420.0 788.0h.5M422.1 790.1h.5M420.2 789.3h.5M418.9 788.2h.5M420.8 790.2h.5M420.7 791.4h.5M417.8 789.5h.5M419.1 790.0h.5M418.1 791.1h.5M417.8 790.6h.5M417.1 791.2h.5M417.4 792.1h.5M417.0 792.3h.5M419.6 793.6h.5M419.3 794.7h.5M418.5 795.0h.5M416.9 795.6h.5M417.4 796.6h.5M417.7 796.7h.5M414.8 795.3h.5M416.0 797.3h.5M416.8 797.9h.5M414.8 796.2h.5M415.7 798.1h.5M416.3 798.0h.5M414.3 798.6h.5M413.2 797.5h.5M412.9 797.7h.5M414.6 798.8h.5M412.9 799.0h.5M415.3 800.1h.5M412.3 799.2h.5M414.1 800.4h.5M415.6 800.6h.5M413.8 801.2h.5M411.4 801.2h.5M414.6 803.9h.5M411.8 802.1h.5M412.3 802.3h.5M413.6 803.9h.5M410.1 802.6h.5M413.9 804.0h.5M411.8 804.4h.5M411.9 805.3h.5M413.1 806.5h.5M410.3 804.6h.5M409.0 804.7h.5M411.4 806.3h.5M411.2 806.8h.5M412.0 808.9h.5M409.5 807.2h.5M411.4 809.8h.5M410.9 808.7h.5M408.5 807.6h.5M410.8 810.1h.5M410.4 809.5h.5M408.2 808.7h.5M411.4 809.9h.5M411.0 811.2h.5M409.7 811.3h.5M410.9 812.3h.5M407.9 811.4h.5M406.6 811.0h.5M409.2 812.3h.5M409.0 813.3h.5M406.2 812.6h.5M405.5 812.6h.5M406.6 814.0h.5M406.5 815.0h.5M405.8 815.1h.5M407.8 816.7h.5M407.8 816.7h.5M405.3 817.3h.5M404.9 818.2h.5M402.3 819.4h.5M402.8 820.2h.5M405.1 821.4h.5M405.3 821.9h.5M402.6 821.6h.5M403.2 822.7h.5M403.5 822.7h.5M404.2 823.4h.5M401.9 823.0h.5M402.4 824.8h.5M402.5 824.7h.5M402.9 825.9h.5M400.7 825.0h.5M402.6 825.3h.5M401.0 825.5h.5M400.2 825.7h.5M402.1 826.8h.5M400.0 826.3h.5M401.9 826.9h.5M399.1 826.6h.5M400.3 827.2h.5M400.1 826.9h.5M399.4 828.0h.5M400.5 828.7h.5M399.1 829.2h.5M400.1 830.1h.5M398.0 829.7h.5M398.4 830.9h.5M398.0 830.3h.5M411.1 659.9h.5M410.6 659.7h.5M409.9 661.1h.5M410.4 660.6h.5M410.7 661.4h.5M411.3 662.6h.5M412.6 665.1h.5M412.7 664.8h.5M413.2 665.7h.5M412.4 667.3h.5M413.7 667.0h.5M414.3 667.4h.5M413.7 668.1h.5M413.6 669.4h.5M413.9 670.1h.5M415.4 670.5h.5M415.4 670.8h.5M414.3 672.0h.5M415.5 672.3h.5M416.4 673.5h.5M416.1 673.4h.5M416.9 673.8h.5M416.1 675.0h.5M416.5 676.0h.5M418.4 677.1h.5M419.1 677.1h.5M418.9 679.4h.5M419.3 679.7h.5M419.3 679.9h.5M419.4 681.1h.5M420.8 682.5h.5M421.8 682.6h.5M423.5 684.8h.5M422.3 686.6h.5M423.8 686.4h.5M424.2 686.4h.5M423.8 686.6h.5M423.7 688.9h.5M425.1 688.0h.5M426.0 690.3h.5M425.6 691.2h.5M426.4 690.8h.5M427.0 691.2h.5M426.6 691.5h.5M427.9 692.6h.5M428.6 693.5h.5M427.8 696.2h.5M428.4 696.7h.5M429.3 697.3h.5M429.6 698.2h.5M429.7 698.5h.5M430.9 702.0h.5M431.2 702.5h.5M432.9 703.9h.5M432.3 705.1h.5M433.5 705.7h.5M434.1 705.9h.5M434.1 707.5h.5M435.2 707.3h.5M434.5 709.1h.5M436.0 709.4h.5M435.7 711.4h.5M435.4 710.8h.5M436.5 712.7h.5M436.3 714.0h.5M436.5 713.7h.5M438.2 715.6h.5M440.1 718.5h.5M439.6 718.7h.5M438.6 719.6h.5M439.6 720.4h.5M441.5 720.4h.5M441.3 721.7h.5M440.3 723.1h.5M443.0 724.3h.5M441.5 724.7h.5M442.1 725.2h.5M442.8 726.4h.5M443.4 726.7h.5M442.6 727.8h.5M442.7 727.9h.5M444.8 728.7h.5M444.5 729.9h.5M444.9 729.8h.5M444.6 731.1h.5M443.4 734.3h.5M443.3 736.7h.5M444.1 738.7h.5M443.8 740.8h.5M444.2 746.6h.5M445.7 753.4h.5M445.8 754.0h.5M446.6 755.2h.5M446.4 756.8h.5M447.2 759.5h.5M447.9 763.8h.5M447.0 765.1h.5M447.3 765.7h.5M446.7 766.7h.5M447.0 768.1h.5M447.7 770.9h.5M448.2 771.4h.5M449.3 776.9h.5M449.3 778.0h.5M449.3 780.1h.5M450.2 788.9h.5M453.3 747.6h.5M453.4 748.0h.5M454.3 750.2h.5M453.6 750.9h.5M453.7 752.6h.5M454.9 753.9h.5M456.0 755.0h.5M455.4 756.5h.5M456.2 756.8h.5M455.4 758.0h.5M456.8 763.3h.5M458.4 766.7h.5M458.0 767.5h.5M459.3 770.1h.5M459.6 771.3h.5M460.8 774.9h.5M460.5 776.5h.5M459.8 777.7h.5M461.1 779.5h.5M460.8 780.8h.5M461.6 782.1h.5M462.3 784.4h.5M462.3 785.6h.5M462.8 787.5h.5M463.3 789.7h.5M465.6 793.6h.5M466.3 798.6h.5M466.3 799.6h.5M467.1 801.9h.5M468.5 803.7h.5M469.5 808.2h.5M471.3 815.6h.5M472.4 817.8h.5M473.3 819.9h.5M474.7 822.3h.5M500.8 772.7h.5M502.7 775.6h.5M502.9 776.2h.5M503.8 777.7h.5M518.3 813.7h.5M519.6 819.3h.5M521.2 823.2h.5M520.9 824.8h.5M470.5 661.4h.5M470.8 663.8h.5M471.5 665.6h.5M471.5 666.1h.5M472.3 677.6h.5M473.6 678.4h.5M474.1 685.6h.5M473.7 686.0h.5M472.8 693.7h.5M398.1 671.7h.5M397.3 673.0h.5M398.0 674.0h.5M398.8 675.9h.5M400.1 677.9h.5M502.3 646.9h.5M501.7 648.4h.5M503.0 651.5h.5M503.1 653.4h.5M503.7 655.8h.5M431.8 636.4h.4M516.2 856.0h.4M433.1 701.6h.4M474.0 753.7h.4M397.5 634.3h.4M501.1 666.1h.4M409.1 761.1h.4M510.9 658.8h.4M479.6 611.8h.4M406.9 860.6h.4M405.8 839.2h.4M410.2 614.6h.4M408.8 813.2h.4M451.4 815.8h.4M405.6 642.4h.4M469.6 775.0h.4M439.5 636.8h.4M514.3 733.9h.4M405.4 641.9h.4M511.4 773.7h.4M442.0 729.8h.4M500.2 847.5h.4M424.8 748.4h.4M465.2 716.3h.4M516.6 618.4h.4M519.6 743.3h.4M507.8 823.2h.4M474.5 863.1h.4M442.0 752.4h.4M485.2 659.8h.4M483.9 806.9h.4M417.3 749.4h.4M395.2 838.9h.4M441.6 855.8h.4M445.8 688.3h.4M427.6 626.7h.4M437.1 786.6h.4M455.7 858.9h.4M475.9 623.5h.4M507.7 615.8h.4M492.7 862.8h.4M516.9 641.5h.4M439.3 718.9h.4M408.5 692.9h.4M444.9 733.8h.4M417.4 859.9h.4M500.1 677.4h.4M482.5 856.7h.4" stroke="rgb(210,30,60)" stroke-width="1.4" stroke-linecap="round" fill="none"/>
<path d="M521.8 631.5h.5M519.8 631.0h.5M519.4 631.4h.5M522.4 633.2h.5M519.9 636.5h.5M517.3 639.0h.5M517.1 639.6h.5M514.3 642.0h.5M514.1 643.3h.5M509.5 645.6h.5M509.0 651.0h.5M506.7 651.2h.5M505.2 654.5h.5M502.0 655.4h.5M501.2 656.3h.5M499.4 657.1h.5M499.4 661.1h.5M498.1 663.2h.5M497.6 665.1h.5M498.0 664.9h.5M493.1 665.5h.5M494.6 667.6h.5M494.8 668.5h.5M492.8 672.8h.5M488.6 675.9h.5M484.6 680.5h.5M485.9 681.9h.5M482.4 680.4h.5M483.6 682.4h.5M481.9 689.0h.5M477.2 689.5h.5M477.3 693.6h.5M474.3 695.8h.5M475.0 700.8h.5M467.2 706.5h.5M468.1 709.4h.5M467.4 710.4h.5M466.2 708.6h.5M465.6 709.6h.5M462.9 711.6h.5M465.7 715.3h.5M462.1 714.1h.5M459.2 720.0h.5M459.4 724.6h.5M454.3 725.0h.5M455.3 728.4h.5M451.6 727.5h.5M452.3 730.5h.5M451.3 729.8h.5M451.1 734.1h.5M447.4 735.7h.5M445.7 737.0h.5M448.4 738.0h.5M446.5 739.5h.5M445.4 739.7h.5M445.7 744.5h.5M446.4 746.0h.5M442.7 747.2h.5M445.2 751.3h.5M442.4 749.3h.5M441.7 753.5h.5M439.1 756.0h.5M434.4 762.6h.5M436.0 764.7h.5M436.2 764.8h.5M429.7 768.3h.5M429.8 769.4h.5M429.4 771.9h.5M429.6 775.2h.5M426.4 778.1h.5M426.0 778.2h.5M425.4 781.0h.5M422.0 783.3h.5M420.5 789.0h.5M419.4 789.5h.5M418.0 793.1h.5M415.9 794.1h.5M417.8 796.2h.5M415.9 800.5h.5M411.4 800.8h.5M408.5 810.3h.5M407.1 812.6h.5M407.3 815.1h.5M408.5 817.2h.5M402.9 818.3h.5M403.7 824.6h.5M400.9 828.7h.5M399.6 829.1h.5M412.2 663.3h.5M413.8 668.1h.5M420.8 681.6h.5M422.2 683.8h.5M425.2 690.2h.5M426.9 692.1h.5M429.6 696.1h.5M433.2 705.5h.5M436.1 709.4h.5M437.6 714.1h.5M439.6 717.4h.5M438.5 720.0h.5M444.2 748.3h.5M446.6 757.8h.5M446.4 762.4h.5M446.6 763.4h.5M452.1 746.7h.5M456.7 762.3h.5M464.2 791.1h.5M469.3 804.8h.5M474.6 824.4h.5M472.1 668.5h.5M394.8 668.1h.5M502.9 649.9h.5" stroke="rgb(235,235,245)" stroke-width="1.4" stroke-linecap="round" fill="none"/>
</g></g>
<circle cx="384.5" cy="810.3" r="1.3" fill="rgb(230,190,40)"/>
<circle cx="386.5" cy="809.3" r="1.0" fill="rgb(240,220,80)"/>
<circle cx="385.5" cy="829" r="2.0" fill="rgb(225,70,30)"/>
<text x="559.5" y="14.4" font-family="'Liberation Serif', serif" font-size="17" text-anchor="start" font-weight="bold" font-style="italic" fill="#111" textLength="88.9" lengthAdjust="spacingAndGlyphs" >PFC2D 5.00</text>
<text x="546.4" y="25.2" font-family="'Liberation Sans', sans-serif" font-size="7.4" text-anchor="start" font-weight="normal" font-style="normal" fill="#333" textLength="113.8" lengthAdjust="spacingAndGlyphs" >&#169;2016 Itasca Consulting Group, Inc.</text>
<line x1="546" y1="31.1" x2="661.7" y2="31.1" stroke="#555" stroke-width="1.4"/>
<text x="546.8" y="43.4" font-family="'Liberation Serif', serif" font-size="9.8" text-anchor="start" font-weight="bold" font-style="normal" fill="#111" textLength="100" lengthAdjust="spacingAndGlyphs" >Ball displacement_mag</text>
<text x="553.1" y="52.9" font-family="'Liberation Serif', serif" font-size="9.8" text-anchor="start" font-weight="bold" font-style="normal" fill="#111" textLength="51.5" lengthAdjust="spacingAndGlyphs" >Balls (7918)</text>
<rect x="552.7" y="56.10" width="6.8" height="13.34" fill="rgb(255, 0, 0)"/>
<rect x="552.7" y="69.24" width="6.8" height="9.44" fill="rgb(255, 60, 0)"/>
<rect x="552.7" y="78.47" width="6.8" height="9.44" fill="rgb(255, 120, 0)"/>
<rect x="552.7" y="87.71" width="6.8" height="9.44" fill="rgb(255, 180, 0)"/>
<rect x="552.7" y="96.94" width="6.8" height="9.44" fill="rgb(255, 255, 0)"/>
<rect x="552.7" y="106.18" width="6.8" height="9.44" fill="rgb(190, 255, 0)"/>
<rect x="552.7" y="115.41" width="6.8" height="9.44" fill="rgb(100, 235, 0)"/>
<rect x="552.7" y="124.65" width="6.8" height="9.44" fill="rgb(40, 240, 0)"/>
<rect x="552.7" y="133.88" width="6.8" height="9.44" fill="rgb(0, 245, 0)"/>
<rect x="552.7" y="143.12" width="6.8" height="9.44" fill="rgb(0, 235, 60)"/>
<rect x="552.7" y="152.35" width="6.8" height="9.44" fill="rgb(0, 230, 120)"/>
<rect x="552.7" y="161.59" width="6.8" height="9.44" fill="rgb(0, 240, 190)"/>
<rect x="552.7" y="170.82" width="6.8" height="9.44" fill="rgb(0, 255, 255)"/>
<rect x="552.7" y="180.06" width="6.8" height="9.44" fill="rgb(0, 190, 255)"/>
<rect x="552.7" y="189.29" width="6.8" height="9.44" fill="rgb(0, 130, 255)"/>
<rect x="552.7" y="198.53" width="6.8" height="9.44" fill="rgb(0, 60, 255)"/>
<rect x="552.7" y="207.76" width="6.8" height="14.74" fill="rgb(0, 0, 255)"/>
<text x="565.4" y="64.3" font-family="'Liberation Sans', sans-serif" font-size="8.6" text-anchor="start" font-weight="normal" font-style="normal" fill="#222" textLength="43.4" lengthAdjust="spacingAndGlyphs" >4.0133E-03</text>
<text x="565.4" y="73.5" font-family="'Liberation Sans', sans-serif" font-size="8.6" text-anchor="start" font-weight="normal" font-style="normal" fill="#222" textLength="43.4" lengthAdjust="spacingAndGlyphs" >4.0000E-03</text>
<text x="565.4" y="82.8" font-family="'Liberation Sans', sans-serif" font-size="8.6" text-anchor="start" font-weight="normal" font-style="normal" fill="#222" textLength="43.4" lengthAdjust="spacingAndGlyphs" >3.7500E-03</text>
<text x="565.4" y="92.0" font-family="'Liberation Sans', sans-serif" font-size="8.6" text-anchor="start" font-weight="normal" font-style="normal" fill="#222" textLength="43.4" lengthAdjust="spacingAndGlyphs" >3.5000E-03</text>
<text x="565.4" y="101.2" font-family="'Liberation Sans', sans-serif" font-size="8.6" text-anchor="start" font-weight="normal" font-style="normal" fill="#222" textLength="43.4" lengthAdjust="spacingAndGlyphs" >3.2500E-03</text>
<text x="565.4" y="110.5" font-family="'Liberation Sans', sans-serif" font-size="8.6" text-anchor="start" font-weight="normal" font-style="normal" fill="#222" textLength="43.4" lengthAdjust="spacingAndGlyphs" >3.0000E-03</text>
<text x="565.4" y="119.7" font-family="'Liberation Sans', sans-serif" font-size="8.6" text-anchor="start" font-weight="normal" font-style="normal" fill="#222" textLength="43.4" lengthAdjust="spacingAndGlyphs" >2.7500E-03</text>
<text x="565.4" y="128.9" font-family="'Liberation Sans', sans-serif" font-size="8.6" text-anchor="start" font-weight="normal" font-style="normal" fill="#222" textLength="43.4" lengthAdjust="spacingAndGlyphs" >2.5000E-03</text>
<text x="565.4" y="138.2" font-family="'Liberation Sans', sans-serif" font-size="8.6" text-anchor="start" font-weight="normal" font-style="normal" fill="#222" textLength="43.4" lengthAdjust="spacingAndGlyphs" >2.2500E-03</text>
<text x="565.4" y="147.4" font-family="'Liberation Sans', sans-serif" font-size="8.6" text-anchor="start" font-weight="normal" font-style="normal" fill="#222" textLength="43.4" lengthAdjust="spacingAndGlyphs" >2.0000E-03</text>
<text x="565.4" y="156.6" font-family="'Liberation Sans', sans-serif" font-size="8.6" text-anchor="start" font-weight="normal" font-style="normal" fill="#222" textLength="43.4" lengthAdjust="spacingAndGlyphs" >1.7500E-03</text>
<text x="565.4" y="165.9" font-family="'Liberation Sans', sans-serif" font-size="8.6" text-anchor="start" font-weight="normal" font-style="normal" fill="#222" textLength="43.4" lengthAdjust="spacingAndGlyphs" >1.5000E-03</text>
<text x="565.4" y="175.1" font-family="'Liberation Sans', sans-serif" font-size="8.6" text-anchor="start" font-weight="normal" font-style="normal" fill="#222" textLength="43.4" lengthAdjust="spacingAndGlyphs" >1.2500E-03</text>
<text x="565.4" y="184.4" font-family="'Liberation Sans', sans-serif" font-size="8.6" text-anchor="start" font-weight="normal" font-style="normal" fill="#222" textLength="43.4" lengthAdjust="spacingAndGlyphs" >1.0000E-03</text>
<text x="565.4" y="193.6" font-family="'Liberation Sans', sans-serif" font-size="8.6" text-anchor="start" font-weight="normal" font-style="normal" fill="#222" textLength="43.4" lengthAdjust="spacingAndGlyphs" >7.5000E-04</text>
<text x="565.4" y="202.8" font-family="'Liberation Sans', sans-serif" font-size="8.6" text-anchor="start" font-weight="normal" font-style="normal" fill="#222" textLength="43.4" lengthAdjust="spacingAndGlyphs" >5.0000E-04</text>
<text x="565.4" y="212.1" font-family="'Liberation Sans', sans-serif" font-size="8.6" text-anchor="start" font-weight="normal" font-style="normal" fill="#222" textLength="43.4" lengthAdjust="spacingAndGlyphs" >2.5000E-04</text>
<text x="565.4" y="221.3" font-family="'Liberation Sans', sans-serif" font-size="8.6" text-anchor="start" font-weight="normal" font-style="normal" fill="#222" textLength="43.4" lengthAdjust="spacingAndGlyphs" >8.8469E-05</text>
<text x="547.0" y="231.6" font-family="'Liberation Serif', serif" font-size="9.8" text-anchor="start" font-weight="bold" font-style="normal" fill="#111" textLength="47" lengthAdjust="spacingAndGlyphs" >DFN name</text>
<text x="553.0" y="242.8" font-family="'Liberation Serif', serif" font-size="9.8" text-anchor="start" font-weight="bold" font-style="normal" fill="#111" textLength="72" lengthAdjust="spacingAndGlyphs" >Fractures (1637)</text>
<rect x="559" y="243.8" width="6.8" height="9.6" fill="#f00"/>
<text x="571.8" y="252.0" font-family="'Liberation Sans', sans-serif" font-size="8.6" text-anchor="start" font-weight="normal" font-style="normal" fill="#222" >crack</text>
<text x="553.0" y="321.9" font-family="'Liberation Serif', serif" font-size="18" text-anchor="start" font-weight="bold" font-style="italic" fill="#111" textLength="94.1" lengthAdjust="spacingAndGlyphs" >PFC2D 5.00</text>
<text x="539.0" y="332.6" font-family="'Liberation Sans', sans-serif" font-size="7.6" text-anchor="start" font-weight="normal" font-style="normal" fill="#333" textLength="120.8" lengthAdjust="spacingAndGlyphs" >&#169;2016 Itasca Consulting Group, Inc.</text>
<line x1="538.3" y1="339" x2="660.9" y2="339" stroke="#555" stroke-width="1.4"/>
<text x="539.8" y="352.6" font-family="'Liberation Serif', serif" font-size="10.2" text-anchor="start" font-weight="bold" font-style="normal" fill="#111" textLength="105.8" lengthAdjust="spacingAndGlyphs" >Ball displacement_mag</text>
<text x="546.4" y="363.5" font-family="'Liberation Serif', serif" font-size="10.2" text-anchor="start" font-weight="bold" font-style="normal" fill="#111" textLength="53.9" lengthAdjust="spacingAndGlyphs" >Balls (7742)</text>
<rect x="545.5" y="365.10" width="7.5" height="15.10" fill="rgb(255, 0, 0)"/>
<rect x="545.5" y="380.00" width="7.5" height="10.00" fill="rgb(255, 70, 0)"/>
<rect x="545.5" y="389.80" width="7.5" height="10.00" fill="rgb(255, 140, 0)"/>
<rect x="545.5" y="399.60" width="7.5" height="10.00" fill="rgb(255, 210, 0)"/>
<rect x="545.5" y="409.40" width="7.5" height="10.00" fill="rgb(220, 255, 0)"/>
<rect x="545.5" y="419.20" width="7.5" height="10.00" fill="rgb(130, 255, 0)"/>
<rect x="545.5" y="429.00" width="7.5" height="10.00" fill="rgb(60, 240, 0)"/>
<rect x="545.5" y="438.80" width="7.5" height="10.00" fill="rgb(0, 240, 35)"/>
<rect x="545.5" y="448.60" width="7.5" height="10.00" fill="rgb(0, 230, 100)"/>
<rect x="545.5" y="458.40" width="7.5" height="10.00" fill="rgb(0, 230, 160)"/>
<rect x="545.5" y="468.20" width="7.5" height="10.00" fill="rgb(0, 245, 225)"/>
<rect x="545.5" y="478.00" width="7.5" height="10.00" fill="rgb(0, 220, 250)"/>
<rect x="545.5" y="487.80" width="7.5" height="10.00" fill="rgb(0, 150, 240)"/>
<rect x="545.5" y="497.60" width="7.5" height="10.00" fill="rgb(0, 70, 240)"/>
<rect x="545.5" y="507.40" width="7.5" height="15.00" fill="rgb(0, 0, 240)"/>
<text x="559.5" y="374.6" font-family="'Liberation Sans', sans-serif" font-size="8.9" text-anchor="start" font-weight="normal" font-style="normal" fill="#222" textLength="45.5" lengthAdjust="spacingAndGlyphs" >7.4891E-03</text>
<text x="559.5" y="384.4" font-family="'Liberation Sans', sans-serif" font-size="8.9" text-anchor="start" font-weight="normal" font-style="normal" fill="#222" textLength="45.5" lengthAdjust="spacingAndGlyphs" >7.0000E-03</text>
<text x="559.5" y="394.2" font-family="'Liberation Sans', sans-serif" font-size="8.9" text-anchor="start" font-weight="normal" font-style="normal" fill="#222" textLength="45.5" lengthAdjust="spacingAndGlyphs" >6.5000E-03</text>
<text x="559.5" y="404.0" font-family="'Liberation Sans', sans-serif" font-size="8.9" text-anchor="start" font-weight="normal" font-style="normal" fill="#222" textLength="45.5" lengthAdjust="spacingAndGlyphs" >6.0000E-03</text>
<text x="559.5" y="413.8" font-family="'Liberation Sans', sans-serif" font-size="8.9" text-anchor="start" font-weight="normal" font-style="normal" fill="#222" textLength="45.5" lengthAdjust="spacingAndGlyphs" >5.5000E-03</text>
<text x="559.5" y="423.6" font-family="'Liberation Sans', sans-serif" font-size="8.9" text-anchor="start" font-weight="normal" font-style="normal" fill="#222" textLength="45.5" lengthAdjust="spacingAndGlyphs" >5.0000E-03</text>
<text x="559.5" y="433.4" font-family="'Liberation Sans', sans-serif" font-size="8.9" text-anchor="start" font-weight="normal" font-style="normal" fill="#222" textLength="45.5" lengthAdjust="spacingAndGlyphs" >4.5000E-03</text>
<text x="559.5" y="443.2" font-family="'Liberation Sans', sans-serif" font-size="8.9" text-anchor="start" font-weight="normal" font-style="normal" fill="#222" textLength="45.5" lengthAdjust="spacingAndGlyphs" >4.0000E-03</text>
<text x="559.5" y="453.0" font-family="'Liberation Sans', sans-serif" font-size="8.9" text-anchor="start" font-weight="normal" font-style="normal" fill="#222" textLength="45.5" lengthAdjust="spacingAndGlyphs" >3.5000E-03</text>
<text x="559.5" y="462.8" font-family="'Liberation Sans', sans-serif" font-size="8.9" text-anchor="start" font-weight="normal" font-style="normal" fill="#222" textLength="45.5" lengthAdjust="spacingAndGlyphs" >3.0000E-03</text>
<text x="559.5" y="472.6" font-family="'Liberation Sans', sans-serif" font-size="8.9" text-anchor="start" font-weight="normal" font-style="normal" fill="#222" textLength="45.5" lengthAdjust="spacingAndGlyphs" >2.5000E-03</text>
<text x="559.5" y="482.4" font-family="'Liberation Sans', sans-serif" font-size="8.9" text-anchor="start" font-weight="normal" font-style="normal" fill="#222" textLength="45.5" lengthAdjust="spacingAndGlyphs" >2.0000E-03</text>
<text x="559.5" y="492.2" font-family="'Liberation Sans', sans-serif" font-size="8.9" text-anchor="start" font-weight="normal" font-style="normal" fill="#222" textLength="45.5" lengthAdjust="spacingAndGlyphs" >1.5000E-03</text>
<text x="559.5" y="502.0" font-family="'Liberation Sans', sans-serif" font-size="8.9" text-anchor="start" font-weight="normal" font-style="normal" fill="#222" textLength="45.5" lengthAdjust="spacingAndGlyphs" >1.0000E-03</text>
<text x="559.5" y="511.8" font-family="'Liberation Sans', sans-serif" font-size="8.9" text-anchor="start" font-weight="normal" font-style="normal" fill="#222" textLength="45.5" lengthAdjust="spacingAndGlyphs" >5.0000E-04</text>
<text x="559.5" y="521.6" font-family="'Liberation Sans', sans-serif" font-size="8.9" text-anchor="start" font-weight="normal" font-style="normal" fill="#222" textLength="45.5" lengthAdjust="spacingAndGlyphs" >5.1807E-05</text>
<text x="539.8" y="532.5" font-family="'Liberation Serif', serif" font-size="10.2" text-anchor="start" font-weight="bold" font-style="normal" fill="#111" textLength="49.9" lengthAdjust="spacingAndGlyphs" >DFN name</text>
<text x="546.4" y="543.9" font-family="'Liberation Serif', serif" font-size="10.2" text-anchor="start" font-weight="bold" font-style="normal" fill="#111" textLength="76.2" lengthAdjust="spacingAndGlyphs" >Fractures (1564)</text>
<rect x="552" y="545.6" width="7.5" height="9.6" fill="#f00"/>
<text x="566.1" y="554.3" font-family="'Liberation Sans', sans-serif" font-size="8.9" text-anchor="start" font-weight="normal" font-style="normal" fill="#222" >crack</text>
<text x="552.1" y="623.0" font-family="'Liberation Serif', serif" font-size="21" text-anchor="start" font-weight="bold" font-style="italic" fill="#111" textLength="114.3" lengthAdjust="spacingAndGlyphs" >PFC2D 5.00</text>
<text x="535.2" y="636.5" font-family="'Liberation Sans', sans-serif" font-size="9" text-anchor="start" font-weight="normal" font-style="normal" fill="#333" textLength="145.4" lengthAdjust="spacingAndGlyphs" >&#169;2016 Itasca Consulting Group, Inc.</text>
<line x1="530" y1="643.8" x2="682.8" y2="643.8" stroke="#555" stroke-width="1.4"/>
<text x="535.4" y="659.6" font-family="'Liberation Serif', serif" font-size="12.2" text-anchor="start" font-weight="bold" font-style="normal" fill="#111" textLength="129.2" lengthAdjust="spacingAndGlyphs" >Ball displacement_mag</text>
<text x="543.8" y="672.7" font-family="'Liberation Serif', serif" font-size="12.2" text-anchor="start" font-weight="bold" font-style="normal" fill="#111" textLength="65.6" lengthAdjust="spacingAndGlyphs" >Balls (7478)</text>
<rect x="542.3" y="675.60" width="8.9" height="17.39" fill="rgb(255, 0, 0)"/>
<rect x="542.3" y="692.79" width="8.9" height="11.89" fill="rgb(255, 90, 0)"/>
<rect x="542.3" y="704.48" width="8.9" height="11.89" fill="rgb(255, 170, 0)"/>
<rect x="542.3" y="716.17" width="8.9" height="11.89" fill="rgb(230, 255, 0)"/>
<rect x="542.3" y="727.87" width="8.9" height="11.89" fill="rgb(130, 250, 0)"/>
<rect x="542.3" y="739.56" width="8.9" height="11.89" fill="rgb(25, 245, 10)"/>
<rect x="542.3" y="751.25" width="8.9" height="11.89" fill="rgb(0, 235, 45)"/>
<rect x="542.3" y="762.94" width="8.9" height="11.89" fill="rgb(0, 235, 140)"/>
<rect x="542.3" y="774.63" width="8.9" height="11.89" fill="rgb(0, 245, 230)"/>
<rect x="542.3" y="786.32" width="8.9" height="11.89" fill="rgb(0, 190, 240)"/>
<rect x="542.3" y="798.02" width="8.9" height="11.89" fill="rgb(0, 100, 240)"/>
<rect x="542.3" y="809.71" width="8.9" height="17.69" fill="rgb(0, 0, 240)"/>
<text x="559.1" y="686.0" font-family="'Liberation Sans', sans-serif" font-size="10.4" text-anchor="start" font-weight="normal" font-style="normal" fill="#222" textLength="55.3" lengthAdjust="spacingAndGlyphs" >2.9153E-03</text>
<text x="559.1" y="697.7" font-family="'Liberation Sans', sans-serif" font-size="10.4" text-anchor="start" font-weight="normal" font-style="normal" fill="#222" textLength="55.3" lengthAdjust="spacingAndGlyphs" >2.7500E-03</text>
<text x="559.1" y="709.4" font-family="'Liberation Sans', sans-serif" font-size="10.4" text-anchor="start" font-weight="normal" font-style="normal" fill="#222" textLength="55.3" lengthAdjust="spacingAndGlyphs" >2.5000E-03</text>
<text x="559.1" y="721.1" font-family="'Liberation Sans', sans-serif" font-size="10.4" text-anchor="start" font-weight="normal" font-style="normal" fill="#222" textLength="55.3" lengthAdjust="spacingAndGlyphs" >2.2500E-03</text>
<text x="559.1" y="732.8" font-family="'Liberation Sans', sans-serif" font-size="10.4" text-anchor="start" font-weight="normal" font-style="normal" fill="#222" textLength="55.3" lengthAdjust="spacingAndGlyphs" >2.0000E-03</text>
<text x="559.1" y="744.5" font-family="'Liberation Sans', sans-serif" font-size="10.4" text-anchor="start" font-weight="normal" font-style="normal" fill="#222" textLength="55.3" lengthAdjust="spacingAndGlyphs" >1.7500E-03</text>
<text x="559.1" y="756.2" font-family="'Liberation Sans', sans-serif" font-size="10.4" text-anchor="start" font-weight="normal" font-style="normal" fill="#222" textLength="55.3" lengthAdjust="spacingAndGlyphs" >1.5000E-03</text>
<text x="559.1" y="767.9" font-family="'Liberation Sans', sans-serif" font-size="10.4" text-anchor="start" font-weight="normal" font-style="normal" fill="#222" textLength="55.3" lengthAdjust="spacingAndGlyphs" >1.2500E-03</text>
<text x="559.1" y="779.6" font-family="'Liberation Sans', sans-serif" font-size="10.4" text-anchor="start" font-weight="normal" font-style="normal" fill="#222" textLength="55.3" lengthAdjust="spacingAndGlyphs" >1.0000E-03</text>
<text x="559.1" y="791.3" font-family="'Liberation Sans', sans-serif" font-size="10.4" text-anchor="start" font-weight="normal" font-style="normal" fill="#222" textLength="55.3" lengthAdjust="spacingAndGlyphs" >7.5000E-04</text>
<text x="559.1" y="803.0" font-family="'Liberation Sans', sans-serif" font-size="10.4" text-anchor="start" font-weight="normal" font-style="normal" fill="#222" textLength="55.3" lengthAdjust="spacingAndGlyphs" >5.0000E-04</text>
<text x="559.1" y="814.7" font-family="'Liberation Sans', sans-serif" font-size="10.4" text-anchor="start" font-weight="normal" font-style="normal" fill="#222" textLength="55.3" lengthAdjust="spacingAndGlyphs" >2.5000E-04</text>
<text x="559.1" y="826.3" font-family="'Liberation Sans', sans-serif" font-size="10.4" text-anchor="start" font-weight="normal" font-style="normal" fill="#222" textLength="55.3" lengthAdjust="spacingAndGlyphs" >5.3366E-06</text>
<text x="535.0" y="839.5" font-family="'Liberation Serif', serif" font-size="12.2" text-anchor="start" font-weight="bold" font-style="normal" fill="#111" textLength="27.4" lengthAdjust="spacingAndGlyphs" >DFN</text>
<text x="543.8" y="853.0" font-family="'Liberation Serif', serif" font-size="12.2" text-anchor="start" font-weight="bold" font-style="normal" fill="#111" textLength="93" lengthAdjust="spacingAndGlyphs" >Fractures (1246)</text>
<rect x="550.8" y="855.2" width="8.3" height="11.4" fill="#f00"/>
<text x="567.8" y="866.0" font-family="'Liberation Sans', sans-serif" font-size="10.4" text-anchor="start" font-weight="normal" font-style="normal" fill="#222" >facets</text>
</svg></body></html>
